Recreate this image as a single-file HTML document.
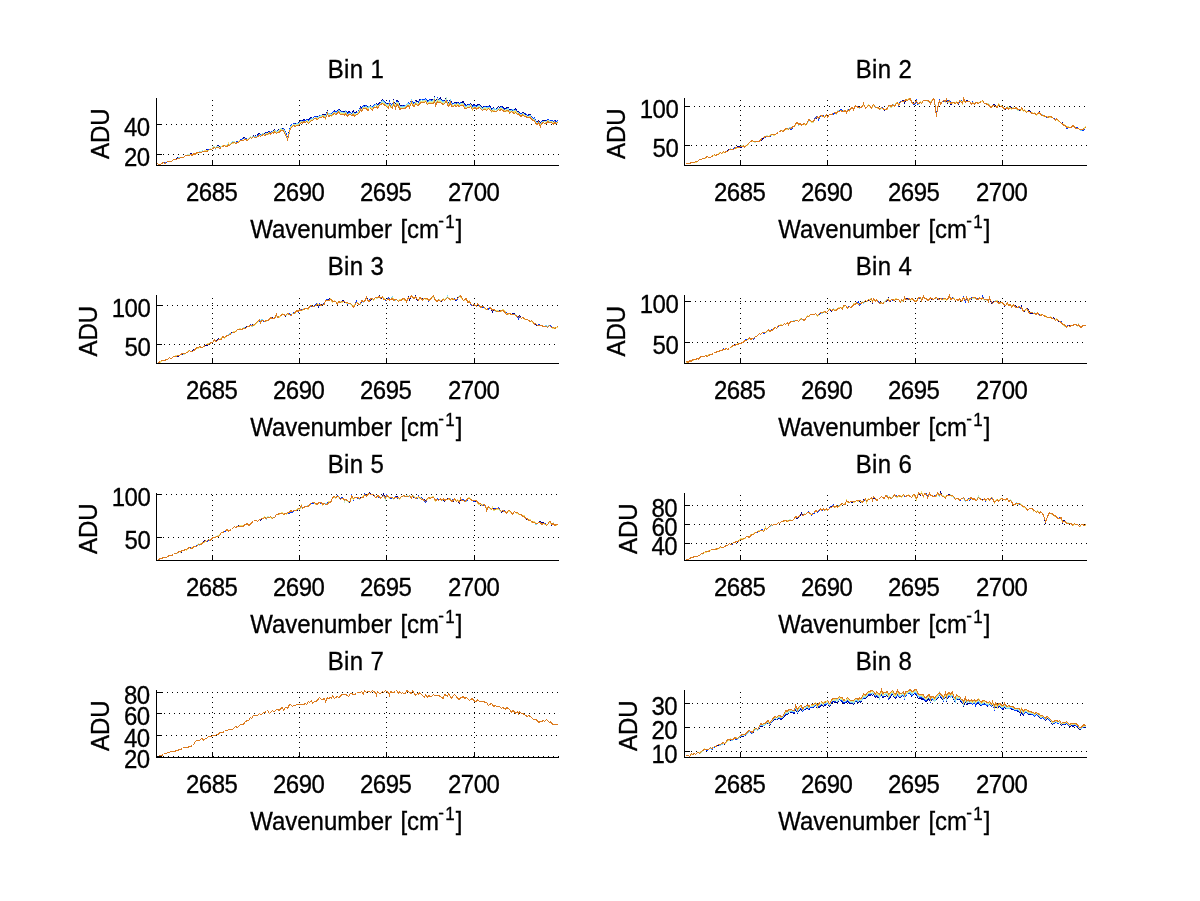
<!DOCTYPE html>
<html><head><meta charset="utf-8"><title>Bins</title>
<style>
html,body{margin:0;padding:0;background:#fff;}
svg{display:block;will-change:transform;}
text{font-family:"Liberation Sans",sans-serif;font-size:24px;fill:#000;stroke:#000;stroke-width:0.3px;}
.tk{letter-spacing:-0.5px;}
.ti{letter-spacing:0.4px;}
.sup{font-size:17px;}
.ax{stroke:#000;stroke-width:1;fill:none;shape-rendering:crispEdges;}
.gr{stroke:#000;stroke-width:1;fill:none;stroke-dasharray:1 4;shape-rendering:crispEdges;}
.ln{fill:none;stroke-width:1;shape-rendering:crispEdges;}
</style></head><body>
<svg width="1200" height="901" viewBox="0 0 1200 901">
<rect x="0" y="0" width="1200" height="901" fill="#fff"/>
<g id="p1">
<line class="gr" x1="161" y1="124.5" x2="559" y2="124.5"/>
<line class="gr" x1="158" y1="154.5" x2="559" y2="154.5"/>
<line class="gr" stroke-dashoffset="1" x1="212.5" y1="165" x2="212.5" y2="99"/>
<line class="gr" stroke-dashoffset="1" x1="299.5" y1="165" x2="299.5" y2="99"/>
<line class="gr" stroke-dashoffset="1" x1="386.5" y1="165" x2="386.5" y2="99"/>
<line class="gr" stroke-dashoffset="1" x1="474.5" y1="165" x2="474.5" y2="99"/>
<polyline class="ln" stroke="#00008f" points="157.5,164.5 158.5,164.5 160.5,164.5 161.5,163.5 163.5,162.5 164.5,162.5 166.5,162.5 167.5,161.5 169.5,161.5 170.5,161.5 171.5,161.5 173.5,159.5 174.5,159.5 176.5,159.5 177.5,157.5 179.5,157.5 180.5,157.5 182.5,157.5 183.5,157.5 185.5,155.5 186.5,155.5 187.5,154.5 189.5,154.5 190.5,153.5 192.5,154.5 193.5,153.5 195.5,153.5 196.5,152.5 198.5,152.5 199.5,151.5 201.5,151.5 202.5,150.5 203.5,151.5 205.5,150.5 206.5,149.5 208.5,149.5 209.5,149.5 211.5,148.5 212.5,147.5 214.5,146.5 215.5,147.5 216.5,146.5 218.5,145.5 219.5,147.5 221.5,146.5 222.5,145.5 224.5,145.5 225.5,145.5 227.5,145.5 228.5,143.5 229.5,144.5 231.5,142.5 232.5,141.5 234.5,141.5 235.5,142.5 237.5,141.5 238.5,141.5 240.5,139.5 241.5,139.5 243.5,137.5 244.5,137.5 245.5,138.5 247.5,139.5 248.5,138.5 250.5,136.5 251.5,137.5 253.5,135.5 254.5,136.5 256.5,135.5 257.5,134.5 259.5,133.5 260.5,135.5 261.5,134.5 263.5,133.5 264.5,133.5 266.5,132.5 267.5,132.5 269.5,131.5 270.5,132.5 272.5,131.5 273.5,131.5 274.5,129.5 276.5,131.5 277.5,130.5 279.5,129.5 280.5,128.5 282.5,128.5 283.5,128.5 285.5,133.5 286.5,134.5 287.5,138.5 289.5,130.5 290.5,125.5 292.5,124.5 293.5,123.5 295.5,123.5 296.5,123.5 298.5,123.5 299.5,121.5 301.5,120.5 302.5,121.5 303.5,119.5 305.5,120.5 306.5,119.5 308.5,120.5 309.5,118.5 311.5,117.5 312.5,118.5 314.5,116.5 315.5,116.5 317.5,116.5 318.5,116.5 319.5,115.5 321.5,115.5 322.5,114.5 324.5,114.5 325.5,115.5 327.5,111.5 328.5,114.5 330.5,113.5 331.5,113.5 332.5,112.5 334.5,110.5 335.5,111.5 337.5,111.5 338.5,109.5 340.5,110.5 341.5,111.5 343.5,111.5 344.5,112.5 345.5,110.5 347.5,113.5 348.5,111.5 350.5,112.5 351.5,113.5 353.5,110.5 354.5,113.5 356.5,111.5 357.5,112.5 359.5,109.5 360.5,106.5 361.5,107.5 363.5,105.5 364.5,105.5 366.5,105.5 367.5,107.5 369.5,106.5 370.5,105.5 372.5,107.5 373.5,105.5 375.5,104.5 376.5,103.5 377.5,105.5 379.5,102.5 380.5,102.5 382.5,99.5 383.5,100.5 385.5,102.5 386.5,103.5 388.5,104.5 389.5,102.5 390.5,103.5 392.5,105.5 393.5,100.5 395.5,105.5 396.5,100.5 398.5,101.5 399.5,105.5 401.5,105.5 402.5,105.5 403.5,105.5 405.5,105.5 406.5,104.5 408.5,102.5 409.5,104.5 411.5,100.5 412.5,102.5 414.5,103.5 415.5,100.5 417.5,101.5 418.5,102.5 419.5,99.5 421.5,99.5 422.5,99.5 424.5,99.5 425.5,98.5 427.5,100.5 428.5,100.5 430.5,99.5 431.5,99.5 433.5,100.5 434.5,97.5 435.5,102.5 437.5,98.5 438.5,99.5 440.5,97.5 441.5,100.5 443.5,100.5 444.5,100.5 446.5,97.5 447.5,102.5 448.5,102.5 450.5,99.5 451.5,103.5 453.5,103.5 454.5,102.5 456.5,102.5 457.5,102.5 459.5,103.5 460.5,102.5 461.5,102.5 463.5,101.5 464.5,104.5 466.5,105.5 467.5,104.5 469.5,104.5 470.5,103.5 472.5,106.5 473.5,104.5 475.5,105.5 476.5,106.5 477.5,104.5 479.5,104.5 480.5,106.5 482.5,107.5 483.5,106.5 485.5,106.5 486.5,106.5 488.5,106.5 489.5,105.5 491.5,109.5 492.5,108.5 493.5,107.5 495.5,109.5 496.5,108.5 498.5,106.5 499.5,107.5 501.5,106.5 502.5,106.5 504.5,108.5 505.5,108.5 506.5,107.5 508.5,107.5 509.5,110.5 511.5,109.5 512.5,109.5 514.5,109.5 515.5,108.5 517.5,111.5 518.5,111.5 519.5,113.5 521.5,113.5 522.5,112.5 524.5,113.5 525.5,114.5 527.5,115.5 528.5,114.5 530.5,114.5 531.5,117.5 533.5,118.5 534.5,117.5 535.5,121.5 537.5,122.5 538.5,120.5 540.5,123.5 541.5,121.5 543.5,120.5 544.5,120.5 546.5,120.5 547.5,119.5 549.5,120.5 550.5,120.5 551.5,120.5 553.5,121.5 554.5,120.5 556.5,121.5 557.5,120.5"/>
<polyline class="ln" stroke="#0038ff" points="157.5,163.5 158.5,164.5 160.5,164.5 161.5,163.5 163.5,162.5 164.5,162.5 166.5,162.5 167.5,161.5 169.5,161.5 170.5,161.5 171.5,161.5 173.5,159.5 174.5,159.5 176.5,159.5 177.5,158.5 179.5,158.5 180.5,157.5 182.5,157.5 183.5,157.5 185.5,155.5 186.5,155.5 187.5,154.5 189.5,154.5 190.5,154.5 192.5,154.5 193.5,153.5 195.5,153.5 196.5,152.5 198.5,152.5 199.5,151.5 201.5,151.5 202.5,150.5 203.5,151.5 205.5,150.5 206.5,150.5 208.5,149.5 209.5,149.5 211.5,148.5 212.5,147.5 214.5,146.5 215.5,147.5 216.5,146.5 218.5,146.5 219.5,147.5 221.5,146.5 222.5,145.5 224.5,145.5 225.5,145.5 227.5,145.5 228.5,143.5 229.5,144.5 231.5,142.5 232.5,142.5 234.5,141.5 235.5,142.5 237.5,141.5 238.5,141.5 240.5,139.5 241.5,139.5 243.5,138.5 244.5,138.5 245.5,138.5 247.5,139.5 248.5,138.5 250.5,136.5 251.5,137.5 253.5,136.5 254.5,136.5 256.5,136.5 257.5,135.5 259.5,134.5 260.5,134.5 261.5,134.5 263.5,133.5 264.5,134.5 266.5,132.5 267.5,133.5 269.5,131.5 270.5,132.5 272.5,131.5 273.5,131.5 274.5,130.5 276.5,131.5 277.5,130.5 279.5,130.5 280.5,128.5 282.5,129.5 283.5,128.5 285.5,132.5 286.5,134.5 287.5,138.5 289.5,131.5 290.5,125.5 292.5,124.5 293.5,123.5 295.5,124.5 296.5,123.5 298.5,123.5 299.5,122.5 301.5,120.5 302.5,121.5 303.5,120.5 305.5,121.5 306.5,119.5 308.5,120.5 309.5,119.5 311.5,118.5 312.5,118.5 314.5,116.5 315.5,116.5 317.5,117.5 318.5,116.5 319.5,115.5 321.5,116.5 322.5,115.5 324.5,115.5 325.5,116.5 327.5,112.5 328.5,114.5 330.5,113.5 331.5,113.5 332.5,112.5 334.5,111.5 335.5,111.5 337.5,112.5 338.5,109.5 340.5,111.5 341.5,111.5 343.5,112.5 344.5,113.5 345.5,110.5 347.5,113.5 348.5,112.5 350.5,112.5 351.5,113.5 353.5,112.5 354.5,114.5 356.5,112.5 357.5,112.5 359.5,109.5 360.5,107.5 361.5,108.5 363.5,105.5 364.5,106.5 366.5,105.5 367.5,108.5 369.5,106.5 370.5,106.5 372.5,107.5 373.5,105.5 375.5,104.5 376.5,104.5 377.5,105.5 379.5,103.5 380.5,102.5 382.5,100.5 383.5,100.5 385.5,103.5 386.5,103.5 388.5,105.5 389.5,101.5 390.5,104.5 392.5,105.5 393.5,101.5 395.5,106.5 396.5,101.5 398.5,102.5 399.5,107.5 401.5,106.5 402.5,105.5 403.5,106.5 405.5,105.5 406.5,104.5 408.5,102.5 409.5,104.5 411.5,100.5 412.5,102.5 414.5,103.5 415.5,101.5 417.5,103.5 418.5,102.5 419.5,100.5 421.5,99.5 422.5,99.5 424.5,99.5 425.5,98.5 427.5,101.5 428.5,100.5 430.5,99.5 431.5,100.5 433.5,100.5 434.5,97.5 435.5,103.5 437.5,98.5 438.5,100.5 440.5,99.5 441.5,101.5 443.5,100.5 444.5,101.5 446.5,98.5 447.5,102.5 448.5,103.5 450.5,100.5 451.5,104.5 453.5,103.5 454.5,103.5 456.5,103.5 457.5,102.5 459.5,104.5 460.5,102.5 461.5,103.5 463.5,103.5 464.5,105.5 466.5,105.5 467.5,105.5 469.5,104.5 470.5,104.5 472.5,107.5 473.5,105.5 475.5,105.5 476.5,107.5 477.5,105.5 479.5,105.5 480.5,106.5 482.5,108.5 483.5,107.5 485.5,106.5 486.5,107.5 488.5,106.5 489.5,106.5 491.5,109.5 492.5,108.5 493.5,108.5 495.5,109.5 496.5,109.5 498.5,108.5 499.5,108.5 501.5,106.5 502.5,107.5 504.5,109.5 505.5,109.5 506.5,108.5 508.5,108.5 509.5,111.5 511.5,109.5 512.5,110.5 514.5,110.5 515.5,109.5 517.5,112.5 518.5,112.5 519.5,113.5 521.5,113.5 522.5,113.5 524.5,114.5 525.5,113.5 527.5,115.5 528.5,115.5 530.5,115.5 531.5,117.5 533.5,118.5 534.5,117.5 535.5,121.5 537.5,122.5 538.5,121.5 540.5,124.5 541.5,121.5 543.5,121.5 544.5,121.5 546.5,121.5 547.5,119.5 549.5,120.5 550.5,120.5 551.5,120.5 553.5,121.5 554.5,120.5 556.5,122.5 557.5,120.5"/>
<polyline class="ln" stroke="#74d4ff" points="157.5,164.5 158.5,164.5 160.5,164.5 161.5,163.5 163.5,162.5 164.5,163.5 166.5,162.5 167.5,161.5 169.5,161.5 170.5,161.5 171.5,161.5 173.5,159.5 174.5,159.5 176.5,159.5 177.5,158.5 179.5,157.5 180.5,157.5 182.5,157.5 183.5,157.5 185.5,155.5 186.5,155.5 187.5,154.5 189.5,154.5 190.5,154.5 192.5,154.5 193.5,154.5 195.5,153.5 196.5,152.5 198.5,152.5 199.5,151.5 201.5,151.5 202.5,150.5 203.5,151.5 205.5,150.5 206.5,150.5 208.5,150.5 209.5,149.5 211.5,148.5 212.5,147.5 214.5,146.5 215.5,148.5 216.5,146.5 218.5,146.5 219.5,147.5 221.5,146.5 222.5,146.5 224.5,145.5 225.5,145.5 227.5,145.5 228.5,143.5 229.5,144.5 231.5,143.5 232.5,141.5 234.5,141.5 235.5,143.5 237.5,142.5 238.5,141.5 240.5,140.5 241.5,140.5 243.5,139.5 244.5,138.5 245.5,139.5 247.5,139.5 248.5,138.5 250.5,136.5 251.5,137.5 253.5,136.5 254.5,136.5 256.5,136.5 257.5,136.5 259.5,134.5 260.5,135.5 261.5,134.5 263.5,133.5 264.5,134.5 266.5,133.5 267.5,133.5 269.5,132.5 270.5,133.5 272.5,131.5 273.5,131.5 274.5,130.5 276.5,131.5 277.5,131.5 279.5,130.5 280.5,128.5 282.5,129.5 283.5,129.5 285.5,133.5 286.5,136.5 287.5,138.5 289.5,131.5 290.5,126.5 292.5,125.5 293.5,124.5 295.5,124.5 296.5,123.5 298.5,123.5 299.5,122.5 301.5,121.5 302.5,121.5 303.5,121.5 305.5,121.5 306.5,120.5 308.5,121.5 309.5,120.5 311.5,118.5 312.5,118.5 314.5,118.5 315.5,117.5 317.5,117.5 318.5,116.5 319.5,116.5 321.5,115.5 322.5,115.5 324.5,115.5 325.5,116.5 327.5,112.5 328.5,114.5 330.5,113.5 331.5,114.5 332.5,113.5 334.5,112.5 335.5,112.5 337.5,112.5 338.5,110.5 340.5,111.5 341.5,112.5 343.5,112.5 344.5,113.5 345.5,111.5 347.5,115.5 348.5,113.5 350.5,113.5 351.5,114.5 353.5,112.5 354.5,114.5 356.5,113.5 357.5,112.5 359.5,110.5 360.5,108.5 361.5,109.5 363.5,106.5 364.5,107.5 366.5,106.5 367.5,107.5 369.5,106.5 370.5,106.5 372.5,107.5 373.5,106.5 375.5,104.5 376.5,104.5 377.5,106.5 379.5,104.5 380.5,103.5 382.5,100.5 383.5,101.5 385.5,103.5 386.5,104.5 388.5,105.5 389.5,103.5 390.5,105.5 392.5,106.5 393.5,101.5 395.5,107.5 396.5,102.5 398.5,102.5 399.5,107.5 401.5,106.5 402.5,106.5 403.5,106.5 405.5,106.5 406.5,104.5 408.5,103.5 409.5,105.5 411.5,100.5 412.5,104.5 414.5,104.5 415.5,101.5 417.5,103.5 418.5,104.5 419.5,101.5 421.5,99.5 422.5,100.5 424.5,100.5 425.5,99.5 427.5,102.5 428.5,101.5 430.5,100.5 431.5,101.5 433.5,100.5 434.5,98.5 435.5,104.5 437.5,99.5 438.5,100.5 440.5,99.5 441.5,101.5 443.5,101.5 444.5,101.5 446.5,98.5 447.5,103.5 448.5,104.5 450.5,100.5 451.5,105.5 453.5,104.5 454.5,103.5 456.5,104.5 457.5,103.5 459.5,104.5 460.5,103.5 461.5,104.5 463.5,103.5 464.5,106.5 466.5,106.5 467.5,105.5 469.5,105.5 470.5,104.5 472.5,108.5 473.5,106.5 475.5,106.5 476.5,107.5 477.5,106.5 479.5,105.5 480.5,106.5 482.5,108.5 483.5,107.5 485.5,107.5 486.5,107.5 488.5,107.5 489.5,107.5 491.5,110.5 492.5,109.5 493.5,108.5 495.5,109.5 496.5,109.5 498.5,108.5 499.5,108.5 501.5,107.5 502.5,108.5 504.5,110.5 505.5,109.5 506.5,109.5 508.5,108.5 509.5,111.5 511.5,110.5 512.5,109.5 514.5,110.5 515.5,110.5 517.5,112.5 518.5,112.5 519.5,114.5 521.5,114.5 522.5,113.5 524.5,114.5 525.5,115.5 527.5,116.5 528.5,116.5 530.5,115.5 531.5,118.5 533.5,119.5 534.5,118.5 535.5,122.5 537.5,122.5 538.5,121.5 540.5,124.5 541.5,122.5 543.5,121.5 544.5,121.5 546.5,122.5 547.5,120.5 549.5,120.5 550.5,121.5 551.5,121.5 553.5,122.5 554.5,121.5 556.5,123.5 557.5,121.5"/>
<polyline class="ln" stroke="#c0f0ca" points="157.5,164.5 158.5,164.5 160.5,164.5 161.5,163.5 163.5,162.5 164.5,163.5 166.5,162.5 167.5,161.5 169.5,161.5 170.5,161.5 171.5,161.5 173.5,159.5 174.5,159.5 176.5,159.5 177.5,158.5 179.5,158.5 180.5,157.5 182.5,157.5 183.5,157.5 185.5,155.5 186.5,155.5 187.5,154.5 189.5,154.5 190.5,154.5 192.5,154.5 193.5,153.5 195.5,153.5 196.5,153.5 198.5,152.5 199.5,152.5 201.5,151.5 202.5,151.5 203.5,151.5 205.5,150.5 206.5,150.5 208.5,150.5 209.5,149.5 211.5,148.5 212.5,147.5 214.5,146.5 215.5,147.5 216.5,147.5 218.5,146.5 219.5,148.5 221.5,146.5 222.5,145.5 224.5,145.5 225.5,145.5 227.5,145.5 228.5,144.5 229.5,144.5 231.5,143.5 232.5,142.5 234.5,141.5 235.5,143.5 237.5,142.5 238.5,142.5 240.5,140.5 241.5,140.5 243.5,139.5 244.5,138.5 245.5,139.5 247.5,139.5 248.5,138.5 250.5,136.5 251.5,138.5 253.5,136.5 254.5,137.5 256.5,137.5 257.5,136.5 259.5,134.5 260.5,136.5 261.5,135.5 263.5,133.5 264.5,134.5 266.5,133.5 267.5,133.5 269.5,132.5 270.5,133.5 272.5,132.5 273.5,132.5 274.5,130.5 276.5,132.5 277.5,131.5 279.5,130.5 280.5,128.5 282.5,130.5 283.5,129.5 285.5,134.5 286.5,135.5 287.5,139.5 289.5,132.5 290.5,127.5 292.5,126.5 293.5,124.5 295.5,124.5 296.5,124.5 298.5,124.5 299.5,123.5 301.5,121.5 302.5,122.5 303.5,121.5 305.5,121.5 306.5,120.5 308.5,121.5 309.5,120.5 311.5,119.5 312.5,119.5 314.5,118.5 315.5,117.5 317.5,118.5 318.5,117.5 319.5,116.5 321.5,116.5 322.5,115.5 324.5,116.5 325.5,117.5 327.5,112.5 328.5,115.5 330.5,114.5 331.5,115.5 332.5,113.5 334.5,112.5 335.5,114.5 337.5,112.5 338.5,111.5 340.5,112.5 341.5,112.5 343.5,113.5 344.5,113.5 345.5,112.5 347.5,114.5 348.5,114.5 350.5,113.5 351.5,115.5 353.5,112.5 354.5,115.5 356.5,114.5 357.5,113.5 359.5,110.5 360.5,108.5 361.5,109.5 363.5,107.5 364.5,107.5 366.5,107.5 367.5,109.5 369.5,107.5 370.5,107.5 372.5,108.5 373.5,107.5 375.5,105.5 376.5,105.5 377.5,106.5 379.5,104.5 380.5,103.5 382.5,101.5 383.5,103.5 385.5,104.5 386.5,104.5 388.5,106.5 389.5,102.5 390.5,106.5 392.5,106.5 393.5,101.5 395.5,106.5 396.5,102.5 398.5,103.5 399.5,108.5 401.5,107.5 402.5,107.5 403.5,107.5 405.5,107.5 406.5,105.5 408.5,104.5 409.5,105.5 411.5,101.5 412.5,104.5 414.5,105.5 415.5,101.5 417.5,103.5 418.5,104.5 419.5,101.5 421.5,101.5 422.5,101.5 424.5,100.5 425.5,100.5 427.5,102.5 428.5,102.5 430.5,101.5 431.5,101.5 433.5,101.5 434.5,99.5 435.5,103.5 437.5,99.5 438.5,101.5 440.5,100.5 441.5,102.5 443.5,102.5 444.5,102.5 446.5,98.5 447.5,103.5 448.5,104.5 450.5,101.5 451.5,105.5 453.5,105.5 454.5,104.5 456.5,105.5 457.5,103.5 459.5,105.5 460.5,104.5 461.5,103.5 463.5,104.5 464.5,107.5 466.5,107.5 467.5,105.5 469.5,106.5 470.5,105.5 472.5,108.5 473.5,107.5 475.5,107.5 476.5,108.5 477.5,106.5 479.5,106.5 480.5,107.5 482.5,109.5 483.5,108.5 485.5,107.5 486.5,108.5 488.5,108.5 489.5,107.5 491.5,111.5 492.5,109.5 493.5,109.5 495.5,111.5 496.5,110.5 498.5,108.5 499.5,109.5 501.5,108.5 502.5,108.5 504.5,110.5 505.5,109.5 506.5,109.5 508.5,109.5 509.5,112.5 511.5,110.5 512.5,111.5 514.5,111.5 515.5,110.5 517.5,112.5 518.5,113.5 519.5,114.5 521.5,114.5 522.5,113.5 524.5,115.5 525.5,115.5 527.5,116.5 528.5,116.5 530.5,116.5 531.5,118.5 533.5,119.5 534.5,119.5 535.5,122.5 537.5,123.5 538.5,122.5 540.5,125.5 541.5,122.5 543.5,122.5 544.5,121.5 546.5,122.5 547.5,120.5 549.5,121.5 550.5,121.5 551.5,121.5 553.5,122.5 554.5,121.5 556.5,123.5 557.5,121.5"/>
<polyline class="ln" stroke="#f0e274" points="157.5,164.5 158.5,164.5 160.5,164.5 161.5,163.5 163.5,162.5 164.5,163.5 166.5,162.5 167.5,161.5 169.5,161.5 170.5,161.5 171.5,161.5 173.5,159.5 174.5,159.5 176.5,159.5 177.5,158.5 179.5,158.5 180.5,157.5 182.5,157.5 183.5,157.5 185.5,155.5 186.5,155.5 187.5,155.5 189.5,155.5 190.5,154.5 192.5,154.5 193.5,154.5 195.5,154.5 196.5,153.5 198.5,152.5 199.5,152.5 201.5,152.5 202.5,151.5 203.5,151.5 205.5,150.5 206.5,150.5 208.5,150.5 209.5,149.5 211.5,149.5 212.5,148.5 214.5,147.5 215.5,148.5 216.5,147.5 218.5,147.5 219.5,148.5 221.5,146.5 222.5,145.5 224.5,145.5 225.5,145.5 227.5,146.5 228.5,143.5 229.5,145.5 231.5,143.5 232.5,143.5 234.5,142.5 235.5,143.5 237.5,142.5 238.5,141.5 240.5,140.5 241.5,140.5 243.5,139.5 244.5,138.5 245.5,139.5 247.5,139.5 248.5,139.5 250.5,137.5 251.5,138.5 253.5,136.5 254.5,137.5 256.5,137.5 257.5,136.5 259.5,135.5 260.5,136.5 261.5,135.5 263.5,134.5 264.5,135.5 266.5,133.5 267.5,134.5 269.5,133.5 270.5,133.5 272.5,132.5 273.5,132.5 274.5,130.5 276.5,132.5 277.5,132.5 279.5,131.5 280.5,129.5 282.5,130.5 283.5,129.5 285.5,134.5 286.5,135.5 287.5,139.5 289.5,132.5 290.5,127.5 292.5,125.5 293.5,125.5 295.5,125.5 296.5,125.5 298.5,125.5 299.5,123.5 301.5,121.5 302.5,122.5 303.5,122.5 305.5,122.5 306.5,121.5 308.5,122.5 309.5,121.5 311.5,120.5 312.5,120.5 314.5,118.5 315.5,118.5 317.5,118.5 318.5,118.5 319.5,117.5 321.5,117.5 322.5,115.5 324.5,116.5 325.5,118.5 327.5,113.5 328.5,116.5 330.5,115.5 331.5,116.5 332.5,114.5 334.5,112.5 335.5,113.5 337.5,113.5 338.5,111.5 340.5,113.5 341.5,113.5 343.5,113.5 344.5,114.5 345.5,112.5 347.5,115.5 348.5,114.5 350.5,114.5 351.5,115.5 353.5,113.5 354.5,115.5 356.5,114.5 357.5,113.5 359.5,111.5 360.5,109.5 361.5,110.5 363.5,107.5 364.5,108.5 366.5,107.5 367.5,109.5 369.5,108.5 370.5,107.5 372.5,109.5 373.5,107.5 375.5,106.5 376.5,105.5 377.5,106.5 379.5,104.5 380.5,104.5 382.5,103.5 383.5,103.5 385.5,104.5 386.5,105.5 388.5,107.5 389.5,104.5 390.5,107.5 392.5,107.5 393.5,102.5 395.5,108.5 396.5,103.5 398.5,104.5 399.5,108.5 401.5,108.5 402.5,108.5 403.5,108.5 405.5,107.5 406.5,106.5 408.5,105.5 409.5,106.5 411.5,101.5 412.5,104.5 414.5,105.5 415.5,103.5 417.5,104.5 418.5,105.5 419.5,102.5 421.5,101.5 422.5,101.5 424.5,101.5 425.5,100.5 427.5,103.5 428.5,102.5 430.5,102.5 431.5,102.5 433.5,102.5 434.5,100.5 435.5,105.5 437.5,100.5 438.5,102.5 440.5,101.5 441.5,103.5 443.5,103.5 444.5,103.5 446.5,100.5 447.5,104.5 448.5,104.5 450.5,102.5 451.5,105.5 453.5,105.5 454.5,104.5 456.5,105.5 457.5,103.5 459.5,105.5 460.5,105.5 461.5,104.5 463.5,104.5 464.5,107.5 466.5,108.5 467.5,107.5 469.5,107.5 470.5,105.5 472.5,109.5 473.5,107.5 475.5,107.5 476.5,108.5 477.5,107.5 479.5,107.5 480.5,108.5 482.5,110.5 483.5,109.5 485.5,108.5 486.5,109.5 488.5,108.5 489.5,108.5 491.5,110.5 492.5,111.5 493.5,110.5 495.5,111.5 496.5,111.5 498.5,109.5 499.5,109.5 501.5,108.5 502.5,109.5 504.5,110.5 505.5,110.5 506.5,111.5 508.5,110.5 509.5,112.5 511.5,111.5 512.5,111.5 514.5,112.5 515.5,110.5 517.5,113.5 518.5,113.5 519.5,115.5 521.5,115.5 522.5,114.5 524.5,115.5 525.5,115.5 527.5,117.5 528.5,117.5 530.5,116.5 531.5,119.5 533.5,120.5 534.5,119.5 535.5,123.5 537.5,123.5 538.5,122.5 540.5,125.5 541.5,123.5 543.5,122.5 544.5,121.5 546.5,123.5 547.5,120.5 549.5,122.5 550.5,122.5 551.5,121.5 553.5,123.5 554.5,121.5 556.5,123.5 557.5,122.5"/>
<polyline class="ln" stroke="#dc7c20" points="157.5,163.5 158.5,164.5 160.5,164.5 161.5,163.5 163.5,162.5 164.5,163.5 166.5,162.5 167.5,161.5 169.5,161.5 170.5,161.5 171.5,161.5 173.5,159.5 174.5,159.5 176.5,159.5 177.5,158.5 179.5,158.5 180.5,157.5 182.5,157.5 183.5,157.5 185.5,155.5 186.5,155.5 187.5,155.5 189.5,155.5 190.5,154.5 192.5,155.5 193.5,153.5 195.5,154.5 196.5,152.5 198.5,152.5 199.5,152.5 201.5,152.5 202.5,151.5 203.5,151.5 205.5,151.5 206.5,151.5 208.5,150.5 209.5,149.5 211.5,149.5 212.5,148.5 214.5,147.5 215.5,148.5 216.5,147.5 218.5,147.5 219.5,148.5 221.5,147.5 222.5,146.5 224.5,145.5 225.5,146.5 227.5,146.5 228.5,144.5 229.5,145.5 231.5,143.5 232.5,142.5 234.5,142.5 235.5,143.5 237.5,142.5 238.5,142.5 240.5,140.5 241.5,140.5 243.5,140.5 244.5,139.5 245.5,139.5 247.5,140.5 248.5,139.5 250.5,137.5 251.5,138.5 253.5,136.5 254.5,137.5 256.5,137.5 257.5,136.5 259.5,135.5 260.5,136.5 261.5,135.5 263.5,134.5 264.5,135.5 266.5,134.5 267.5,134.5 269.5,132.5 270.5,134.5 272.5,132.5 273.5,133.5 274.5,131.5 276.5,133.5 277.5,132.5 279.5,132.5 280.5,130.5 282.5,130.5 283.5,130.5 285.5,135.5 286.5,136.5 287.5,139.5 289.5,132.5 290.5,128.5 292.5,126.5 293.5,125.5 295.5,126.5 296.5,125.5 298.5,125.5 299.5,124.5 301.5,122.5 302.5,123.5 303.5,121.5 305.5,122.5 306.5,121.5 308.5,123.5 309.5,122.5 311.5,120.5 312.5,120.5 314.5,118.5 315.5,118.5 317.5,119.5 318.5,118.5 319.5,117.5 321.5,117.5 322.5,116.5 324.5,117.5 325.5,118.5 327.5,113.5 328.5,116.5 330.5,115.5 331.5,115.5 332.5,114.5 334.5,113.5 335.5,114.5 337.5,113.5 338.5,111.5 340.5,114.5 341.5,114.5 343.5,114.5 344.5,115.5 345.5,113.5 347.5,116.5 348.5,114.5 350.5,114.5 351.5,115.5 353.5,114.5 354.5,116.5 356.5,114.5 357.5,114.5 359.5,112.5 360.5,109.5 361.5,111.5 363.5,108.5 364.5,108.5 366.5,108.5 367.5,110.5 369.5,109.5 370.5,108.5 372.5,110.5 373.5,107.5 375.5,107.5 376.5,106.5 377.5,108.5 379.5,105.5 380.5,104.5 382.5,103.5 383.5,104.5 385.5,105.5 386.5,106.5 388.5,108.5 389.5,104.5 390.5,106.5 392.5,108.5 393.5,103.5 395.5,108.5 396.5,104.5 398.5,105.5 399.5,109.5 401.5,108.5 402.5,108.5 403.5,108.5 405.5,108.5 406.5,106.5 408.5,105.5 409.5,107.5 411.5,102.5 412.5,105.5 414.5,106.5 415.5,103.5 417.5,105.5 418.5,105.5 419.5,103.5 421.5,102.5 422.5,102.5 424.5,102.5 425.5,101.5 427.5,104.5 428.5,103.5 430.5,103.5 431.5,103.5 433.5,103.5 434.5,100.5 435.5,105.5 437.5,101.5 438.5,102.5 440.5,102.5 441.5,103.5 443.5,104.5 444.5,103.5 446.5,100.5 447.5,105.5 448.5,106.5 450.5,102.5 451.5,106.5 453.5,106.5 454.5,105.5 456.5,106.5 457.5,105.5 459.5,106.5 460.5,105.5 461.5,105.5 463.5,105.5 464.5,108.5 466.5,108.5 467.5,107.5 469.5,107.5 470.5,106.5 472.5,109.5 473.5,108.5 475.5,107.5 476.5,109.5 477.5,108.5 479.5,107.5 480.5,108.5 482.5,110.5 483.5,109.5 485.5,109.5 486.5,110.5 488.5,108.5 489.5,109.5 491.5,111.5 492.5,110.5 493.5,111.5 495.5,111.5 496.5,111.5 498.5,109.5 499.5,110.5 501.5,109.5 502.5,110.5 504.5,111.5 505.5,111.5 506.5,110.5 508.5,110.5 509.5,113.5 511.5,111.5 512.5,112.5 514.5,113.5 515.5,112.5 517.5,114.5 518.5,113.5 519.5,115.5 521.5,116.5 522.5,114.5 524.5,116.5 525.5,116.5 527.5,117.5 528.5,117.5 530.5,117.5 531.5,119.5 533.5,120.5 534.5,120.5 535.5,123.5 537.5,124.5 538.5,122.5 540.5,126.5 541.5,123.5 543.5,122.5 544.5,123.5 546.5,123.5 547.5,121.5 549.5,122.5 550.5,122.5 551.5,122.5 553.5,124.5 554.5,122.5 556.5,123.5 557.5,122.5"/>
<path class="ax" d="M156.5 98 V165.5 H559"/>
<line class="ax" x1="156" y1="124.5" x2="162" y2="124.5"/>
<line class="ax" x1="156" y1="154.5" x2="162" y2="154.5"/>
<line class="ax" x1="212.5" y1="166" x2="212.5" y2="160"/>
<line class="ax" x1="299.5" y1="166" x2="299.5" y2="160"/>
<line class="ax" x1="386.5" y1="166" x2="386.5" y2="160"/>
<line class="ax" x1="474.5" y1="166" x2="474.5" y2="160"/>
<text class="tk" transform="translate(149.6,135.7) scale(1,1.05)" text-anchor="end">40</text>
<text class="tk" transform="translate(149.6,165.7) scale(1,1.05)" text-anchor="end">20</text>
<text class="tk" transform="translate(211.7,200.6) scale(1,1.05)" text-anchor="middle">2685</text>
<text class="tk" transform="translate(298.7,200.6) scale(1,1.05)" text-anchor="middle">2690</text>
<text class="tk" transform="translate(385.7,200.6) scale(1,1.05)" text-anchor="middle">2695</text>
<text class="tk" transform="translate(473.7,200.6) scale(1,1.05)" text-anchor="middle">2700</text>
<text class="ti" transform="translate(356.0,77.5) scale(1,1.05)" text-anchor="middle">Bin 1</text>
<text transform="translate(250.2,238.0) scale(1,1.05)" text-anchor="start">Wavenumber</text>
<text transform="translate(400.4,238.0) scale(1,1.05)" text-anchor="start">[cm</text>
<text class="sup" transform="translate(438.2,226.7) scale(1,1.05)" text-anchor="start">-</text>
<text class="sup" transform="translate(445.2,227.5) scale(1,1.05)" text-anchor="start">1</text>
<text transform="translate(455.8,238.0) scale(1,1.05)" text-anchor="start">]</text>
<text transform="translate(109.4,133.7) rotate(-90) scale(1,1.05)" text-anchor="middle">ADU</text>
</g>
<g id="p2">
<line class="gr" x1="689" y1="106.5" x2="1087" y2="106.5"/>
<line class="gr" x1="686" y1="145.5" x2="1087" y2="145.5"/>
<line class="gr" stroke-dashoffset="1" x1="740.5" y1="165" x2="740.5" y2="99"/>
<line class="gr" stroke-dashoffset="1" x1="827.5" y1="165" x2="827.5" y2="99"/>
<line class="gr" stroke-dashoffset="1" x1="915.5" y1="165" x2="915.5" y2="99"/>
<line class="gr" stroke-dashoffset="1" x1="1002.5" y1="165" x2="1002.5" y2="99"/>
<polyline class="ln" stroke="#00008f" points="685.5,164.5 686.5,163.5 688.5,163.5 689.5,163.5 691.5,162.5 692.5,162.5 694.5,162.5 695.5,161.5 697.5,161.5 698.5,160.5 699.5,159.5 701.5,159.5 702.5,158.5 704.5,158.5 705.5,157.5 707.5,156.5 708.5,157.5 710.5,157.5 711.5,156.5 713.5,155.5 714.5,155.5 715.5,155.5 717.5,154.5 718.5,153.5 720.5,152.5 721.5,153.5 723.5,151.5 724.5,152.5 726.5,151.5 727.5,150.5 729.5,149.5 730.5,149.5 731.5,149.5 733.5,149.5 734.5,147.5 736.5,148.5 737.5,146.5 739.5,146.5 740.5,147.5 742.5,146.5 743.5,145.5 744.5,146.5 746.5,145.5 747.5,145.5 749.5,142.5 750.5,141.5 752.5,141.5 753.5,141.5 755.5,141.5 756.5,141.5 757.5,141.5 759.5,141.5 760.5,140.5 762.5,139.5 763.5,137.5 765.5,136.5 766.5,136.5 768.5,136.5 769.5,136.5 771.5,135.5 772.5,134.5 773.5,134.5 775.5,134.5 776.5,133.5 778.5,132.5 779.5,131.5 781.5,130.5 782.5,130.5 784.5,130.5 785.5,129.5 787.5,129.5 788.5,129.5 789.5,128.5 791.5,128.5 792.5,126.5 794.5,126.5 795.5,124.5 797.5,122.5 798.5,125.5 800.5,123.5 801.5,125.5 802.5,124.5 804.5,123.5 805.5,124.5 807.5,123.5 808.5,119.5 810.5,120.5 811.5,121.5 813.5,121.5 814.5,119.5 815.5,118.5 817.5,117.5 818.5,118.5 820.5,115.5 821.5,115.5 823.5,116.5 824.5,116.5 826.5,115.5 827.5,116.5 829.5,114.5 830.5,114.5 831.5,114.5 833.5,114.5 834.5,112.5 836.5,113.5 837.5,110.5 839.5,111.5 840.5,110.5 842.5,110.5 843.5,111.5 845.5,111.5 846.5,112.5 847.5,109.5 849.5,111.5 850.5,108.5 852.5,108.5 853.5,109.5 855.5,105.5 856.5,106.5 858.5,106.5 859.5,108.5 860.5,107.5 862.5,106.5 863.5,104.5 865.5,107.5 866.5,107.5 868.5,105.5 869.5,105.5 871.5,108.5 872.5,105.5 873.5,105.5 875.5,106.5 876.5,107.5 878.5,108.5 879.5,109.5 881.5,107.5 882.5,108.5 884.5,110.5 885.5,109.5 887.5,109.5 888.5,105.5 889.5,106.5 891.5,107.5 892.5,104.5 894.5,105.5 895.5,104.5 897.5,102.5 898.5,105.5 900.5,102.5 901.5,101.5 903.5,100.5 904.5,102.5 905.5,100.5 907.5,99.5 908.5,98.5 910.5,98.5 911.5,102.5 913.5,102.5 914.5,103.5 916.5,101.5 917.5,103.5 918.5,103.5 920.5,101.5 921.5,103.5 923.5,100.5 924.5,100.5 926.5,100.5 927.5,100.5 929.5,101.5 930.5,103.5 931.5,101.5 933.5,98.5 934.5,100.5 936.5,115.5 937.5,107.5 939.5,101.5 940.5,103.5 942.5,101.5 943.5,100.5 945.5,101.5 946.5,99.5 947.5,103.5 949.5,100.5 950.5,104.5 952.5,103.5 953.5,102.5 955.5,103.5 956.5,101.5 958.5,104.5 959.5,100.5 961.5,101.5 962.5,103.5 963.5,99.5 965.5,102.5 966.5,100.5 968.5,101.5 969.5,101.5 971.5,104.5 972.5,101.5 974.5,104.5 975.5,102.5 976.5,102.5 978.5,102.5 979.5,102.5 981.5,101.5 982.5,100.5 984.5,103.5 985.5,103.5 987.5,103.5 988.5,103.5 989.5,105.5 991.5,107.5 992.5,105.5 994.5,104.5 995.5,106.5 997.5,106.5 998.5,104.5 1000.5,106.5 1001.5,105.5 1003.5,107.5 1004.5,108.5 1005.5,109.5 1007.5,106.5 1008.5,109.5 1010.5,106.5 1011.5,108.5 1013.5,108.5 1014.5,108.5 1016.5,108.5 1017.5,110.5 1019.5,110.5 1020.5,109.5 1021.5,108.5 1023.5,110.5 1024.5,110.5 1026.5,111.5 1027.5,111.5 1029.5,110.5 1030.5,111.5 1032.5,113.5 1033.5,113.5 1034.5,112.5 1036.5,114.5 1037.5,113.5 1039.5,111.5 1040.5,114.5 1042.5,115.5 1043.5,115.5 1045.5,116.5 1046.5,116.5 1047.5,116.5 1049.5,117.5 1050.5,116.5 1052.5,117.5 1053.5,118.5 1055.5,120.5 1056.5,118.5 1058.5,120.5 1059.5,121.5 1061.5,123.5 1062.5,122.5 1063.5,125.5 1065.5,125.5 1066.5,127.5 1068.5,126.5 1069.5,127.5 1071.5,127.5 1072.5,125.5 1074.5,126.5 1075.5,128.5 1077.5,128.5 1078.5,128.5 1079.5,129.5 1081.5,129.5 1082.5,130.5 1084.5,129.5 1085.5,126.5"/>
<polyline class="ln" stroke="#0038ff" points="685.5,164.5 686.5,163.5 688.5,163.5 689.5,163.5 691.5,162.5 692.5,162.5 694.5,162.5 695.5,161.5 697.5,161.5 698.5,160.5 699.5,159.5 701.5,159.5 702.5,158.5 704.5,158.5 705.5,157.5 707.5,156.5 708.5,157.5 710.5,157.5 711.5,156.5 713.5,155.5 714.5,155.5 715.5,155.5 717.5,154.5 718.5,154.5 720.5,152.5 721.5,153.5 723.5,152.5 724.5,152.5 726.5,151.5 727.5,151.5 729.5,149.5 730.5,149.5 731.5,149.5 733.5,149.5 734.5,147.5 736.5,147.5 737.5,147.5 739.5,147.5 740.5,146.5 742.5,145.5 743.5,145.5 744.5,146.5 746.5,145.5 747.5,144.5 749.5,142.5 750.5,141.5 752.5,141.5 753.5,141.5 755.5,141.5 756.5,141.5 757.5,141.5 759.5,141.5 760.5,139.5 762.5,138.5 763.5,137.5 765.5,137.5 766.5,136.5 768.5,136.5 769.5,136.5 771.5,135.5 772.5,134.5 773.5,134.5 775.5,134.5 776.5,133.5 778.5,132.5 779.5,131.5 781.5,130.5 782.5,130.5 784.5,130.5 785.5,128.5 787.5,129.5 788.5,129.5 789.5,128.5 791.5,129.5 792.5,127.5 794.5,125.5 795.5,124.5 797.5,122.5 798.5,125.5 800.5,123.5 801.5,124.5 802.5,124.5 804.5,124.5 805.5,125.5 807.5,123.5 808.5,119.5 810.5,120.5 811.5,122.5 813.5,122.5 814.5,119.5 815.5,117.5 817.5,116.5 818.5,119.5 820.5,115.5 821.5,115.5 823.5,115.5 824.5,117.5 826.5,115.5 827.5,116.5 829.5,115.5 830.5,114.5 831.5,114.5 833.5,114.5 834.5,112.5 836.5,114.5 837.5,110.5 839.5,111.5 840.5,109.5 842.5,110.5 843.5,110.5 845.5,110.5 846.5,112.5 847.5,109.5 849.5,110.5 850.5,108.5 852.5,108.5 853.5,109.5 855.5,105.5 856.5,106.5 858.5,107.5 859.5,107.5 860.5,107.5 862.5,106.5 863.5,104.5 865.5,107.5 866.5,107.5 868.5,105.5 869.5,106.5 871.5,108.5 872.5,106.5 873.5,104.5 875.5,107.5 876.5,107.5 878.5,108.5 879.5,109.5 881.5,108.5 882.5,107.5 884.5,109.5 885.5,109.5 887.5,109.5 888.5,105.5 889.5,105.5 891.5,106.5 892.5,104.5 894.5,106.5 895.5,103.5 897.5,102.5 898.5,105.5 900.5,101.5 901.5,101.5 903.5,101.5 904.5,101.5 905.5,100.5 907.5,99.5 908.5,99.5 910.5,98.5 911.5,101.5 913.5,104.5 914.5,104.5 916.5,100.5 917.5,104.5 918.5,103.5 920.5,102.5 921.5,103.5 923.5,100.5 924.5,100.5 926.5,100.5 927.5,101.5 929.5,101.5 930.5,102.5 931.5,100.5 933.5,99.5 934.5,100.5 936.5,115.5 937.5,107.5 939.5,100.5 940.5,103.5 942.5,101.5 943.5,101.5 945.5,101.5 946.5,99.5 947.5,101.5 949.5,100.5 950.5,102.5 952.5,103.5 953.5,102.5 955.5,103.5 956.5,101.5 958.5,103.5 959.5,101.5 961.5,100.5 962.5,103.5 963.5,99.5 965.5,102.5 966.5,101.5 968.5,101.5 969.5,101.5 971.5,104.5 972.5,101.5 974.5,103.5 975.5,103.5 976.5,102.5 978.5,103.5 979.5,102.5 981.5,101.5 982.5,100.5 984.5,103.5 985.5,103.5 987.5,104.5 988.5,103.5 989.5,105.5 991.5,107.5 992.5,105.5 994.5,105.5 995.5,106.5 997.5,106.5 998.5,103.5 1000.5,106.5 1001.5,105.5 1003.5,108.5 1004.5,109.5 1005.5,108.5 1007.5,107.5 1008.5,108.5 1010.5,107.5 1011.5,108.5 1013.5,108.5 1014.5,108.5 1016.5,107.5 1017.5,109.5 1019.5,109.5 1020.5,109.5 1021.5,109.5 1023.5,110.5 1024.5,109.5 1026.5,111.5 1027.5,111.5 1029.5,111.5 1030.5,112.5 1032.5,113.5 1033.5,113.5 1034.5,113.5 1036.5,115.5 1037.5,114.5 1039.5,112.5 1040.5,114.5 1042.5,114.5 1043.5,116.5 1045.5,116.5 1046.5,117.5 1047.5,117.5 1049.5,117.5 1050.5,117.5 1052.5,117.5 1053.5,118.5 1055.5,119.5 1056.5,118.5 1058.5,121.5 1059.5,121.5 1061.5,123.5 1062.5,124.5 1063.5,125.5 1065.5,125.5 1066.5,128.5 1068.5,127.5 1069.5,127.5 1071.5,127.5 1072.5,125.5 1074.5,126.5 1075.5,128.5 1077.5,127.5 1078.5,128.5 1079.5,129.5 1081.5,129.5 1082.5,130.5 1084.5,129.5 1085.5,126.5"/>
<polyline class="ln" stroke="#74d4ff" points="685.5,164.5 686.5,163.5 688.5,163.5 689.5,163.5 691.5,162.5 692.5,162.5 694.5,162.5 695.5,162.5 697.5,161.5 698.5,160.5 699.5,159.5 701.5,159.5 702.5,158.5 704.5,158.5 705.5,157.5 707.5,156.5 708.5,157.5 710.5,157.5 711.5,156.5 713.5,155.5 714.5,155.5 715.5,155.5 717.5,154.5 718.5,153.5 720.5,152.5 721.5,153.5 723.5,152.5 724.5,152.5 726.5,151.5 727.5,151.5 729.5,149.5 730.5,148.5 731.5,149.5 733.5,149.5 734.5,148.5 736.5,148.5 737.5,147.5 739.5,147.5 740.5,146.5 742.5,145.5 743.5,145.5 744.5,146.5 746.5,145.5 747.5,145.5 749.5,142.5 750.5,141.5 752.5,141.5 753.5,141.5 755.5,142.5 756.5,141.5 757.5,141.5 759.5,141.5 760.5,139.5 762.5,138.5 763.5,137.5 765.5,136.5 766.5,136.5 768.5,136.5 769.5,136.5 771.5,134.5 772.5,134.5 773.5,135.5 775.5,134.5 776.5,133.5 778.5,132.5 779.5,131.5 781.5,130.5 782.5,130.5 784.5,130.5 785.5,129.5 787.5,129.5 788.5,129.5 789.5,127.5 791.5,128.5 792.5,126.5 794.5,126.5 795.5,123.5 797.5,122.5 798.5,125.5 800.5,123.5 801.5,124.5 802.5,124.5 804.5,123.5 805.5,125.5 807.5,123.5 808.5,120.5 810.5,120.5 811.5,121.5 813.5,122.5 814.5,119.5 815.5,118.5 817.5,116.5 818.5,118.5 820.5,115.5 821.5,116.5 823.5,116.5 824.5,117.5 826.5,115.5 827.5,116.5 829.5,114.5 830.5,114.5 831.5,114.5 833.5,113.5 834.5,112.5 836.5,113.5 837.5,110.5 839.5,111.5 840.5,110.5 842.5,111.5 843.5,110.5 845.5,111.5 846.5,112.5 847.5,109.5 849.5,111.5 850.5,108.5 852.5,107.5 853.5,109.5 855.5,105.5 856.5,106.5 858.5,107.5 859.5,108.5 860.5,107.5 862.5,106.5 863.5,104.5 865.5,107.5 866.5,107.5 868.5,104.5 869.5,106.5 871.5,108.5 872.5,105.5 873.5,104.5 875.5,106.5 876.5,107.5 878.5,108.5 879.5,109.5 881.5,107.5 882.5,108.5 884.5,109.5 885.5,109.5 887.5,109.5 888.5,105.5 889.5,105.5 891.5,107.5 892.5,104.5 894.5,105.5 895.5,104.5 897.5,102.5 898.5,104.5 900.5,102.5 901.5,101.5 903.5,101.5 904.5,101.5 905.5,99.5 907.5,100.5 908.5,98.5 910.5,98.5 911.5,102.5 913.5,103.5 914.5,103.5 916.5,100.5 917.5,103.5 918.5,104.5 920.5,101.5 921.5,102.5 923.5,100.5 924.5,100.5 926.5,100.5 927.5,100.5 929.5,101.5 930.5,102.5 931.5,100.5 933.5,98.5 934.5,100.5 936.5,116.5 937.5,108.5 939.5,100.5 940.5,104.5 942.5,101.5 943.5,100.5 945.5,101.5 946.5,99.5 947.5,102.5 949.5,101.5 950.5,103.5 952.5,102.5 953.5,102.5 955.5,103.5 956.5,102.5 958.5,103.5 959.5,100.5 961.5,101.5 962.5,103.5 963.5,99.5 965.5,102.5 966.5,101.5 968.5,101.5 969.5,101.5 971.5,104.5 972.5,102.5 974.5,104.5 975.5,103.5 976.5,102.5 978.5,103.5 979.5,102.5 981.5,101.5 982.5,101.5 984.5,103.5 985.5,103.5 987.5,103.5 988.5,103.5 989.5,105.5 991.5,107.5 992.5,105.5 994.5,105.5 995.5,106.5 997.5,106.5 998.5,103.5 1000.5,106.5 1001.5,105.5 1003.5,108.5 1004.5,109.5 1005.5,108.5 1007.5,106.5 1008.5,108.5 1010.5,107.5 1011.5,109.5 1013.5,107.5 1014.5,108.5 1016.5,108.5 1017.5,109.5 1019.5,109.5 1020.5,110.5 1021.5,109.5 1023.5,111.5 1024.5,109.5 1026.5,111.5 1027.5,111.5 1029.5,111.5 1030.5,112.5 1032.5,112.5 1033.5,113.5 1034.5,112.5 1036.5,114.5 1037.5,113.5 1039.5,112.5 1040.5,114.5 1042.5,114.5 1043.5,115.5 1045.5,116.5 1046.5,116.5 1047.5,116.5 1049.5,117.5 1050.5,117.5 1052.5,117.5 1053.5,118.5 1055.5,120.5 1056.5,118.5 1058.5,121.5 1059.5,121.5 1061.5,123.5 1062.5,123.5 1063.5,125.5 1065.5,125.5 1066.5,127.5 1068.5,126.5 1069.5,127.5 1071.5,127.5 1072.5,125.5 1074.5,126.5 1075.5,128.5 1077.5,128.5 1078.5,128.5 1079.5,129.5 1081.5,130.5 1082.5,129.5 1084.5,128.5 1085.5,126.5"/>
<polyline class="ln" stroke="#c0f0ca" points="685.5,164.5 686.5,163.5 688.5,163.5 689.5,163.5 691.5,162.5 692.5,162.5 694.5,162.5 695.5,162.5 697.5,161.5 698.5,160.5 699.5,159.5 701.5,159.5 702.5,158.5 704.5,158.5 705.5,157.5 707.5,156.5 708.5,157.5 710.5,157.5 711.5,156.5 713.5,155.5 714.5,155.5 715.5,155.5 717.5,154.5 718.5,153.5 720.5,152.5 721.5,153.5 723.5,152.5 724.5,152.5 726.5,151.5 727.5,151.5 729.5,149.5 730.5,149.5 731.5,149.5 733.5,149.5 734.5,148.5 736.5,147.5 737.5,147.5 739.5,147.5 740.5,146.5 742.5,145.5 743.5,145.5 744.5,146.5 746.5,145.5 747.5,144.5 749.5,142.5 750.5,141.5 752.5,141.5 753.5,141.5 755.5,142.5 756.5,141.5 757.5,141.5 759.5,141.5 760.5,139.5 762.5,138.5 763.5,137.5 765.5,136.5 766.5,135.5 768.5,136.5 769.5,135.5 771.5,135.5 772.5,134.5 773.5,134.5 775.5,134.5 776.5,133.5 778.5,132.5 779.5,131.5 781.5,130.5 782.5,130.5 784.5,130.5 785.5,129.5 787.5,129.5 788.5,129.5 789.5,128.5 791.5,128.5 792.5,126.5 794.5,126.5 795.5,123.5 797.5,122.5 798.5,124.5 800.5,123.5 801.5,124.5 802.5,124.5 804.5,123.5 805.5,125.5 807.5,123.5 808.5,119.5 810.5,120.5 811.5,122.5 813.5,122.5 814.5,119.5 815.5,118.5 817.5,116.5 818.5,118.5 820.5,115.5 821.5,115.5 823.5,116.5 824.5,116.5 826.5,115.5 827.5,116.5 829.5,114.5 830.5,114.5 831.5,114.5 833.5,113.5 834.5,112.5 836.5,114.5 837.5,110.5 839.5,111.5 840.5,110.5 842.5,111.5 843.5,110.5 845.5,111.5 846.5,112.5 847.5,109.5 849.5,111.5 850.5,108.5 852.5,107.5 853.5,109.5 855.5,105.5 856.5,106.5 858.5,107.5 859.5,107.5 860.5,107.5 862.5,106.5 863.5,104.5 865.5,107.5 866.5,107.5 868.5,104.5 869.5,106.5 871.5,108.5 872.5,106.5 873.5,104.5 875.5,107.5 876.5,107.5 878.5,108.5 879.5,109.5 881.5,108.5 882.5,108.5 884.5,109.5 885.5,109.5 887.5,108.5 888.5,105.5 889.5,106.5 891.5,107.5 892.5,105.5 894.5,105.5 895.5,104.5 897.5,102.5 898.5,104.5 900.5,102.5 901.5,101.5 903.5,101.5 904.5,101.5 905.5,99.5 907.5,100.5 908.5,99.5 910.5,98.5 911.5,102.5 913.5,103.5 914.5,103.5 916.5,100.5 917.5,103.5 918.5,103.5 920.5,102.5 921.5,103.5 923.5,100.5 924.5,100.5 926.5,100.5 927.5,101.5 929.5,101.5 930.5,102.5 931.5,100.5 933.5,98.5 934.5,100.5 936.5,115.5 937.5,108.5 939.5,101.5 940.5,104.5 942.5,101.5 943.5,100.5 945.5,102.5 946.5,99.5 947.5,102.5 949.5,101.5 950.5,103.5 952.5,102.5 953.5,102.5 955.5,103.5 956.5,101.5 958.5,103.5 959.5,100.5 961.5,101.5 962.5,103.5 963.5,99.5 965.5,102.5 966.5,101.5 968.5,101.5 969.5,101.5 971.5,104.5 972.5,102.5 974.5,103.5 975.5,103.5 976.5,102.5 978.5,102.5 979.5,102.5 981.5,101.5 982.5,100.5 984.5,103.5 985.5,103.5 987.5,103.5 988.5,103.5 989.5,105.5 991.5,107.5 992.5,105.5 994.5,105.5 995.5,106.5 997.5,106.5 998.5,104.5 1000.5,106.5 1001.5,105.5 1003.5,108.5 1004.5,108.5 1005.5,108.5 1007.5,106.5 1008.5,108.5 1010.5,107.5 1011.5,108.5 1013.5,107.5 1014.5,108.5 1016.5,108.5 1017.5,110.5 1019.5,109.5 1020.5,110.5 1021.5,108.5 1023.5,111.5 1024.5,109.5 1026.5,111.5 1027.5,111.5 1029.5,111.5 1030.5,112.5 1032.5,113.5 1033.5,113.5 1034.5,112.5 1036.5,114.5 1037.5,113.5 1039.5,112.5 1040.5,114.5 1042.5,115.5 1043.5,115.5 1045.5,116.5 1046.5,116.5 1047.5,116.5 1049.5,117.5 1050.5,117.5 1052.5,117.5 1053.5,118.5 1055.5,120.5 1056.5,118.5 1058.5,121.5 1059.5,121.5 1061.5,123.5 1062.5,123.5 1063.5,124.5 1065.5,125.5 1066.5,127.5 1068.5,126.5 1069.5,127.5 1071.5,127.5 1072.5,125.5 1074.5,126.5 1075.5,128.5 1077.5,128.5 1078.5,128.5 1079.5,129.5 1081.5,129.5 1082.5,129.5 1084.5,128.5 1085.5,126.5"/>
<polyline class="ln" stroke="#f0e274" points="685.5,164.5 686.5,163.5 688.5,163.5 689.5,163.5 691.5,162.5 692.5,162.5 694.5,162.5 695.5,162.5 697.5,161.5 698.5,160.5 699.5,159.5 701.5,159.5 702.5,158.5 704.5,158.5 705.5,158.5 707.5,156.5 708.5,157.5 710.5,157.5 711.5,156.5 713.5,155.5 714.5,155.5 715.5,155.5 717.5,154.5 718.5,153.5 720.5,152.5 721.5,153.5 723.5,152.5 724.5,152.5 726.5,151.5 727.5,151.5 729.5,149.5 730.5,149.5 731.5,149.5 733.5,149.5 734.5,148.5 736.5,148.5 737.5,147.5 739.5,147.5 740.5,146.5 742.5,146.5 743.5,145.5 744.5,146.5 746.5,145.5 747.5,145.5 749.5,142.5 750.5,141.5 752.5,141.5 753.5,141.5 755.5,141.5 756.5,141.5 757.5,141.5 759.5,141.5 760.5,139.5 762.5,138.5 763.5,137.5 765.5,136.5 766.5,136.5 768.5,136.5 769.5,135.5 771.5,134.5 772.5,134.5 773.5,135.5 775.5,134.5 776.5,133.5 778.5,132.5 779.5,131.5 781.5,130.5 782.5,130.5 784.5,130.5 785.5,129.5 787.5,129.5 788.5,129.5 789.5,128.5 791.5,128.5 792.5,126.5 794.5,126.5 795.5,124.5 797.5,122.5 798.5,124.5 800.5,123.5 801.5,124.5 802.5,124.5 804.5,123.5 805.5,125.5 807.5,123.5 808.5,119.5 810.5,120.5 811.5,122.5 813.5,121.5 814.5,119.5 815.5,118.5 817.5,116.5 818.5,118.5 820.5,115.5 821.5,116.5 823.5,116.5 824.5,116.5 826.5,115.5 827.5,116.5 829.5,114.5 830.5,114.5 831.5,114.5 833.5,113.5 834.5,112.5 836.5,113.5 837.5,111.5 839.5,111.5 840.5,110.5 842.5,111.5 843.5,110.5 845.5,110.5 846.5,112.5 847.5,109.5 849.5,111.5 850.5,108.5 852.5,108.5 853.5,109.5 855.5,105.5 856.5,106.5 858.5,107.5 859.5,107.5 860.5,107.5 862.5,106.5 863.5,104.5 865.5,107.5 866.5,107.5 868.5,104.5 869.5,106.5 871.5,108.5 872.5,106.5 873.5,104.5 875.5,107.5 876.5,107.5 878.5,108.5 879.5,109.5 881.5,107.5 882.5,108.5 884.5,109.5 885.5,109.5 887.5,109.5 888.5,105.5 889.5,105.5 891.5,107.5 892.5,104.5 894.5,106.5 895.5,103.5 897.5,102.5 898.5,104.5 900.5,102.5 901.5,101.5 903.5,101.5 904.5,101.5 905.5,99.5 907.5,100.5 908.5,98.5 910.5,98.5 911.5,102.5 913.5,103.5 914.5,103.5 916.5,100.5 917.5,103.5 918.5,103.5 920.5,101.5 921.5,103.5 923.5,100.5 924.5,100.5 926.5,100.5 927.5,100.5 929.5,101.5 930.5,103.5 931.5,100.5 933.5,98.5 934.5,100.5 936.5,116.5 937.5,108.5 939.5,100.5 940.5,104.5 942.5,101.5 943.5,100.5 945.5,101.5 946.5,99.5 947.5,102.5 949.5,100.5 950.5,103.5 952.5,103.5 953.5,102.5 955.5,103.5 956.5,101.5 958.5,103.5 959.5,100.5 961.5,101.5 962.5,103.5 963.5,99.5 965.5,102.5 966.5,101.5 968.5,101.5 969.5,101.5 971.5,104.5 972.5,102.5 974.5,104.5 975.5,102.5 976.5,102.5 978.5,102.5 979.5,102.5 981.5,101.5 982.5,101.5 984.5,103.5 985.5,103.5 987.5,103.5 988.5,104.5 989.5,105.5 991.5,107.5 992.5,105.5 994.5,105.5 995.5,106.5 997.5,106.5 998.5,103.5 1000.5,106.5 1001.5,105.5 1003.5,108.5 1004.5,108.5 1005.5,108.5 1007.5,107.5 1008.5,108.5 1010.5,107.5 1011.5,109.5 1013.5,107.5 1014.5,108.5 1016.5,108.5 1017.5,109.5 1019.5,109.5 1020.5,110.5 1021.5,108.5 1023.5,111.5 1024.5,109.5 1026.5,111.5 1027.5,111.5 1029.5,111.5 1030.5,112.5 1032.5,112.5 1033.5,113.5 1034.5,112.5 1036.5,115.5 1037.5,113.5 1039.5,112.5 1040.5,114.5 1042.5,115.5 1043.5,116.5 1045.5,116.5 1046.5,116.5 1047.5,116.5 1049.5,117.5 1050.5,117.5 1052.5,117.5 1053.5,118.5 1055.5,120.5 1056.5,118.5 1058.5,121.5 1059.5,121.5 1061.5,123.5 1062.5,123.5 1063.5,124.5 1065.5,125.5 1066.5,127.5 1068.5,126.5 1069.5,127.5 1071.5,127.5 1072.5,125.5 1074.5,126.5 1075.5,128.5 1077.5,128.5 1078.5,128.5 1079.5,129.5 1081.5,129.5 1082.5,129.5 1084.5,128.5 1085.5,126.5"/>
<polyline class="ln" stroke="#dc7c20" points="685.5,164.5 686.5,163.5 688.5,163.5 689.5,163.5 691.5,162.5 692.5,162.5 694.5,162.5 695.5,161.5 697.5,161.5 698.5,160.5 699.5,159.5 701.5,159.5 702.5,158.5 704.5,158.5 705.5,157.5 707.5,156.5 708.5,157.5 710.5,157.5 711.5,156.5 713.5,155.5 714.5,154.5 715.5,155.5 717.5,154.5 718.5,154.5 720.5,152.5 721.5,153.5 723.5,151.5 724.5,152.5 726.5,151.5 727.5,151.5 729.5,149.5 730.5,149.5 731.5,149.5 733.5,149.5 734.5,148.5 736.5,147.5 737.5,147.5 739.5,147.5 740.5,146.5 742.5,146.5 743.5,145.5 744.5,147.5 746.5,145.5 747.5,144.5 749.5,142.5 750.5,141.5 752.5,140.5 753.5,141.5 755.5,141.5 756.5,141.5 757.5,141.5 759.5,141.5 760.5,139.5 762.5,138.5 763.5,137.5 765.5,136.5 766.5,136.5 768.5,136.5 769.5,136.5 771.5,134.5 772.5,134.5 773.5,134.5 775.5,134.5 776.5,133.5 778.5,132.5 779.5,131.5 781.5,130.5 782.5,131.5 784.5,130.5 785.5,128.5 787.5,128.5 788.5,129.5 789.5,128.5 791.5,128.5 792.5,126.5 794.5,126.5 795.5,123.5 797.5,122.5 798.5,124.5 800.5,123.5 801.5,125.5 802.5,124.5 804.5,123.5 805.5,124.5 807.5,123.5 808.5,119.5 810.5,120.5 811.5,121.5 813.5,121.5 814.5,119.5 815.5,118.5 817.5,116.5 818.5,118.5 820.5,115.5 821.5,115.5 823.5,116.5 824.5,117.5 826.5,114.5 827.5,117.5 829.5,114.5 830.5,114.5 831.5,114.5 833.5,113.5 834.5,112.5 836.5,113.5 837.5,111.5 839.5,111.5 840.5,110.5 842.5,111.5 843.5,111.5 845.5,110.5 846.5,112.5 847.5,110.5 849.5,110.5 850.5,108.5 852.5,107.5 853.5,109.5 855.5,105.5 856.5,106.5 858.5,107.5 859.5,107.5 860.5,107.5 862.5,106.5 863.5,103.5 865.5,108.5 866.5,107.5 868.5,105.5 869.5,105.5 871.5,108.5 872.5,105.5 873.5,104.5 875.5,107.5 876.5,107.5 878.5,107.5 879.5,109.5 881.5,107.5 882.5,108.5 884.5,109.5 885.5,109.5 887.5,108.5 888.5,105.5 889.5,105.5 891.5,106.5 892.5,104.5 894.5,106.5 895.5,104.5 897.5,102.5 898.5,105.5 900.5,102.5 901.5,101.5 903.5,101.5 904.5,101.5 905.5,99.5 907.5,100.5 908.5,99.5 910.5,98.5 911.5,102.5 913.5,103.5 914.5,103.5 916.5,100.5 917.5,103.5 918.5,103.5 920.5,102.5 921.5,103.5 923.5,100.5 924.5,100.5 926.5,100.5 927.5,100.5 929.5,101.5 930.5,103.5 931.5,101.5 933.5,98.5 934.5,100.5 936.5,116.5 937.5,108.5 939.5,100.5 940.5,104.5 942.5,101.5 943.5,100.5 945.5,101.5 946.5,99.5 947.5,102.5 949.5,100.5 950.5,103.5 952.5,102.5 953.5,102.5 955.5,103.5 956.5,102.5 958.5,103.5 959.5,100.5 961.5,102.5 962.5,103.5 963.5,98.5 965.5,102.5 966.5,101.5 968.5,101.5 969.5,101.5 971.5,104.5 972.5,102.5 974.5,104.5 975.5,102.5 976.5,102.5 978.5,103.5 979.5,102.5 981.5,101.5 982.5,100.5 984.5,103.5 985.5,103.5 987.5,104.5 988.5,104.5 989.5,106.5 991.5,107.5 992.5,105.5 994.5,105.5 995.5,106.5 997.5,107.5 998.5,104.5 1000.5,106.5 1001.5,106.5 1003.5,107.5 1004.5,109.5 1005.5,108.5 1007.5,107.5 1008.5,109.5 1010.5,107.5 1011.5,108.5 1013.5,108.5 1014.5,108.5 1016.5,107.5 1017.5,109.5 1019.5,109.5 1020.5,110.5 1021.5,107.5 1023.5,110.5 1024.5,110.5 1026.5,112.5 1027.5,111.5 1029.5,111.5 1030.5,112.5 1032.5,113.5 1033.5,113.5 1034.5,113.5 1036.5,114.5 1037.5,113.5 1039.5,112.5 1040.5,114.5 1042.5,115.5 1043.5,115.5 1045.5,116.5 1046.5,116.5 1047.5,117.5 1049.5,116.5 1050.5,116.5 1052.5,117.5 1053.5,118.5 1055.5,120.5 1056.5,118.5 1058.5,120.5 1059.5,121.5 1061.5,123.5 1062.5,123.5 1063.5,125.5 1065.5,125.5 1066.5,127.5 1068.5,127.5 1069.5,127.5 1071.5,127.5 1072.5,125.5 1074.5,126.5 1075.5,128.5 1077.5,128.5 1078.5,128.5 1079.5,129.5 1081.5,129.5 1082.5,129.5 1084.5,128.5 1085.5,127.5"/>
<path class="ax" d="M684.5 98 V165.5 H1087"/>
<line class="ax" x1="684" y1="106.5" x2="690" y2="106.5"/>
<line class="ax" x1="684" y1="145.5" x2="690" y2="145.5"/>
<line class="ax" x1="740.5" y1="166" x2="740.5" y2="160"/>
<line class="ax" x1="827.5" y1="166" x2="827.5" y2="160"/>
<line class="ax" x1="915.5" y1="166" x2="915.5" y2="160"/>
<line class="ax" x1="1002.5" y1="166" x2="1002.5" y2="160"/>
<text class="tk" transform="translate(678.3,117.7) scale(1,1.05)" text-anchor="end">100</text>
<text class="tk" transform="translate(678.3,156.7) scale(1,1.05)" text-anchor="end">50</text>
<text class="tk" transform="translate(739.7,200.6) scale(1,1.05)" text-anchor="middle">2685</text>
<text class="tk" transform="translate(826.7,200.6) scale(1,1.05)" text-anchor="middle">2690</text>
<text class="tk" transform="translate(913.7,200.6) scale(1,1.05)" text-anchor="middle">2695</text>
<text class="tk" transform="translate(1001.7,200.6) scale(1,1.05)" text-anchor="middle">2700</text>
<text class="ti" transform="translate(884.0,77.5) scale(1,1.05)" text-anchor="middle">Bin 2</text>
<text transform="translate(778.2,238.0) scale(1,1.05)" text-anchor="start">Wavenumber</text>
<text transform="translate(928.4,238.0) scale(1,1.05)" text-anchor="start">[cm</text>
<text class="sup" transform="translate(966.2,226.7) scale(1,1.05)" text-anchor="start">-</text>
<text class="sup" transform="translate(973.2,227.5) scale(1,1.05)" text-anchor="start">1</text>
<text transform="translate(983.8,238.0) scale(1,1.05)" text-anchor="start">]</text>
<text transform="translate(625.0,133.7) rotate(-90) scale(1,1.05)" text-anchor="middle">ADU</text>
</g>
<g id="p3">
<line class="gr" x1="162" y1="305.5" x2="559" y2="305.5"/>
<line class="gr" x1="159" y1="344.5" x2="559" y2="344.5"/>
<line class="gr" stroke-dashoffset="1" x1="212.5" y1="363" x2="212.5" y2="296"/>
<line class="gr" stroke-dashoffset="1" x1="299.5" y1="363" x2="299.5" y2="296"/>
<line class="gr" stroke-dashoffset="1" x1="386.5" y1="363" x2="386.5" y2="296"/>
<line class="gr" stroke-dashoffset="1" x1="474.5" y1="363" x2="474.5" y2="296"/>
<polyline class="ln" stroke="#00008f" points="157.5,362.5 158.5,362.5 160.5,362.5 161.5,360.5 163.5,360.5 164.5,360.5 166.5,359.5 167.5,359.5 169.5,357.5 170.5,358.5 171.5,358.5 173.5,356.5 174.5,356.5 176.5,356.5 177.5,356.5 179.5,355.5 180.5,354.5 182.5,354.5 183.5,354.5 185.5,353.5 186.5,352.5 187.5,351.5 189.5,350.5 190.5,351.5 192.5,351.5 193.5,349.5 195.5,349.5 196.5,347.5 198.5,348.5 199.5,346.5 201.5,347.5 202.5,347.5 203.5,346.5 205.5,345.5 206.5,345.5 208.5,344.5 209.5,343.5 211.5,342.5 212.5,342.5 214.5,339.5 215.5,341.5 216.5,340.5 218.5,338.5 219.5,339.5 221.5,339.5 222.5,336.5 224.5,337.5 225.5,336.5 227.5,335.5 228.5,334.5 229.5,334.5 231.5,332.5 232.5,332.5 234.5,331.5 235.5,331.5 237.5,330.5 238.5,329.5 240.5,328.5 241.5,329.5 243.5,327.5 244.5,328.5 245.5,327.5 247.5,326.5 248.5,326.5 250.5,324.5 251.5,325.5 253.5,324.5 254.5,324.5 256.5,322.5 257.5,322.5 259.5,320.5 260.5,322.5 261.5,319.5 263.5,320.5 264.5,321.5 266.5,320.5 267.5,320.5 269.5,319.5 270.5,317.5 272.5,317.5 273.5,318.5 274.5,317.5 276.5,315.5 277.5,317.5 279.5,317.5 280.5,315.5 282.5,313.5 283.5,314.5 285.5,316.5 286.5,314.5 287.5,313.5 289.5,314.5 290.5,315.5 292.5,313.5 293.5,313.5 295.5,312.5 296.5,310.5 298.5,311.5 299.5,309.5 301.5,310.5 302.5,310.5 303.5,309.5 305.5,308.5 306.5,308.5 308.5,308.5 309.5,306.5 311.5,305.5 312.5,306.5 314.5,306.5 315.5,305.5 317.5,303.5 318.5,306.5 319.5,304.5 321.5,304.5 322.5,304.5 324.5,304.5 325.5,300.5 327.5,300.5 328.5,299.5 330.5,298.5 331.5,300.5 332.5,302.5 334.5,300.5 335.5,301.5 337.5,303.5 338.5,301.5 340.5,301.5 341.5,301.5 343.5,300.5 344.5,302.5 345.5,302.5 347.5,303.5 348.5,303.5 350.5,303.5 351.5,304.5 353.5,307.5 354.5,304.5 356.5,302.5 357.5,302.5 359.5,304.5 360.5,303.5 361.5,301.5 363.5,301.5 364.5,301.5 366.5,297.5 367.5,299.5 369.5,301.5 370.5,299.5 372.5,298.5 373.5,299.5 375.5,297.5 376.5,298.5 377.5,297.5 379.5,295.5 380.5,298.5 382.5,297.5 383.5,298.5 385.5,299.5 386.5,300.5 388.5,298.5 389.5,299.5 390.5,299.5 392.5,297.5 393.5,300.5 395.5,300.5 396.5,299.5 398.5,301.5 399.5,299.5 401.5,300.5 402.5,299.5 403.5,299.5 405.5,300.5 406.5,301.5 408.5,297.5 409.5,299.5 411.5,295.5 412.5,296.5 414.5,298.5 415.5,296.5 417.5,300.5 418.5,300.5 419.5,298.5 421.5,298.5 422.5,298.5 424.5,298.5 425.5,299.5 427.5,298.5 428.5,299.5 430.5,299.5 431.5,298.5 433.5,295.5 434.5,298.5 435.5,300.5 437.5,300.5 438.5,299.5 440.5,300.5 441.5,301.5 443.5,299.5 444.5,300.5 446.5,297.5 447.5,297.5 448.5,298.5 450.5,299.5 451.5,299.5 453.5,298.5 454.5,299.5 456.5,300.5 457.5,297.5 459.5,295.5 460.5,296.5 461.5,297.5 463.5,300.5 464.5,300.5 466.5,298.5 467.5,302.5 469.5,301.5 470.5,303.5 472.5,305.5 473.5,305.5 475.5,305.5 476.5,306.5 477.5,303.5 479.5,305.5 480.5,306.5 482.5,306.5 483.5,306.5 485.5,309.5 486.5,309.5 488.5,308.5 489.5,307.5 491.5,309.5 492.5,311.5 493.5,309.5 495.5,310.5 496.5,310.5 498.5,311.5 499.5,310.5 501.5,311.5 502.5,309.5 504.5,310.5 505.5,312.5 506.5,313.5 508.5,314.5 509.5,313.5 511.5,314.5 512.5,313.5 514.5,313.5 515.5,314.5 517.5,316.5 518.5,317.5 519.5,315.5 521.5,318.5 522.5,317.5 524.5,319.5 525.5,319.5 527.5,319.5 528.5,320.5 530.5,321.5 531.5,321.5 533.5,322.5 534.5,324.5 535.5,324.5 537.5,325.5 538.5,325.5 540.5,325.5 541.5,325.5 543.5,326.5 544.5,326.5 546.5,325.5 547.5,327.5 549.5,325.5 550.5,326.5 551.5,327.5 553.5,328.5 554.5,327.5 556.5,327.5 557.5,326.5"/>
<polyline class="ln" stroke="#0038ff" points="157.5,362.5 158.5,362.5 160.5,362.5 161.5,360.5 163.5,360.5 164.5,360.5 166.5,359.5 167.5,359.5 169.5,357.5 170.5,358.5 171.5,358.5 173.5,356.5 174.5,356.5 176.5,355.5 177.5,355.5 179.5,355.5 180.5,354.5 182.5,353.5 183.5,353.5 185.5,353.5 186.5,352.5 187.5,351.5 189.5,350.5 190.5,351.5 192.5,351.5 193.5,350.5 195.5,348.5 196.5,347.5 198.5,348.5 199.5,346.5 201.5,347.5 202.5,347.5 203.5,346.5 205.5,345.5 206.5,344.5 208.5,343.5 209.5,343.5 211.5,342.5 212.5,342.5 214.5,340.5 215.5,341.5 216.5,341.5 218.5,339.5 219.5,339.5 221.5,338.5 222.5,336.5 224.5,337.5 225.5,336.5 227.5,335.5 228.5,334.5 229.5,333.5 231.5,333.5 232.5,332.5 234.5,331.5 235.5,331.5 237.5,329.5 238.5,329.5 240.5,328.5 241.5,329.5 243.5,327.5 244.5,327.5 245.5,328.5 247.5,326.5 248.5,326.5 250.5,324.5 251.5,326.5 253.5,325.5 254.5,325.5 256.5,323.5 257.5,322.5 259.5,320.5 260.5,322.5 261.5,319.5 263.5,321.5 264.5,321.5 266.5,320.5 267.5,320.5 269.5,319.5 270.5,317.5 272.5,318.5 273.5,318.5 274.5,317.5 276.5,315.5 277.5,317.5 279.5,317.5 280.5,315.5 282.5,313.5 283.5,314.5 285.5,315.5 286.5,315.5 287.5,313.5 289.5,313.5 290.5,315.5 292.5,313.5 293.5,312.5 295.5,313.5 296.5,310.5 298.5,312.5 299.5,309.5 301.5,309.5 302.5,310.5 303.5,309.5 305.5,308.5 306.5,308.5 308.5,309.5 309.5,306.5 311.5,306.5 312.5,306.5 314.5,306.5 315.5,304.5 317.5,303.5 318.5,305.5 319.5,303.5 321.5,305.5 322.5,304.5 324.5,303.5 325.5,300.5 327.5,299.5 328.5,300.5 330.5,298.5 331.5,299.5 332.5,302.5 334.5,300.5 335.5,301.5 337.5,303.5 338.5,301.5 340.5,302.5 341.5,301.5 343.5,301.5 344.5,301.5 345.5,302.5 347.5,304.5 348.5,303.5 350.5,303.5 351.5,304.5 353.5,306.5 354.5,305.5 356.5,301.5 357.5,303.5 359.5,304.5 360.5,303.5 361.5,301.5 363.5,301.5 364.5,301.5 366.5,297.5 367.5,300.5 369.5,300.5 370.5,298.5 372.5,298.5 373.5,300.5 375.5,297.5 376.5,298.5 377.5,298.5 379.5,296.5 380.5,298.5 382.5,296.5 383.5,298.5 385.5,300.5 386.5,300.5 388.5,297.5 389.5,299.5 390.5,299.5 392.5,296.5 393.5,300.5 395.5,299.5 396.5,299.5 398.5,301.5 399.5,299.5 401.5,299.5 402.5,299.5 403.5,299.5 405.5,300.5 406.5,300.5 408.5,297.5 409.5,298.5 411.5,296.5 412.5,297.5 414.5,298.5 415.5,296.5 417.5,299.5 418.5,300.5 419.5,297.5 421.5,299.5 422.5,299.5 424.5,298.5 425.5,299.5 427.5,298.5 428.5,301.5 430.5,298.5 431.5,298.5 433.5,296.5 434.5,298.5 435.5,300.5 437.5,301.5 438.5,299.5 440.5,301.5 441.5,300.5 443.5,299.5 444.5,300.5 446.5,297.5 447.5,296.5 448.5,298.5 450.5,300.5 451.5,299.5 453.5,299.5 454.5,298.5 456.5,300.5 457.5,298.5 459.5,296.5 460.5,296.5 461.5,298.5 463.5,300.5 464.5,299.5 466.5,299.5 467.5,301.5 469.5,301.5 470.5,304.5 472.5,305.5 473.5,304.5 475.5,305.5 476.5,306.5 477.5,303.5 479.5,306.5 480.5,306.5 482.5,307.5 483.5,307.5 485.5,309.5 486.5,309.5 488.5,309.5 489.5,307.5 491.5,309.5 492.5,310.5 493.5,309.5 495.5,310.5 496.5,310.5 498.5,310.5 499.5,311.5 501.5,311.5 502.5,310.5 504.5,310.5 505.5,312.5 506.5,312.5 508.5,314.5 509.5,313.5 511.5,314.5 512.5,314.5 514.5,314.5 515.5,315.5 517.5,316.5 518.5,318.5 519.5,316.5 521.5,318.5 522.5,317.5 524.5,319.5 525.5,319.5 527.5,319.5 528.5,320.5 530.5,321.5 531.5,321.5 533.5,322.5 534.5,324.5 535.5,323.5 537.5,325.5 538.5,324.5 540.5,325.5 541.5,325.5 543.5,326.5 544.5,326.5 546.5,325.5 547.5,327.5 549.5,325.5 550.5,325.5 551.5,327.5 553.5,328.5 554.5,328.5 556.5,327.5 557.5,327.5"/>
<polyline class="ln" stroke="#74d4ff" points="157.5,362.5 158.5,362.5 160.5,362.5 161.5,360.5 163.5,360.5 164.5,360.5 166.5,359.5 167.5,359.5 169.5,357.5 170.5,358.5 171.5,358.5 173.5,356.5 174.5,356.5 176.5,355.5 177.5,355.5 179.5,355.5 180.5,354.5 182.5,353.5 183.5,353.5 185.5,353.5 186.5,352.5 187.5,351.5 189.5,350.5 190.5,351.5 192.5,351.5 193.5,350.5 195.5,349.5 196.5,347.5 198.5,347.5 199.5,346.5 201.5,347.5 202.5,347.5 203.5,346.5 205.5,345.5 206.5,344.5 208.5,343.5 209.5,343.5 211.5,342.5 212.5,342.5 214.5,340.5 215.5,341.5 216.5,341.5 218.5,339.5 219.5,339.5 221.5,338.5 222.5,336.5 224.5,337.5 225.5,336.5 227.5,335.5 228.5,335.5 229.5,333.5 231.5,333.5 232.5,332.5 234.5,331.5 235.5,331.5 237.5,330.5 238.5,329.5 240.5,328.5 241.5,329.5 243.5,327.5 244.5,327.5 245.5,328.5 247.5,326.5 248.5,326.5 250.5,325.5 251.5,326.5 253.5,325.5 254.5,324.5 256.5,323.5 257.5,322.5 259.5,320.5 260.5,321.5 261.5,319.5 263.5,320.5 264.5,321.5 266.5,321.5 267.5,320.5 269.5,319.5 270.5,317.5 272.5,318.5 273.5,318.5 274.5,317.5 276.5,314.5 277.5,317.5 279.5,317.5 280.5,315.5 282.5,313.5 283.5,314.5 285.5,315.5 286.5,314.5 287.5,313.5 289.5,314.5 290.5,315.5 292.5,313.5 293.5,313.5 295.5,313.5 296.5,310.5 298.5,311.5 299.5,309.5 301.5,310.5 302.5,310.5 303.5,309.5 305.5,308.5 306.5,308.5 308.5,309.5 309.5,306.5 311.5,305.5 312.5,306.5 314.5,306.5 315.5,305.5 317.5,303.5 318.5,305.5 319.5,304.5 321.5,305.5 322.5,304.5 324.5,304.5 325.5,300.5 327.5,300.5 328.5,300.5 330.5,298.5 331.5,300.5 332.5,302.5 334.5,300.5 335.5,301.5 337.5,303.5 338.5,301.5 340.5,302.5 341.5,301.5 343.5,301.5 344.5,301.5 345.5,302.5 347.5,303.5 348.5,303.5 350.5,303.5 351.5,304.5 353.5,307.5 354.5,304.5 356.5,302.5 357.5,302.5 359.5,304.5 360.5,304.5 361.5,300.5 363.5,302.5 364.5,301.5 366.5,297.5 367.5,300.5 369.5,301.5 370.5,298.5 372.5,298.5 373.5,299.5 375.5,298.5 376.5,297.5 377.5,298.5 379.5,296.5 380.5,298.5 382.5,296.5 383.5,298.5 385.5,299.5 386.5,300.5 388.5,298.5 389.5,299.5 390.5,299.5 392.5,296.5 393.5,299.5 395.5,300.5 396.5,299.5 398.5,301.5 399.5,299.5 401.5,299.5 402.5,298.5 403.5,299.5 405.5,300.5 406.5,301.5 408.5,297.5 409.5,298.5 411.5,295.5 412.5,296.5 414.5,298.5 415.5,296.5 417.5,299.5 418.5,300.5 419.5,298.5 421.5,298.5 422.5,299.5 424.5,298.5 425.5,299.5 427.5,298.5 428.5,300.5 430.5,299.5 431.5,298.5 433.5,295.5 434.5,298.5 435.5,300.5 437.5,301.5 438.5,299.5 440.5,301.5 441.5,300.5 443.5,298.5 444.5,300.5 446.5,298.5 447.5,296.5 448.5,298.5 450.5,299.5 451.5,299.5 453.5,298.5 454.5,299.5 456.5,299.5 457.5,298.5 459.5,295.5 460.5,296.5 461.5,298.5 463.5,300.5 464.5,300.5 466.5,298.5 467.5,302.5 469.5,300.5 470.5,303.5 472.5,305.5 473.5,304.5 475.5,305.5 476.5,306.5 477.5,303.5 479.5,305.5 480.5,306.5 482.5,306.5 483.5,306.5 485.5,309.5 486.5,309.5 488.5,308.5 489.5,307.5 491.5,308.5 492.5,310.5 493.5,309.5 495.5,311.5 496.5,310.5 498.5,311.5 499.5,311.5 501.5,311.5 502.5,310.5 504.5,310.5 505.5,313.5 506.5,313.5 508.5,314.5 509.5,313.5 511.5,314.5 512.5,314.5 514.5,314.5 515.5,314.5 517.5,316.5 518.5,317.5 519.5,316.5 521.5,318.5 522.5,317.5 524.5,319.5 525.5,319.5 527.5,319.5 528.5,320.5 530.5,321.5 531.5,321.5 533.5,322.5 534.5,324.5 535.5,323.5 537.5,325.5 538.5,325.5 540.5,325.5 541.5,325.5 543.5,326.5 544.5,326.5 546.5,325.5 547.5,326.5 549.5,325.5 550.5,326.5 551.5,327.5 553.5,328.5 554.5,327.5 556.5,327.5 557.5,327.5"/>
<polyline class="ln" stroke="#c0f0ca" points="157.5,362.5 158.5,362.5 160.5,362.5 161.5,360.5 163.5,360.5 164.5,360.5 166.5,359.5 167.5,359.5 169.5,357.5 170.5,358.5 171.5,358.5 173.5,356.5 174.5,356.5 176.5,355.5 177.5,355.5 179.5,355.5 180.5,354.5 182.5,353.5 183.5,354.5 185.5,353.5 186.5,352.5 187.5,351.5 189.5,350.5 190.5,351.5 192.5,351.5 193.5,350.5 195.5,349.5 196.5,347.5 198.5,347.5 199.5,346.5 201.5,347.5 202.5,347.5 203.5,346.5 205.5,345.5 206.5,344.5 208.5,343.5 209.5,343.5 211.5,342.5 212.5,342.5 214.5,340.5 215.5,341.5 216.5,341.5 218.5,339.5 219.5,339.5 221.5,338.5 222.5,336.5 224.5,337.5 225.5,336.5 227.5,335.5 228.5,335.5 229.5,334.5 231.5,333.5 232.5,332.5 234.5,331.5 235.5,331.5 237.5,330.5 238.5,329.5 240.5,329.5 241.5,329.5 243.5,327.5 244.5,328.5 245.5,328.5 247.5,326.5 248.5,326.5 250.5,325.5 251.5,325.5 253.5,325.5 254.5,324.5 256.5,323.5 257.5,322.5 259.5,320.5 260.5,321.5 261.5,320.5 263.5,320.5 264.5,321.5 266.5,321.5 267.5,320.5 269.5,319.5 270.5,317.5 272.5,318.5 273.5,318.5 274.5,317.5 276.5,315.5 277.5,317.5 279.5,317.5 280.5,315.5 282.5,313.5 283.5,314.5 285.5,315.5 286.5,315.5 287.5,313.5 289.5,314.5 290.5,315.5 292.5,313.5 293.5,313.5 295.5,313.5 296.5,310.5 298.5,311.5 299.5,309.5 301.5,310.5 302.5,310.5 303.5,308.5 305.5,308.5 306.5,308.5 308.5,308.5 309.5,306.5 311.5,305.5 312.5,306.5 314.5,306.5 315.5,305.5 317.5,303.5 318.5,305.5 319.5,304.5 321.5,305.5 322.5,304.5 324.5,304.5 325.5,300.5 327.5,300.5 328.5,300.5 330.5,298.5 331.5,300.5 332.5,302.5 334.5,300.5 335.5,301.5 337.5,303.5 338.5,301.5 340.5,301.5 341.5,302.5 343.5,301.5 344.5,301.5 345.5,302.5 347.5,303.5 348.5,303.5 350.5,303.5 351.5,305.5 353.5,307.5 354.5,304.5 356.5,302.5 357.5,302.5 359.5,304.5 360.5,304.5 361.5,300.5 363.5,301.5 364.5,301.5 366.5,297.5 367.5,300.5 369.5,301.5 370.5,298.5 372.5,298.5 373.5,299.5 375.5,298.5 376.5,297.5 377.5,298.5 379.5,296.5 380.5,298.5 382.5,296.5 383.5,298.5 385.5,299.5 386.5,300.5 388.5,298.5 389.5,299.5 390.5,299.5 392.5,297.5 393.5,299.5 395.5,299.5 396.5,299.5 398.5,301.5 399.5,299.5 401.5,299.5 402.5,299.5 403.5,298.5 405.5,300.5 406.5,301.5 408.5,297.5 409.5,298.5 411.5,295.5 412.5,296.5 414.5,298.5 415.5,296.5 417.5,299.5 418.5,300.5 419.5,298.5 421.5,298.5 422.5,299.5 424.5,298.5 425.5,299.5 427.5,298.5 428.5,300.5 430.5,299.5 431.5,298.5 433.5,296.5 434.5,298.5 435.5,300.5 437.5,300.5 438.5,299.5 440.5,300.5 441.5,300.5 443.5,298.5 444.5,300.5 446.5,297.5 447.5,296.5 448.5,298.5 450.5,300.5 451.5,299.5 453.5,298.5 454.5,299.5 456.5,299.5 457.5,298.5 459.5,295.5 460.5,296.5 461.5,298.5 463.5,300.5 464.5,300.5 466.5,298.5 467.5,302.5 469.5,300.5 470.5,303.5 472.5,305.5 473.5,304.5 475.5,305.5 476.5,306.5 477.5,303.5 479.5,305.5 480.5,306.5 482.5,306.5 483.5,306.5 485.5,309.5 486.5,309.5 488.5,308.5 489.5,307.5 491.5,308.5 492.5,310.5 493.5,309.5 495.5,310.5 496.5,310.5 498.5,310.5 499.5,311.5 501.5,311.5 502.5,309.5 504.5,310.5 505.5,312.5 506.5,314.5 508.5,314.5 509.5,313.5 511.5,314.5 512.5,314.5 514.5,314.5 515.5,315.5 517.5,316.5 518.5,317.5 519.5,316.5 521.5,318.5 522.5,317.5 524.5,319.5 525.5,319.5 527.5,319.5 528.5,320.5 530.5,321.5 531.5,321.5 533.5,322.5 534.5,324.5 535.5,323.5 537.5,325.5 538.5,325.5 540.5,325.5 541.5,325.5 543.5,326.5 544.5,326.5 546.5,326.5 547.5,327.5 549.5,325.5 550.5,326.5 551.5,327.5 553.5,328.5 554.5,328.5 556.5,327.5 557.5,327.5"/>
<polyline class="ln" stroke="#f0e274" points="157.5,362.5 158.5,362.5 160.5,362.5 161.5,360.5 163.5,360.5 164.5,360.5 166.5,359.5 167.5,359.5 169.5,357.5 170.5,358.5 171.5,358.5 173.5,356.5 174.5,356.5 176.5,355.5 177.5,355.5 179.5,355.5 180.5,354.5 182.5,353.5 183.5,353.5 185.5,353.5 186.5,352.5 187.5,351.5 189.5,350.5 190.5,351.5 192.5,351.5 193.5,350.5 195.5,349.5 196.5,347.5 198.5,348.5 199.5,346.5 201.5,347.5 202.5,347.5 203.5,346.5 205.5,345.5 206.5,344.5 208.5,343.5 209.5,343.5 211.5,342.5 212.5,342.5 214.5,340.5 215.5,341.5 216.5,341.5 218.5,339.5 219.5,339.5 221.5,338.5 222.5,336.5 224.5,338.5 225.5,336.5 227.5,335.5 228.5,335.5 229.5,334.5 231.5,333.5 232.5,332.5 234.5,331.5 235.5,331.5 237.5,330.5 238.5,329.5 240.5,328.5 241.5,329.5 243.5,328.5 244.5,328.5 245.5,328.5 247.5,326.5 248.5,326.5 250.5,325.5 251.5,326.5 253.5,324.5 254.5,325.5 256.5,323.5 257.5,322.5 259.5,320.5 260.5,321.5 261.5,320.5 263.5,320.5 264.5,321.5 266.5,320.5 267.5,320.5 269.5,319.5 270.5,317.5 272.5,318.5 273.5,318.5 274.5,317.5 276.5,314.5 277.5,317.5 279.5,317.5 280.5,315.5 282.5,313.5 283.5,314.5 285.5,315.5 286.5,314.5 287.5,313.5 289.5,314.5 290.5,315.5 292.5,314.5 293.5,313.5 295.5,312.5 296.5,310.5 298.5,311.5 299.5,309.5 301.5,310.5 302.5,310.5 303.5,309.5 305.5,308.5 306.5,308.5 308.5,309.5 309.5,306.5 311.5,305.5 312.5,306.5 314.5,306.5 315.5,305.5 317.5,303.5 318.5,305.5 319.5,304.5 321.5,305.5 322.5,304.5 324.5,304.5 325.5,300.5 327.5,300.5 328.5,300.5 330.5,298.5 331.5,300.5 332.5,302.5 334.5,300.5 335.5,301.5 337.5,303.5 338.5,301.5 340.5,302.5 341.5,302.5 343.5,301.5 344.5,301.5 345.5,302.5 347.5,303.5 348.5,303.5 350.5,303.5 351.5,304.5 353.5,306.5 354.5,304.5 356.5,302.5 357.5,302.5 359.5,304.5 360.5,303.5 361.5,300.5 363.5,301.5 364.5,301.5 366.5,297.5 367.5,300.5 369.5,301.5 370.5,298.5 372.5,298.5 373.5,300.5 375.5,297.5 376.5,298.5 377.5,297.5 379.5,296.5 380.5,298.5 382.5,296.5 383.5,298.5 385.5,299.5 386.5,300.5 388.5,298.5 389.5,299.5 390.5,299.5 392.5,297.5 393.5,299.5 395.5,299.5 396.5,299.5 398.5,301.5 399.5,299.5 401.5,299.5 402.5,299.5 403.5,299.5 405.5,300.5 406.5,301.5 408.5,297.5 409.5,298.5 411.5,295.5 412.5,296.5 414.5,298.5 415.5,296.5 417.5,299.5 418.5,300.5 419.5,298.5 421.5,298.5 422.5,299.5 424.5,298.5 425.5,299.5 427.5,298.5 428.5,300.5 430.5,299.5 431.5,298.5 433.5,295.5 434.5,298.5 435.5,300.5 437.5,300.5 438.5,299.5 440.5,301.5 441.5,300.5 443.5,298.5 444.5,300.5 446.5,298.5 447.5,297.5 448.5,298.5 450.5,300.5 451.5,299.5 453.5,298.5 454.5,299.5 456.5,299.5 457.5,298.5 459.5,296.5 460.5,296.5 461.5,298.5 463.5,300.5 464.5,300.5 466.5,298.5 467.5,302.5 469.5,300.5 470.5,303.5 472.5,305.5 473.5,304.5 475.5,305.5 476.5,306.5 477.5,303.5 479.5,305.5 480.5,306.5 482.5,306.5 483.5,306.5 485.5,309.5 486.5,309.5 488.5,308.5 489.5,307.5 491.5,309.5 492.5,310.5 493.5,309.5 495.5,310.5 496.5,310.5 498.5,311.5 499.5,311.5 501.5,311.5 502.5,309.5 504.5,310.5 505.5,312.5 506.5,313.5 508.5,314.5 509.5,313.5 511.5,314.5 512.5,314.5 514.5,314.5 515.5,315.5 517.5,316.5 518.5,317.5 519.5,316.5 521.5,318.5 522.5,317.5 524.5,319.5 525.5,319.5 527.5,319.5 528.5,320.5 530.5,321.5 531.5,321.5 533.5,322.5 534.5,324.5 535.5,323.5 537.5,325.5 538.5,325.5 540.5,325.5 541.5,325.5 543.5,326.5 544.5,326.5 546.5,326.5 547.5,327.5 549.5,325.5 550.5,326.5 551.5,327.5 553.5,328.5 554.5,327.5 556.5,327.5 557.5,327.5"/>
<polyline class="ln" stroke="#dc7c20" points="157.5,362.5 158.5,362.5 160.5,361.5 161.5,360.5 163.5,360.5 164.5,360.5 166.5,359.5 167.5,359.5 169.5,357.5 170.5,358.5 171.5,358.5 173.5,356.5 174.5,356.5 176.5,356.5 177.5,355.5 179.5,355.5 180.5,354.5 182.5,353.5 183.5,353.5 185.5,353.5 186.5,352.5 187.5,352.5 189.5,350.5 190.5,351.5 192.5,351.5 193.5,350.5 195.5,349.5 196.5,347.5 198.5,347.5 199.5,346.5 201.5,347.5 202.5,347.5 203.5,346.5 205.5,345.5 206.5,344.5 208.5,344.5 209.5,343.5 211.5,342.5 212.5,342.5 214.5,339.5 215.5,341.5 216.5,341.5 218.5,339.5 219.5,339.5 221.5,339.5 222.5,336.5 224.5,337.5 225.5,336.5 227.5,335.5 228.5,335.5 229.5,334.5 231.5,333.5 232.5,332.5 234.5,332.5 235.5,331.5 237.5,329.5 238.5,329.5 240.5,329.5 241.5,329.5 243.5,328.5 244.5,328.5 245.5,328.5 247.5,326.5 248.5,326.5 250.5,325.5 251.5,325.5 253.5,325.5 254.5,324.5 256.5,322.5 257.5,321.5 259.5,319.5 260.5,322.5 261.5,320.5 263.5,320.5 264.5,321.5 266.5,320.5 267.5,320.5 269.5,319.5 270.5,317.5 272.5,318.5 273.5,318.5 274.5,318.5 276.5,314.5 277.5,317.5 279.5,316.5 280.5,315.5 282.5,314.5 283.5,314.5 285.5,315.5 286.5,314.5 287.5,313.5 289.5,314.5 290.5,315.5 292.5,314.5 293.5,313.5 295.5,312.5 296.5,310.5 298.5,311.5 299.5,309.5 301.5,310.5 302.5,309.5 303.5,309.5 305.5,308.5 306.5,308.5 308.5,308.5 309.5,306.5 311.5,305.5 312.5,306.5 314.5,306.5 315.5,305.5 317.5,304.5 318.5,305.5 319.5,304.5 321.5,305.5 322.5,304.5 324.5,304.5 325.5,300.5 327.5,300.5 328.5,300.5 330.5,299.5 331.5,299.5 332.5,301.5 334.5,301.5 335.5,301.5 337.5,304.5 338.5,301.5 340.5,302.5 341.5,301.5 343.5,301.5 344.5,301.5 345.5,302.5 347.5,302.5 348.5,303.5 350.5,303.5 351.5,304.5 353.5,307.5 354.5,305.5 356.5,302.5 357.5,303.5 359.5,304.5 360.5,303.5 361.5,300.5 363.5,301.5 364.5,301.5 366.5,297.5 367.5,300.5 369.5,301.5 370.5,298.5 372.5,298.5 373.5,299.5 375.5,297.5 376.5,297.5 377.5,297.5 379.5,296.5 380.5,298.5 382.5,296.5 383.5,299.5 385.5,299.5 386.5,300.5 388.5,298.5 389.5,300.5 390.5,299.5 392.5,298.5 393.5,300.5 395.5,299.5 396.5,299.5 398.5,301.5 399.5,300.5 401.5,300.5 402.5,298.5 403.5,298.5 405.5,299.5 406.5,301.5 408.5,297.5 409.5,298.5 411.5,295.5 412.5,297.5 414.5,298.5 415.5,296.5 417.5,299.5 418.5,300.5 419.5,297.5 421.5,298.5 422.5,300.5 424.5,298.5 425.5,298.5 427.5,298.5 428.5,300.5 430.5,299.5 431.5,297.5 433.5,295.5 434.5,298.5 435.5,300.5 437.5,301.5 438.5,299.5 440.5,301.5 441.5,300.5 443.5,299.5 444.5,300.5 446.5,298.5 447.5,297.5 448.5,298.5 450.5,299.5 451.5,298.5 453.5,299.5 454.5,299.5 456.5,299.5 457.5,298.5 459.5,296.5 460.5,295.5 461.5,297.5 463.5,300.5 464.5,299.5 466.5,298.5 467.5,302.5 469.5,301.5 470.5,303.5 472.5,305.5 473.5,304.5 475.5,305.5 476.5,306.5 477.5,303.5 479.5,305.5 480.5,307.5 482.5,306.5 483.5,306.5 485.5,308.5 486.5,309.5 488.5,308.5 489.5,307.5 491.5,308.5 492.5,310.5 493.5,309.5 495.5,310.5 496.5,311.5 498.5,311.5 499.5,311.5 501.5,310.5 502.5,310.5 504.5,311.5 505.5,313.5 506.5,314.5 508.5,313.5 509.5,313.5 511.5,314.5 512.5,314.5 514.5,314.5 515.5,315.5 517.5,316.5 518.5,317.5 519.5,316.5 521.5,318.5 522.5,317.5 524.5,318.5 525.5,319.5 527.5,319.5 528.5,320.5 530.5,321.5 531.5,320.5 533.5,322.5 534.5,324.5 535.5,323.5 537.5,325.5 538.5,325.5 540.5,325.5 541.5,325.5 543.5,326.5 544.5,326.5 546.5,326.5 547.5,327.5 549.5,325.5 550.5,326.5 551.5,327.5 553.5,327.5 554.5,328.5 556.5,327.5 557.5,326.5"/>
<path class="ax" d="M156.5 295 V363.5 H559"/>
<line class="ax" x1="156" y1="305.5" x2="162" y2="305.5"/>
<line class="ax" x1="156" y1="344.5" x2="162" y2="344.5"/>
<line class="ax" x1="212.5" y1="364" x2="212.5" y2="358"/>
<line class="ax" x1="299.5" y1="364" x2="299.5" y2="358"/>
<line class="ax" x1="386.5" y1="364" x2="386.5" y2="358"/>
<line class="ax" x1="474.5" y1="364" x2="474.5" y2="358"/>
<text class="tk" transform="translate(150.3,316.7) scale(1,1.05)" text-anchor="end">100</text>
<text class="tk" transform="translate(150.3,355.7) scale(1,1.05)" text-anchor="end">50</text>
<text class="tk" transform="translate(211.7,398.6) scale(1,1.05)" text-anchor="middle">2685</text>
<text class="tk" transform="translate(298.7,398.6) scale(1,1.05)" text-anchor="middle">2690</text>
<text class="tk" transform="translate(385.7,398.6) scale(1,1.05)" text-anchor="middle">2695</text>
<text class="tk" transform="translate(473.7,398.6) scale(1,1.05)" text-anchor="middle">2700</text>
<text class="ti" transform="translate(356.0,274.5) scale(1,1.05)" text-anchor="middle">Bin 3</text>
<text transform="translate(250.2,436.0) scale(1,1.05)" text-anchor="start">Wavenumber</text>
<text transform="translate(400.4,436.0) scale(1,1.05)" text-anchor="start">[cm</text>
<text class="sup" transform="translate(438.2,424.7) scale(1,1.05)" text-anchor="start">-</text>
<text class="sup" transform="translate(445.2,425.5) scale(1,1.05)" text-anchor="start">1</text>
<text transform="translate(455.8,436.0) scale(1,1.05)" text-anchor="start">]</text>
<text transform="translate(97.0,331.2) rotate(-90) scale(1,1.05)" text-anchor="middle">ADU</text>
</g>
<g id="p4">
<line class="gr" x1="690" y1="301.5" x2="1087" y2="301.5"/>
<line class="gr" x1="687" y1="342.5" x2="1087" y2="342.5"/>
<line class="gr" stroke-dashoffset="1" x1="740.5" y1="363" x2="740.5" y2="296"/>
<line class="gr" stroke-dashoffset="1" x1="827.5" y1="363" x2="827.5" y2="296"/>
<line class="gr" stroke-dashoffset="1" x1="915.5" y1="363" x2="915.5" y2="296"/>
<line class="gr" stroke-dashoffset="1" x1="1002.5" y1="363" x2="1002.5" y2="296"/>
<polyline class="ln" stroke="#00008f" points="685.5,362.5 686.5,361.5 688.5,361.5 689.5,361.5 691.5,361.5 692.5,360.5 694.5,359.5 695.5,359.5 697.5,358.5 698.5,358.5 699.5,357.5 701.5,356.5 702.5,356.5 704.5,356.5 705.5,355.5 707.5,355.5 708.5,355.5 710.5,354.5 711.5,354.5 713.5,353.5 714.5,352.5 715.5,352.5 717.5,351.5 718.5,351.5 720.5,350.5 721.5,350.5 723.5,349.5 724.5,349.5 726.5,348.5 727.5,349.5 729.5,348.5 730.5,347.5 731.5,346.5 733.5,345.5 734.5,344.5 736.5,344.5 737.5,344.5 739.5,343.5 740.5,343.5 742.5,342.5 743.5,342.5 744.5,340.5 746.5,340.5 747.5,339.5 749.5,338.5 750.5,339.5 752.5,338.5 753.5,338.5 755.5,336.5 756.5,336.5 757.5,335.5 759.5,333.5 760.5,334.5 762.5,332.5 763.5,332.5 765.5,332.5 766.5,331.5 768.5,329.5 769.5,331.5 771.5,330.5 772.5,330.5 773.5,328.5 775.5,327.5 776.5,328.5 778.5,326.5 779.5,325.5 781.5,325.5 782.5,325.5 784.5,323.5 785.5,324.5 787.5,322.5 788.5,324.5 789.5,323.5 791.5,321.5 792.5,321.5 794.5,321.5 795.5,320.5 797.5,320.5 798.5,321.5 800.5,319.5 801.5,319.5 802.5,319.5 804.5,320.5 805.5,318.5 807.5,315.5 808.5,316.5 810.5,315.5 811.5,314.5 813.5,314.5 814.5,314.5 815.5,313.5 817.5,315.5 818.5,314.5 820.5,313.5 821.5,313.5 823.5,312.5 824.5,312.5 826.5,312.5 827.5,311.5 829.5,309.5 830.5,309.5 831.5,311.5 833.5,309.5 834.5,310.5 836.5,310.5 837.5,308.5 839.5,307.5 840.5,307.5 842.5,309.5 843.5,306.5 845.5,305.5 846.5,306.5 847.5,308.5 849.5,306.5 850.5,307.5 852.5,306.5 853.5,303.5 855.5,304.5 856.5,303.5 858.5,303.5 859.5,304.5 860.5,304.5 862.5,302.5 863.5,303.5 865.5,300.5 866.5,301.5 868.5,300.5 869.5,300.5 871.5,298.5 872.5,302.5 873.5,299.5 875.5,301.5 876.5,300.5 878.5,302.5 879.5,303.5 881.5,302.5 882.5,303.5 884.5,301.5 885.5,301.5 887.5,300.5 888.5,298.5 889.5,301.5 891.5,300.5 892.5,299.5 894.5,300.5 895.5,299.5 897.5,299.5 898.5,299.5 900.5,302.5 901.5,300.5 903.5,300.5 904.5,297.5 905.5,299.5 907.5,298.5 908.5,298.5 910.5,299.5 911.5,298.5 913.5,299.5 914.5,300.5 916.5,301.5 917.5,299.5 918.5,297.5 920.5,297.5 921.5,300.5 923.5,296.5 924.5,298.5 926.5,298.5 927.5,300.5 929.5,298.5 930.5,297.5 931.5,299.5 933.5,299.5 934.5,298.5 936.5,298.5 937.5,299.5 939.5,298.5 940.5,298.5 942.5,298.5 943.5,298.5 945.5,299.5 946.5,299.5 947.5,299.5 949.5,295.5 950.5,299.5 952.5,297.5 953.5,297.5 955.5,300.5 956.5,299.5 958.5,300.5 959.5,299.5 961.5,301.5 962.5,299.5 963.5,298.5 965.5,300.5 966.5,297.5 968.5,301.5 969.5,299.5 971.5,299.5 972.5,297.5 974.5,298.5 975.5,298.5 976.5,298.5 978.5,299.5 979.5,297.5 981.5,299.5 982.5,297.5 984.5,299.5 985.5,299.5 987.5,299.5 988.5,301.5 989.5,297.5 991.5,303.5 992.5,302.5 994.5,301.5 995.5,300.5 997.5,300.5 998.5,302.5 1000.5,303.5 1001.5,302.5 1003.5,303.5 1004.5,306.5 1005.5,305.5 1007.5,303.5 1008.5,305.5 1010.5,304.5 1011.5,306.5 1013.5,304.5 1014.5,305.5 1016.5,306.5 1017.5,307.5 1019.5,307.5 1020.5,308.5 1021.5,306.5 1023.5,311.5 1024.5,311.5 1026.5,308.5 1027.5,308.5 1029.5,312.5 1030.5,313.5 1032.5,313.5 1033.5,313.5 1034.5,313.5 1036.5,314.5 1037.5,313.5 1039.5,315.5 1040.5,314.5 1042.5,314.5 1043.5,315.5 1045.5,316.5 1046.5,317.5 1047.5,317.5 1049.5,317.5 1050.5,317.5 1052.5,318.5 1053.5,317.5 1055.5,320.5 1056.5,319.5 1058.5,321.5 1059.5,321.5 1061.5,322.5 1062.5,324.5 1063.5,324.5 1065.5,326.5 1066.5,326.5 1068.5,325.5 1069.5,325.5 1071.5,325.5 1072.5,325.5 1074.5,324.5 1075.5,324.5 1077.5,326.5 1078.5,324.5 1079.5,326.5 1081.5,327.5 1082.5,325.5 1084.5,325.5 1085.5,325.5"/>
<polyline class="ln" stroke="#0038ff" points="685.5,362.5 686.5,362.5 688.5,362.5 689.5,361.5 691.5,361.5 692.5,360.5 694.5,359.5 695.5,359.5 697.5,358.5 698.5,359.5 699.5,357.5 701.5,356.5 702.5,356.5 704.5,356.5 705.5,355.5 707.5,355.5 708.5,355.5 710.5,354.5 711.5,354.5 713.5,353.5 714.5,352.5 715.5,352.5 717.5,351.5 718.5,351.5 720.5,350.5 721.5,350.5 723.5,348.5 724.5,349.5 726.5,348.5 727.5,349.5 729.5,348.5 730.5,347.5 731.5,347.5 733.5,345.5 734.5,345.5 736.5,344.5 737.5,343.5 739.5,343.5 740.5,343.5 742.5,342.5 743.5,342.5 744.5,340.5 746.5,339.5 747.5,339.5 749.5,338.5 750.5,339.5 752.5,338.5 753.5,339.5 755.5,336.5 756.5,336.5 757.5,335.5 759.5,333.5 760.5,334.5 762.5,332.5 763.5,333.5 765.5,332.5 766.5,332.5 768.5,330.5 769.5,331.5 771.5,329.5 772.5,330.5 773.5,328.5 775.5,327.5 776.5,328.5 778.5,326.5 779.5,325.5 781.5,325.5 782.5,325.5 784.5,323.5 785.5,324.5 787.5,322.5 788.5,324.5 789.5,323.5 791.5,321.5 792.5,321.5 794.5,321.5 795.5,320.5 797.5,320.5 798.5,321.5 800.5,319.5 801.5,319.5 802.5,319.5 804.5,319.5 805.5,318.5 807.5,315.5 808.5,316.5 810.5,315.5 811.5,314.5 813.5,314.5 814.5,314.5 815.5,313.5 817.5,315.5 818.5,314.5 820.5,313.5 821.5,313.5 823.5,311.5 824.5,312.5 826.5,312.5 827.5,311.5 829.5,308.5 830.5,309.5 831.5,310.5 833.5,309.5 834.5,309.5 836.5,310.5 837.5,309.5 839.5,307.5 840.5,307.5 842.5,309.5 843.5,306.5 845.5,305.5 846.5,306.5 847.5,307.5 849.5,306.5 850.5,307.5 852.5,306.5 853.5,303.5 855.5,304.5 856.5,303.5 858.5,301.5 859.5,305.5 860.5,304.5 862.5,301.5 863.5,303.5 865.5,300.5 866.5,301.5 868.5,299.5 869.5,299.5 871.5,298.5 872.5,301.5 873.5,299.5 875.5,301.5 876.5,299.5 878.5,301.5 879.5,302.5 881.5,303.5 882.5,303.5 884.5,302.5 885.5,300.5 887.5,299.5 888.5,298.5 889.5,301.5 891.5,299.5 892.5,300.5 894.5,299.5 895.5,299.5 897.5,299.5 898.5,299.5 900.5,302.5 901.5,300.5 903.5,301.5 904.5,297.5 905.5,299.5 907.5,299.5 908.5,299.5 910.5,299.5 911.5,298.5 913.5,300.5 914.5,301.5 916.5,300.5 917.5,299.5 918.5,298.5 920.5,297.5 921.5,299.5 923.5,297.5 924.5,298.5 926.5,298.5 927.5,300.5 929.5,299.5 930.5,297.5 931.5,298.5 933.5,299.5 934.5,298.5 936.5,298.5 937.5,298.5 939.5,299.5 940.5,298.5 942.5,298.5 943.5,298.5 945.5,298.5 946.5,300.5 947.5,299.5 949.5,296.5 950.5,299.5 952.5,297.5 953.5,298.5 955.5,300.5 956.5,299.5 958.5,300.5 959.5,298.5 961.5,301.5 962.5,299.5 963.5,297.5 965.5,301.5 966.5,297.5 968.5,301.5 969.5,299.5 971.5,297.5 972.5,298.5 974.5,298.5 975.5,298.5 976.5,299.5 978.5,298.5 979.5,297.5 981.5,299.5 982.5,296.5 984.5,300.5 985.5,299.5 987.5,300.5 988.5,301.5 989.5,297.5 991.5,302.5 992.5,303.5 994.5,301.5 995.5,301.5 997.5,300.5 998.5,303.5 1000.5,303.5 1001.5,302.5 1003.5,303.5 1004.5,305.5 1005.5,305.5 1007.5,303.5 1008.5,305.5 1010.5,304.5 1011.5,307.5 1013.5,304.5 1014.5,306.5 1016.5,307.5 1017.5,307.5 1019.5,306.5 1020.5,308.5 1021.5,307.5 1023.5,311.5 1024.5,310.5 1026.5,308.5 1027.5,309.5 1029.5,313.5 1030.5,312.5 1032.5,312.5 1033.5,313.5 1034.5,313.5 1036.5,314.5 1037.5,312.5 1039.5,314.5 1040.5,315.5 1042.5,314.5 1043.5,315.5 1045.5,316.5 1046.5,316.5 1047.5,317.5 1049.5,317.5 1050.5,316.5 1052.5,318.5 1053.5,318.5 1055.5,320.5 1056.5,318.5 1058.5,320.5 1059.5,321.5 1061.5,321.5 1062.5,324.5 1063.5,325.5 1065.5,326.5 1066.5,326.5 1068.5,325.5 1069.5,326.5 1071.5,325.5 1072.5,325.5 1074.5,324.5 1075.5,324.5 1077.5,326.5 1078.5,325.5 1079.5,326.5 1081.5,327.5 1082.5,325.5 1084.5,325.5 1085.5,325.5"/>
<polyline class="ln" stroke="#74d4ff" points="685.5,362.5 686.5,362.5 688.5,361.5 689.5,360.5 691.5,361.5 692.5,360.5 694.5,359.5 695.5,359.5 697.5,358.5 698.5,359.5 699.5,357.5 701.5,356.5 702.5,356.5 704.5,356.5 705.5,355.5 707.5,356.5 708.5,355.5 710.5,354.5 711.5,354.5 713.5,353.5 714.5,352.5 715.5,352.5 717.5,351.5 718.5,351.5 720.5,350.5 721.5,350.5 723.5,349.5 724.5,349.5 726.5,348.5 727.5,349.5 729.5,348.5 730.5,347.5 731.5,347.5 733.5,345.5 734.5,345.5 736.5,344.5 737.5,343.5 739.5,343.5 740.5,343.5 742.5,342.5 743.5,342.5 744.5,340.5 746.5,340.5 747.5,339.5 749.5,338.5 750.5,339.5 752.5,338.5 753.5,338.5 755.5,336.5 756.5,336.5 757.5,335.5 759.5,333.5 760.5,334.5 762.5,332.5 763.5,332.5 765.5,332.5 766.5,332.5 768.5,329.5 769.5,331.5 771.5,330.5 772.5,330.5 773.5,328.5 775.5,327.5 776.5,328.5 778.5,325.5 779.5,325.5 781.5,324.5 782.5,325.5 784.5,323.5 785.5,324.5 787.5,322.5 788.5,324.5 789.5,322.5 791.5,321.5 792.5,321.5 794.5,320.5 795.5,320.5 797.5,320.5 798.5,321.5 800.5,319.5 801.5,319.5 802.5,319.5 804.5,320.5 805.5,318.5 807.5,316.5 808.5,316.5 810.5,315.5 811.5,314.5 813.5,314.5 814.5,314.5 815.5,313.5 817.5,316.5 818.5,314.5 820.5,312.5 821.5,313.5 823.5,312.5 824.5,311.5 826.5,312.5 827.5,311.5 829.5,309.5 830.5,309.5 831.5,310.5 833.5,308.5 834.5,309.5 836.5,310.5 837.5,308.5 839.5,307.5 840.5,307.5 842.5,308.5 843.5,306.5 845.5,305.5 846.5,306.5 847.5,308.5 849.5,306.5 850.5,307.5 852.5,306.5 853.5,303.5 855.5,304.5 856.5,303.5 858.5,303.5 859.5,304.5 860.5,303.5 862.5,302.5 863.5,303.5 865.5,300.5 866.5,301.5 868.5,299.5 869.5,300.5 871.5,298.5 872.5,301.5 873.5,299.5 875.5,301.5 876.5,299.5 878.5,302.5 879.5,303.5 881.5,303.5 882.5,303.5 884.5,302.5 885.5,301.5 887.5,299.5 888.5,298.5 889.5,301.5 891.5,299.5 892.5,299.5 894.5,300.5 895.5,299.5 897.5,299.5 898.5,299.5 900.5,302.5 901.5,299.5 903.5,301.5 904.5,298.5 905.5,299.5 907.5,299.5 908.5,298.5 910.5,299.5 911.5,298.5 913.5,299.5 914.5,301.5 916.5,301.5 917.5,299.5 918.5,297.5 920.5,297.5 921.5,299.5 923.5,297.5 924.5,298.5 926.5,298.5 927.5,300.5 929.5,299.5 930.5,297.5 931.5,298.5 933.5,299.5 934.5,298.5 936.5,297.5 937.5,298.5 939.5,299.5 940.5,298.5 942.5,299.5 943.5,298.5 945.5,298.5 946.5,299.5 947.5,299.5 949.5,296.5 950.5,299.5 952.5,298.5 953.5,298.5 955.5,300.5 956.5,299.5 958.5,300.5 959.5,298.5 961.5,301.5 962.5,299.5 963.5,297.5 965.5,300.5 966.5,297.5 968.5,301.5 969.5,299.5 971.5,298.5 972.5,297.5 974.5,297.5 975.5,297.5 976.5,299.5 978.5,299.5 979.5,297.5 981.5,299.5 982.5,297.5 984.5,299.5 985.5,299.5 987.5,299.5 988.5,301.5 989.5,297.5 991.5,302.5 992.5,303.5 994.5,301.5 995.5,300.5 997.5,300.5 998.5,303.5 1000.5,303.5 1001.5,302.5 1003.5,303.5 1004.5,305.5 1005.5,305.5 1007.5,303.5 1008.5,305.5 1010.5,304.5 1011.5,306.5 1013.5,304.5 1014.5,306.5 1016.5,307.5 1017.5,307.5 1019.5,306.5 1020.5,307.5 1021.5,307.5 1023.5,310.5 1024.5,310.5 1026.5,308.5 1027.5,309.5 1029.5,313.5 1030.5,312.5 1032.5,312.5 1033.5,313.5 1034.5,312.5 1036.5,314.5 1037.5,312.5 1039.5,315.5 1040.5,314.5 1042.5,314.5 1043.5,315.5 1045.5,316.5 1046.5,317.5 1047.5,317.5 1049.5,317.5 1050.5,317.5 1052.5,318.5 1053.5,318.5 1055.5,320.5 1056.5,318.5 1058.5,320.5 1059.5,321.5 1061.5,322.5 1062.5,324.5 1063.5,325.5 1065.5,326.5 1066.5,327.5 1068.5,325.5 1069.5,326.5 1071.5,325.5 1072.5,325.5 1074.5,324.5 1075.5,324.5 1077.5,326.5 1078.5,324.5 1079.5,326.5 1081.5,327.5 1082.5,325.5 1084.5,325.5 1085.5,325.5"/>
<polyline class="ln" stroke="#c0f0ca" points="685.5,362.5 686.5,362.5 688.5,362.5 689.5,361.5 691.5,361.5 692.5,360.5 694.5,359.5 695.5,359.5 697.5,358.5 698.5,359.5 699.5,357.5 701.5,356.5 702.5,356.5 704.5,356.5 705.5,355.5 707.5,356.5 708.5,354.5 710.5,354.5 711.5,354.5 713.5,353.5 714.5,352.5 715.5,352.5 717.5,351.5 718.5,351.5 720.5,350.5 721.5,350.5 723.5,349.5 724.5,349.5 726.5,348.5 727.5,349.5 729.5,348.5 730.5,347.5 731.5,347.5 733.5,345.5 734.5,345.5 736.5,344.5 737.5,343.5 739.5,343.5 740.5,343.5 742.5,342.5 743.5,342.5 744.5,340.5 746.5,340.5 747.5,339.5 749.5,338.5 750.5,339.5 752.5,338.5 753.5,338.5 755.5,336.5 756.5,336.5 757.5,335.5 759.5,333.5 760.5,334.5 762.5,332.5 763.5,332.5 765.5,332.5 766.5,332.5 768.5,329.5 769.5,331.5 771.5,330.5 772.5,330.5 773.5,328.5 775.5,327.5 776.5,328.5 778.5,325.5 779.5,325.5 781.5,324.5 782.5,325.5 784.5,323.5 785.5,324.5 787.5,322.5 788.5,324.5 789.5,323.5 791.5,321.5 792.5,321.5 794.5,321.5 795.5,320.5 797.5,320.5 798.5,321.5 800.5,319.5 801.5,318.5 802.5,319.5 804.5,320.5 805.5,318.5 807.5,316.5 808.5,316.5 810.5,315.5 811.5,314.5 813.5,314.5 814.5,314.5 815.5,313.5 817.5,315.5 818.5,314.5 820.5,312.5 821.5,313.5 823.5,311.5 824.5,312.5 826.5,312.5 827.5,311.5 829.5,309.5 830.5,309.5 831.5,310.5 833.5,309.5 834.5,309.5 836.5,310.5 837.5,309.5 839.5,307.5 840.5,307.5 842.5,308.5 843.5,306.5 845.5,305.5 846.5,306.5 847.5,308.5 849.5,306.5 850.5,307.5 852.5,306.5 853.5,303.5 855.5,304.5 856.5,303.5 858.5,303.5 859.5,304.5 860.5,303.5 862.5,301.5 863.5,302.5 865.5,300.5 866.5,301.5 868.5,299.5 869.5,299.5 871.5,298.5 872.5,301.5 873.5,299.5 875.5,301.5 876.5,299.5 878.5,302.5 879.5,303.5 881.5,303.5 882.5,303.5 884.5,302.5 885.5,300.5 887.5,299.5 888.5,299.5 889.5,301.5 891.5,299.5 892.5,299.5 894.5,300.5 895.5,298.5 897.5,299.5 898.5,299.5 900.5,302.5 901.5,300.5 903.5,301.5 904.5,297.5 905.5,299.5 907.5,299.5 908.5,298.5 910.5,299.5 911.5,298.5 913.5,299.5 914.5,300.5 916.5,301.5 917.5,299.5 918.5,297.5 920.5,297.5 921.5,299.5 923.5,297.5 924.5,298.5 926.5,298.5 927.5,300.5 929.5,299.5 930.5,297.5 931.5,298.5 933.5,299.5 934.5,298.5 936.5,298.5 937.5,298.5 939.5,299.5 940.5,298.5 942.5,299.5 943.5,299.5 945.5,298.5 946.5,300.5 947.5,299.5 949.5,296.5 950.5,299.5 952.5,298.5 953.5,298.5 955.5,300.5 956.5,299.5 958.5,300.5 959.5,298.5 961.5,301.5 962.5,299.5 963.5,297.5 965.5,300.5 966.5,297.5 968.5,301.5 969.5,299.5 971.5,298.5 972.5,298.5 974.5,298.5 975.5,297.5 976.5,299.5 978.5,299.5 979.5,297.5 981.5,299.5 982.5,297.5 984.5,300.5 985.5,299.5 987.5,300.5 988.5,301.5 989.5,297.5 991.5,302.5 992.5,303.5 994.5,301.5 995.5,301.5 997.5,300.5 998.5,303.5 1000.5,303.5 1001.5,302.5 1003.5,303.5 1004.5,305.5 1005.5,305.5 1007.5,303.5 1008.5,305.5 1010.5,304.5 1011.5,306.5 1013.5,304.5 1014.5,306.5 1016.5,307.5 1017.5,307.5 1019.5,306.5 1020.5,307.5 1021.5,307.5 1023.5,310.5 1024.5,310.5 1026.5,309.5 1027.5,309.5 1029.5,313.5 1030.5,312.5 1032.5,312.5 1033.5,313.5 1034.5,313.5 1036.5,314.5 1037.5,312.5 1039.5,315.5 1040.5,314.5 1042.5,314.5 1043.5,315.5 1045.5,315.5 1046.5,317.5 1047.5,317.5 1049.5,317.5 1050.5,317.5 1052.5,318.5 1053.5,318.5 1055.5,320.5 1056.5,318.5 1058.5,320.5 1059.5,321.5 1061.5,322.5 1062.5,324.5 1063.5,325.5 1065.5,326.5 1066.5,327.5 1068.5,325.5 1069.5,326.5 1071.5,325.5 1072.5,325.5 1074.5,324.5 1075.5,324.5 1077.5,326.5 1078.5,324.5 1079.5,326.5 1081.5,327.5 1082.5,325.5 1084.5,325.5 1085.5,325.5"/>
<polyline class="ln" stroke="#f0e274" points="685.5,362.5 686.5,362.5 688.5,362.5 689.5,361.5 691.5,361.5 692.5,360.5 694.5,359.5 695.5,359.5 697.5,358.5 698.5,359.5 699.5,357.5 701.5,356.5 702.5,356.5 704.5,356.5 705.5,355.5 707.5,356.5 708.5,354.5 710.5,354.5 711.5,354.5 713.5,353.5 714.5,352.5 715.5,352.5 717.5,351.5 718.5,351.5 720.5,350.5 721.5,350.5 723.5,349.5 724.5,349.5 726.5,348.5 727.5,349.5 729.5,348.5 730.5,347.5 731.5,347.5 733.5,345.5 734.5,345.5 736.5,344.5 737.5,343.5 739.5,343.5 740.5,343.5 742.5,342.5 743.5,342.5 744.5,340.5 746.5,340.5 747.5,339.5 749.5,338.5 750.5,339.5 752.5,338.5 753.5,338.5 755.5,336.5 756.5,336.5 757.5,335.5 759.5,333.5 760.5,334.5 762.5,332.5 763.5,332.5 765.5,332.5 766.5,331.5 768.5,329.5 769.5,331.5 771.5,330.5 772.5,330.5 773.5,328.5 775.5,327.5 776.5,328.5 778.5,325.5 779.5,325.5 781.5,324.5 782.5,325.5 784.5,323.5 785.5,324.5 787.5,322.5 788.5,324.5 789.5,323.5 791.5,321.5 792.5,321.5 794.5,321.5 795.5,320.5 797.5,320.5 798.5,321.5 800.5,318.5 801.5,318.5 802.5,319.5 804.5,320.5 805.5,318.5 807.5,315.5 808.5,316.5 810.5,315.5 811.5,314.5 813.5,314.5 814.5,314.5 815.5,313.5 817.5,316.5 818.5,314.5 820.5,312.5 821.5,313.5 823.5,311.5 824.5,311.5 826.5,312.5 827.5,311.5 829.5,308.5 830.5,309.5 831.5,310.5 833.5,309.5 834.5,309.5 836.5,310.5 837.5,308.5 839.5,307.5 840.5,307.5 842.5,308.5 843.5,306.5 845.5,305.5 846.5,306.5 847.5,308.5 849.5,306.5 850.5,307.5 852.5,306.5 853.5,303.5 855.5,304.5 856.5,303.5 858.5,303.5 859.5,304.5 860.5,303.5 862.5,302.5 863.5,302.5 865.5,300.5 866.5,301.5 868.5,300.5 869.5,299.5 871.5,299.5 872.5,301.5 873.5,299.5 875.5,301.5 876.5,299.5 878.5,302.5 879.5,303.5 881.5,303.5 882.5,303.5 884.5,302.5 885.5,301.5 887.5,299.5 888.5,298.5 889.5,301.5 891.5,299.5 892.5,299.5 894.5,300.5 895.5,298.5 897.5,299.5 898.5,299.5 900.5,302.5 901.5,299.5 903.5,301.5 904.5,298.5 905.5,299.5 907.5,299.5 908.5,298.5 910.5,300.5 911.5,298.5 913.5,299.5 914.5,300.5 916.5,301.5 917.5,299.5 918.5,297.5 920.5,297.5 921.5,300.5 923.5,297.5 924.5,298.5 926.5,298.5 927.5,300.5 929.5,299.5 930.5,297.5 931.5,298.5 933.5,299.5 934.5,298.5 936.5,297.5 937.5,298.5 939.5,299.5 940.5,298.5 942.5,299.5 943.5,299.5 945.5,298.5 946.5,300.5 947.5,299.5 949.5,295.5 950.5,299.5 952.5,298.5 953.5,297.5 955.5,300.5 956.5,299.5 958.5,299.5 959.5,298.5 961.5,301.5 962.5,299.5 963.5,297.5 965.5,300.5 966.5,297.5 968.5,300.5 969.5,298.5 971.5,298.5 972.5,297.5 974.5,297.5 975.5,297.5 976.5,299.5 978.5,299.5 979.5,297.5 981.5,299.5 982.5,297.5 984.5,299.5 985.5,299.5 987.5,299.5 988.5,301.5 989.5,297.5 991.5,302.5 992.5,303.5 994.5,301.5 995.5,301.5 997.5,300.5 998.5,303.5 1000.5,302.5 1001.5,302.5 1003.5,303.5 1004.5,305.5 1005.5,305.5 1007.5,303.5 1008.5,305.5 1010.5,304.5 1011.5,306.5 1013.5,304.5 1014.5,306.5 1016.5,307.5 1017.5,307.5 1019.5,306.5 1020.5,307.5 1021.5,307.5 1023.5,310.5 1024.5,310.5 1026.5,309.5 1027.5,309.5 1029.5,313.5 1030.5,312.5 1032.5,312.5 1033.5,313.5 1034.5,313.5 1036.5,314.5 1037.5,313.5 1039.5,315.5 1040.5,314.5 1042.5,314.5 1043.5,315.5 1045.5,315.5 1046.5,317.5 1047.5,317.5 1049.5,317.5 1050.5,316.5 1052.5,318.5 1053.5,318.5 1055.5,320.5 1056.5,318.5 1058.5,320.5 1059.5,321.5 1061.5,322.5 1062.5,324.5 1063.5,325.5 1065.5,325.5 1066.5,327.5 1068.5,325.5 1069.5,326.5 1071.5,325.5 1072.5,325.5 1074.5,324.5 1075.5,324.5 1077.5,325.5 1078.5,324.5 1079.5,326.5 1081.5,327.5 1082.5,325.5 1084.5,325.5 1085.5,325.5"/>
<polyline class="ln" stroke="#dc7c20" points="685.5,362.5 686.5,361.5 688.5,362.5 689.5,360.5 691.5,361.5 692.5,359.5 694.5,359.5 695.5,359.5 697.5,358.5 698.5,359.5 699.5,357.5 701.5,356.5 702.5,356.5 704.5,356.5 705.5,355.5 707.5,356.5 708.5,355.5 710.5,354.5 711.5,354.5 713.5,353.5 714.5,352.5 715.5,352.5 717.5,351.5 718.5,351.5 720.5,350.5 721.5,350.5 723.5,349.5 724.5,349.5 726.5,348.5 727.5,349.5 729.5,348.5 730.5,347.5 731.5,346.5 733.5,345.5 734.5,345.5 736.5,344.5 737.5,344.5 739.5,343.5 740.5,343.5 742.5,342.5 743.5,342.5 744.5,340.5 746.5,340.5 747.5,339.5 749.5,337.5 750.5,339.5 752.5,338.5 753.5,338.5 755.5,336.5 756.5,336.5 757.5,335.5 759.5,333.5 760.5,334.5 762.5,332.5 763.5,332.5 765.5,332.5 766.5,331.5 768.5,329.5 769.5,331.5 771.5,330.5 772.5,330.5 773.5,328.5 775.5,327.5 776.5,328.5 778.5,325.5 779.5,325.5 781.5,325.5 782.5,325.5 784.5,323.5 785.5,324.5 787.5,322.5 788.5,324.5 789.5,322.5 791.5,321.5 792.5,321.5 794.5,321.5 795.5,320.5 797.5,320.5 798.5,321.5 800.5,319.5 801.5,318.5 802.5,319.5 804.5,320.5 805.5,318.5 807.5,316.5 808.5,316.5 810.5,314.5 811.5,314.5 813.5,314.5 814.5,314.5 815.5,313.5 817.5,315.5 818.5,314.5 820.5,312.5 821.5,312.5 823.5,312.5 824.5,311.5 826.5,312.5 827.5,311.5 829.5,309.5 830.5,309.5 831.5,310.5 833.5,309.5 834.5,310.5 836.5,310.5 837.5,308.5 839.5,308.5 840.5,307.5 842.5,309.5 843.5,305.5 845.5,305.5 846.5,306.5 847.5,308.5 849.5,306.5 850.5,307.5 852.5,306.5 853.5,304.5 855.5,304.5 856.5,302.5 858.5,304.5 859.5,304.5 860.5,303.5 862.5,302.5 863.5,302.5 865.5,300.5 866.5,301.5 868.5,299.5 869.5,300.5 871.5,298.5 872.5,301.5 873.5,298.5 875.5,301.5 876.5,299.5 878.5,302.5 879.5,303.5 881.5,302.5 882.5,303.5 884.5,302.5 885.5,301.5 887.5,299.5 888.5,299.5 889.5,301.5 891.5,299.5 892.5,299.5 894.5,300.5 895.5,299.5 897.5,299.5 898.5,299.5 900.5,302.5 901.5,299.5 903.5,301.5 904.5,297.5 905.5,299.5 907.5,299.5 908.5,298.5 910.5,299.5 911.5,298.5 913.5,299.5 914.5,301.5 916.5,301.5 917.5,299.5 918.5,297.5 920.5,297.5 921.5,300.5 923.5,296.5 924.5,298.5 926.5,298.5 927.5,300.5 929.5,299.5 930.5,297.5 931.5,298.5 933.5,299.5 934.5,298.5 936.5,297.5 937.5,298.5 939.5,299.5 940.5,298.5 942.5,299.5 943.5,298.5 945.5,298.5 946.5,299.5 947.5,299.5 949.5,295.5 950.5,299.5 952.5,298.5 953.5,298.5 955.5,300.5 956.5,299.5 958.5,300.5 959.5,298.5 961.5,301.5 962.5,299.5 963.5,297.5 965.5,300.5 966.5,297.5 968.5,301.5 969.5,298.5 971.5,298.5 972.5,297.5 974.5,297.5 975.5,297.5 976.5,299.5 978.5,299.5 979.5,297.5 981.5,299.5 982.5,297.5 984.5,299.5 985.5,299.5 987.5,299.5 988.5,301.5 989.5,297.5 991.5,302.5 992.5,303.5 994.5,301.5 995.5,301.5 997.5,301.5 998.5,303.5 1000.5,302.5 1001.5,302.5 1003.5,303.5 1004.5,305.5 1005.5,305.5 1007.5,302.5 1008.5,305.5 1010.5,304.5 1011.5,307.5 1013.5,304.5 1014.5,306.5 1016.5,307.5 1017.5,307.5 1019.5,306.5 1020.5,307.5 1021.5,307.5 1023.5,311.5 1024.5,310.5 1026.5,308.5 1027.5,309.5 1029.5,313.5 1030.5,312.5 1032.5,312.5 1033.5,313.5 1034.5,313.5 1036.5,314.5 1037.5,312.5 1039.5,315.5 1040.5,315.5 1042.5,314.5 1043.5,315.5 1045.5,316.5 1046.5,316.5 1047.5,317.5 1049.5,317.5 1050.5,317.5 1052.5,318.5 1053.5,318.5 1055.5,320.5 1056.5,319.5 1058.5,320.5 1059.5,321.5 1061.5,322.5 1062.5,324.5 1063.5,324.5 1065.5,325.5 1066.5,327.5 1068.5,325.5 1069.5,326.5 1071.5,325.5 1072.5,325.5 1074.5,324.5 1075.5,324.5 1077.5,325.5 1078.5,324.5 1079.5,326.5 1081.5,327.5 1082.5,325.5 1084.5,325.5 1085.5,325.5"/>
<path class="ax" d="M684.5 295 V363.5 H1087"/>
<line class="ax" x1="684" y1="301.5" x2="690" y2="301.5"/>
<line class="ax" x1="684" y1="342.5" x2="690" y2="342.5"/>
<line class="ax" x1="740.5" y1="364" x2="740.5" y2="358"/>
<line class="ax" x1="827.5" y1="364" x2="827.5" y2="358"/>
<line class="ax" x1="915.5" y1="364" x2="915.5" y2="358"/>
<line class="ax" x1="1002.5" y1="364" x2="1002.5" y2="358"/>
<text class="tk" transform="translate(678.3,312.7) scale(1,1.05)" text-anchor="end">100</text>
<text class="tk" transform="translate(678.3,353.7) scale(1,1.05)" text-anchor="end">50</text>
<text class="tk" transform="translate(739.7,398.6) scale(1,1.05)" text-anchor="middle">2685</text>
<text class="tk" transform="translate(826.7,398.6) scale(1,1.05)" text-anchor="middle">2690</text>
<text class="tk" transform="translate(913.7,398.6) scale(1,1.05)" text-anchor="middle">2695</text>
<text class="tk" transform="translate(1001.7,398.6) scale(1,1.05)" text-anchor="middle">2700</text>
<text class="ti" transform="translate(884.0,274.5) scale(1,1.05)" text-anchor="middle">Bin 4</text>
<text transform="translate(778.2,436.0) scale(1,1.05)" text-anchor="start">Wavenumber</text>
<text transform="translate(928.4,436.0) scale(1,1.05)" text-anchor="start">[cm</text>
<text class="sup" transform="translate(966.2,424.7) scale(1,1.05)" text-anchor="start">-</text>
<text class="sup" transform="translate(973.2,425.5) scale(1,1.05)" text-anchor="start">1</text>
<text transform="translate(983.8,436.0) scale(1,1.05)" text-anchor="start">]</text>
<text transform="translate(625.0,331.2) rotate(-90) scale(1,1.05)" text-anchor="middle">ADU</text>
</g>
<g id="p5">
<line class="gr" x1="161" y1="494.5" x2="559" y2="494.5"/>
<line class="gr" x1="158" y1="537.5" x2="559" y2="537.5"/>
<line class="gr" stroke-dashoffset="1" x1="212.5" y1="560" x2="212.5" y2="494"/>
<line class="gr" stroke-dashoffset="1" x1="299.5" y1="560" x2="299.5" y2="494"/>
<line class="gr" stroke-dashoffset="1" x1="386.5" y1="560" x2="386.5" y2="494"/>
<line class="gr" stroke-dashoffset="1" x1="474.5" y1="560" x2="474.5" y2="494"/>
<polyline class="ln" stroke="#00008f" points="157.5,559.5 158.5,559.5 160.5,558.5 161.5,558.5 163.5,557.5 164.5,557.5 166.5,557.5 167.5,556.5 169.5,555.5 170.5,555.5 171.5,555.5 173.5,554.5 174.5,553.5 176.5,553.5 177.5,552.5 179.5,551.5 180.5,552.5 182.5,551.5 183.5,550.5 185.5,549.5 186.5,550.5 187.5,548.5 189.5,547.5 190.5,547.5 192.5,547.5 193.5,546.5 195.5,546.5 196.5,546.5 198.5,544.5 199.5,544.5 201.5,543.5 202.5,542.5 203.5,541.5 205.5,540.5 206.5,541.5 208.5,539.5 209.5,540.5 211.5,539.5 212.5,537.5 214.5,537.5 215.5,537.5 216.5,536.5 218.5,535.5 219.5,535.5 221.5,532.5 222.5,532.5 224.5,531.5 225.5,530.5 227.5,529.5 228.5,531.5 229.5,530.5 231.5,529.5 232.5,528.5 234.5,526.5 235.5,527.5 237.5,526.5 238.5,525.5 240.5,525.5 241.5,526.5 243.5,526.5 244.5,524.5 245.5,524.5 247.5,523.5 248.5,525.5 250.5,524.5 251.5,522.5 253.5,521.5 254.5,520.5 256.5,520.5 257.5,521.5 259.5,519.5 260.5,520.5 261.5,518.5 263.5,518.5 264.5,516.5 266.5,518.5 267.5,516.5 269.5,517.5 270.5,517.5 272.5,518.5 273.5,517.5 274.5,517.5 276.5,514.5 277.5,514.5 279.5,514.5 280.5,513.5 282.5,513.5 283.5,514.5 285.5,513.5 286.5,513.5 287.5,512.5 289.5,512.5 290.5,510.5 292.5,511.5 293.5,510.5 295.5,510.5 296.5,510.5 298.5,509.5 299.5,509.5 301.5,505.5 302.5,508.5 303.5,507.5 305.5,506.5 306.5,506.5 308.5,505.5 309.5,504.5 311.5,503.5 312.5,502.5 314.5,503.5 315.5,504.5 317.5,503.5 318.5,503.5 319.5,502.5 321.5,502.5 322.5,505.5 324.5,503.5 325.5,504.5 327.5,504.5 328.5,501.5 330.5,501.5 331.5,500.5 332.5,497.5 334.5,496.5 335.5,497.5 337.5,496.5 338.5,496.5 340.5,499.5 341.5,498.5 343.5,498.5 344.5,501.5 345.5,500.5 347.5,500.5 348.5,502.5 350.5,501.5 351.5,496.5 353.5,498.5 354.5,497.5 356.5,497.5 357.5,497.5 359.5,498.5 360.5,497.5 361.5,497.5 363.5,497.5 364.5,494.5 366.5,496.5 367.5,495.5 369.5,492.5 370.5,494.5 372.5,494.5 373.5,495.5 375.5,497.5 376.5,497.5 377.5,495.5 379.5,496.5 380.5,498.5 382.5,496.5 383.5,494.5 385.5,498.5 386.5,495.5 388.5,496.5 389.5,498.5 390.5,497.5 392.5,497.5 393.5,499.5 395.5,497.5 396.5,496.5 398.5,497.5 399.5,499.5 401.5,496.5 402.5,496.5 403.5,495.5 405.5,496.5 406.5,495.5 408.5,496.5 409.5,495.5 411.5,497.5 412.5,496.5 414.5,497.5 415.5,498.5 417.5,497.5 418.5,497.5 419.5,497.5 421.5,499.5 422.5,499.5 424.5,499.5 425.5,501.5 427.5,498.5 428.5,497.5 430.5,497.5 431.5,497.5 433.5,497.5 434.5,498.5 435.5,501.5 437.5,498.5 438.5,500.5 440.5,498.5 441.5,500.5 443.5,499.5 444.5,501.5 446.5,499.5 447.5,498.5 448.5,499.5 450.5,498.5 451.5,501.5 453.5,501.5 454.5,498.5 456.5,500.5 457.5,500.5 459.5,503.5 460.5,498.5 461.5,500.5 463.5,500.5 464.5,501.5 466.5,501.5 467.5,499.5 469.5,497.5 470.5,498.5 472.5,500.5 473.5,500.5 475.5,501.5 476.5,500.5 477.5,503.5 479.5,504.5 480.5,505.5 482.5,504.5 483.5,504.5 485.5,505.5 486.5,509.5 488.5,507.5 489.5,507.5 491.5,509.5 492.5,507.5 493.5,509.5 495.5,508.5 496.5,509.5 498.5,508.5 499.5,510.5 501.5,512.5 502.5,510.5 504.5,511.5 505.5,511.5 506.5,512.5 508.5,511.5 509.5,511.5 511.5,512.5 512.5,513.5 514.5,511.5 515.5,512.5 517.5,513.5 518.5,513.5 519.5,514.5 521.5,514.5 522.5,516.5 524.5,516.5 525.5,518.5 527.5,519.5 528.5,520.5 530.5,519.5 531.5,522.5 533.5,522.5 534.5,522.5 535.5,523.5 537.5,523.5 538.5,522.5 540.5,521.5 541.5,523.5 543.5,522.5 544.5,523.5 546.5,524.5 547.5,524.5 549.5,522.5 550.5,522.5 551.5,525.5 553.5,522.5 554.5,525.5 556.5,525.5 557.5,524.5"/>
<polyline class="ln" stroke="#0038ff" points="157.5,559.5 158.5,559.5 160.5,558.5 161.5,558.5 163.5,557.5 164.5,557.5 166.5,557.5 167.5,556.5 169.5,555.5 170.5,555.5 171.5,555.5 173.5,554.5 174.5,553.5 176.5,553.5 177.5,552.5 179.5,551.5 180.5,552.5 182.5,550.5 183.5,550.5 185.5,549.5 186.5,550.5 187.5,548.5 189.5,547.5 190.5,547.5 192.5,547.5 193.5,546.5 195.5,546.5 196.5,545.5 198.5,544.5 199.5,544.5 201.5,544.5 202.5,542.5 203.5,542.5 205.5,540.5 206.5,541.5 208.5,540.5 209.5,540.5 211.5,539.5 212.5,537.5 214.5,537.5 215.5,537.5 216.5,536.5 218.5,535.5 219.5,535.5 221.5,532.5 222.5,532.5 224.5,531.5 225.5,531.5 227.5,529.5 228.5,531.5 229.5,530.5 231.5,529.5 232.5,528.5 234.5,526.5 235.5,527.5 237.5,526.5 238.5,526.5 240.5,525.5 241.5,526.5 243.5,526.5 244.5,525.5 245.5,524.5 247.5,523.5 248.5,525.5 250.5,524.5 251.5,522.5 253.5,521.5 254.5,520.5 256.5,520.5 257.5,521.5 259.5,519.5 260.5,519.5 261.5,518.5 263.5,518.5 264.5,517.5 266.5,518.5 267.5,517.5 269.5,517.5 270.5,517.5 272.5,518.5 273.5,517.5 274.5,517.5 276.5,514.5 277.5,514.5 279.5,513.5 280.5,513.5 282.5,513.5 283.5,514.5 285.5,513.5 286.5,513.5 287.5,513.5 289.5,513.5 290.5,511.5 292.5,512.5 293.5,510.5 295.5,510.5 296.5,510.5 298.5,508.5 299.5,509.5 301.5,505.5 302.5,508.5 303.5,507.5 305.5,506.5 306.5,506.5 308.5,506.5 309.5,504.5 311.5,503.5 312.5,503.5 314.5,502.5 315.5,503.5 317.5,504.5 318.5,503.5 319.5,502.5 321.5,503.5 322.5,504.5 324.5,503.5 325.5,504.5 327.5,503.5 328.5,501.5 330.5,502.5 331.5,500.5 332.5,497.5 334.5,496.5 335.5,498.5 337.5,495.5 338.5,497.5 340.5,499.5 341.5,497.5 343.5,498.5 344.5,501.5 345.5,500.5 347.5,500.5 348.5,502.5 350.5,500.5 351.5,495.5 353.5,499.5 354.5,497.5 356.5,497.5 357.5,498.5 359.5,498.5 360.5,498.5 361.5,497.5 363.5,496.5 364.5,493.5 366.5,496.5 367.5,495.5 369.5,493.5 370.5,494.5 372.5,494.5 373.5,494.5 375.5,497.5 376.5,496.5 377.5,496.5 379.5,497.5 380.5,498.5 382.5,496.5 383.5,496.5 385.5,498.5 386.5,494.5 388.5,496.5 389.5,497.5 390.5,498.5 392.5,497.5 393.5,499.5 395.5,496.5 396.5,497.5 398.5,498.5 399.5,498.5 401.5,496.5 402.5,496.5 403.5,496.5 405.5,496.5 406.5,496.5 408.5,496.5 409.5,496.5 411.5,498.5 412.5,495.5 414.5,497.5 415.5,498.5 417.5,498.5 418.5,496.5 419.5,498.5 421.5,497.5 422.5,499.5 424.5,500.5 425.5,502.5 427.5,499.5 428.5,497.5 430.5,498.5 431.5,497.5 433.5,496.5 434.5,499.5 435.5,501.5 437.5,498.5 438.5,500.5 440.5,498.5 441.5,500.5 443.5,498.5 444.5,500.5 446.5,499.5 447.5,499.5 448.5,499.5 450.5,499.5 451.5,500.5 453.5,499.5 454.5,498.5 456.5,501.5 457.5,499.5 459.5,502.5 460.5,498.5 461.5,499.5 463.5,499.5 464.5,501.5 466.5,501.5 467.5,499.5 469.5,497.5 470.5,499.5 472.5,500.5 473.5,501.5 475.5,500.5 476.5,500.5 477.5,503.5 479.5,504.5 480.5,504.5 482.5,505.5 483.5,505.5 485.5,505.5 486.5,509.5 488.5,507.5 489.5,507.5 491.5,509.5 492.5,508.5 493.5,509.5 495.5,508.5 496.5,509.5 498.5,507.5 499.5,509.5 501.5,511.5 502.5,510.5 504.5,510.5 505.5,512.5 506.5,513.5 508.5,510.5 509.5,511.5 511.5,512.5 512.5,514.5 514.5,511.5 515.5,512.5 517.5,513.5 518.5,513.5 519.5,514.5 521.5,514.5 522.5,516.5 524.5,515.5 525.5,518.5 527.5,518.5 528.5,519.5 530.5,520.5 531.5,521.5 533.5,521.5 534.5,521.5 535.5,524.5 537.5,523.5 538.5,522.5 540.5,522.5 541.5,523.5 543.5,523.5 544.5,523.5 546.5,524.5 547.5,524.5 549.5,522.5 550.5,521.5 551.5,524.5 553.5,523.5 554.5,525.5 556.5,525.5 557.5,524.5"/>
<polyline class="ln" stroke="#74d4ff" points="157.5,559.5 158.5,559.5 160.5,558.5 161.5,558.5 163.5,557.5 164.5,557.5 166.5,557.5 167.5,556.5 169.5,555.5 170.5,555.5 171.5,555.5 173.5,554.5 174.5,553.5 176.5,553.5 177.5,553.5 179.5,551.5 180.5,552.5 182.5,550.5 183.5,550.5 185.5,549.5 186.5,549.5 187.5,548.5 189.5,547.5 190.5,548.5 192.5,547.5 193.5,546.5 195.5,546.5 196.5,546.5 198.5,544.5 199.5,545.5 201.5,543.5 202.5,542.5 203.5,542.5 205.5,540.5 206.5,541.5 208.5,539.5 209.5,539.5 211.5,539.5 212.5,537.5 214.5,537.5 215.5,536.5 216.5,536.5 218.5,536.5 219.5,535.5 221.5,532.5 222.5,532.5 224.5,531.5 225.5,530.5 227.5,529.5 228.5,531.5 229.5,530.5 231.5,529.5 232.5,528.5 234.5,526.5 235.5,527.5 237.5,526.5 238.5,526.5 240.5,525.5 241.5,525.5 243.5,526.5 244.5,524.5 245.5,524.5 247.5,523.5 248.5,525.5 250.5,524.5 251.5,522.5 253.5,521.5 254.5,520.5 256.5,520.5 257.5,521.5 259.5,519.5 260.5,519.5 261.5,518.5 263.5,518.5 264.5,517.5 266.5,519.5 267.5,516.5 269.5,517.5 270.5,517.5 272.5,517.5 273.5,517.5 274.5,517.5 276.5,514.5 277.5,514.5 279.5,514.5 280.5,513.5 282.5,512.5 283.5,514.5 285.5,513.5 286.5,513.5 287.5,512.5 289.5,512.5 290.5,510.5 292.5,511.5 293.5,510.5 295.5,510.5 296.5,509.5 298.5,508.5 299.5,509.5 301.5,506.5 302.5,508.5 303.5,507.5 305.5,506.5 306.5,506.5 308.5,505.5 309.5,504.5 311.5,503.5 312.5,502.5 314.5,502.5 315.5,503.5 317.5,504.5 318.5,503.5 319.5,502.5 321.5,502.5 322.5,504.5 324.5,503.5 325.5,503.5 327.5,504.5 328.5,501.5 330.5,502.5 331.5,500.5 332.5,497.5 334.5,497.5 335.5,497.5 337.5,496.5 338.5,497.5 340.5,499.5 341.5,498.5 343.5,498.5 344.5,501.5 345.5,499.5 347.5,500.5 348.5,502.5 350.5,500.5 351.5,496.5 353.5,499.5 354.5,497.5 356.5,497.5 357.5,497.5 359.5,499.5 360.5,498.5 361.5,497.5 363.5,497.5 364.5,494.5 366.5,496.5 367.5,495.5 369.5,493.5 370.5,494.5 372.5,494.5 373.5,494.5 375.5,497.5 376.5,496.5 377.5,496.5 379.5,496.5 380.5,498.5 382.5,496.5 383.5,495.5 385.5,498.5 386.5,495.5 388.5,496.5 389.5,497.5 390.5,497.5 392.5,497.5 393.5,499.5 395.5,497.5 396.5,497.5 398.5,497.5 399.5,499.5 401.5,496.5 402.5,496.5 403.5,496.5 405.5,496.5 406.5,496.5 408.5,496.5 409.5,496.5 411.5,497.5 412.5,495.5 414.5,496.5 415.5,498.5 417.5,497.5 418.5,497.5 419.5,497.5 421.5,498.5 422.5,499.5 424.5,500.5 425.5,501.5 427.5,499.5 428.5,498.5 430.5,497.5 431.5,497.5 433.5,496.5 434.5,499.5 435.5,500.5 437.5,499.5 438.5,500.5 440.5,498.5 441.5,499.5 443.5,499.5 444.5,500.5 446.5,499.5 447.5,499.5 448.5,499.5 450.5,498.5 451.5,501.5 453.5,500.5 454.5,498.5 456.5,500.5 457.5,499.5 459.5,502.5 460.5,498.5 461.5,500.5 463.5,500.5 464.5,501.5 466.5,501.5 467.5,498.5 469.5,498.5 470.5,499.5 472.5,500.5 473.5,500.5 475.5,500.5 476.5,500.5 477.5,503.5 479.5,503.5 480.5,504.5 482.5,505.5 483.5,504.5 485.5,505.5 486.5,509.5 488.5,507.5 489.5,507.5 491.5,509.5 492.5,508.5 493.5,509.5 495.5,509.5 496.5,509.5 498.5,508.5 499.5,510.5 501.5,511.5 502.5,510.5 504.5,511.5 505.5,512.5 506.5,512.5 508.5,511.5 509.5,511.5 511.5,512.5 512.5,513.5 514.5,511.5 515.5,512.5 517.5,513.5 518.5,513.5 519.5,514.5 521.5,514.5 522.5,516.5 524.5,515.5 525.5,518.5 527.5,518.5 528.5,520.5 530.5,519.5 531.5,522.5 533.5,522.5 534.5,521.5 535.5,524.5 537.5,523.5 538.5,522.5 540.5,522.5 541.5,524.5 543.5,523.5 544.5,524.5 546.5,524.5 547.5,524.5 549.5,522.5 550.5,522.5 551.5,524.5 553.5,522.5 554.5,525.5 556.5,525.5 557.5,524.5"/>
<polyline class="ln" stroke="#c0f0ca" points="157.5,559.5 158.5,559.5 160.5,558.5 161.5,558.5 163.5,557.5 164.5,557.5 166.5,557.5 167.5,556.5 169.5,555.5 170.5,555.5 171.5,555.5 173.5,554.5 174.5,553.5 176.5,553.5 177.5,553.5 179.5,551.5 180.5,552.5 182.5,550.5 183.5,550.5 185.5,549.5 186.5,549.5 187.5,548.5 189.5,547.5 190.5,548.5 192.5,547.5 193.5,546.5 195.5,546.5 196.5,546.5 198.5,543.5 199.5,544.5 201.5,544.5 202.5,542.5 203.5,542.5 205.5,540.5 206.5,541.5 208.5,539.5 209.5,539.5 211.5,539.5 212.5,537.5 214.5,537.5 215.5,537.5 216.5,536.5 218.5,535.5 219.5,534.5 221.5,532.5 222.5,532.5 224.5,531.5 225.5,530.5 227.5,529.5 228.5,531.5 229.5,530.5 231.5,529.5 232.5,528.5 234.5,526.5 235.5,527.5 237.5,526.5 238.5,526.5 240.5,525.5 241.5,525.5 243.5,526.5 244.5,524.5 245.5,524.5 247.5,523.5 248.5,525.5 250.5,524.5 251.5,522.5 253.5,521.5 254.5,520.5 256.5,520.5 257.5,521.5 259.5,519.5 260.5,519.5 261.5,518.5 263.5,518.5 264.5,516.5 266.5,518.5 267.5,516.5 269.5,517.5 270.5,517.5 272.5,517.5 273.5,517.5 274.5,517.5 276.5,514.5 277.5,514.5 279.5,514.5 280.5,513.5 282.5,513.5 283.5,514.5 285.5,513.5 286.5,513.5 287.5,512.5 289.5,512.5 290.5,510.5 292.5,511.5 293.5,510.5 295.5,510.5 296.5,509.5 298.5,509.5 299.5,509.5 301.5,505.5 302.5,508.5 303.5,507.5 305.5,506.5 306.5,506.5 308.5,506.5 309.5,504.5 311.5,503.5 312.5,502.5 314.5,502.5 315.5,504.5 317.5,504.5 318.5,503.5 319.5,502.5 321.5,502.5 322.5,505.5 324.5,503.5 325.5,504.5 327.5,504.5 328.5,502.5 330.5,501.5 331.5,500.5 332.5,497.5 334.5,496.5 335.5,498.5 337.5,496.5 338.5,497.5 340.5,499.5 341.5,498.5 343.5,498.5 344.5,501.5 345.5,499.5 347.5,500.5 348.5,502.5 350.5,500.5 351.5,496.5 353.5,499.5 354.5,497.5 356.5,497.5 357.5,497.5 359.5,498.5 360.5,498.5 361.5,497.5 363.5,496.5 364.5,494.5 366.5,496.5 367.5,495.5 369.5,493.5 370.5,494.5 372.5,494.5 373.5,494.5 375.5,497.5 376.5,496.5 377.5,495.5 379.5,496.5 380.5,498.5 382.5,496.5 383.5,495.5 385.5,499.5 386.5,495.5 388.5,496.5 389.5,497.5 390.5,497.5 392.5,497.5 393.5,499.5 395.5,497.5 396.5,497.5 398.5,497.5 399.5,499.5 401.5,496.5 402.5,496.5 403.5,496.5 405.5,496.5 406.5,495.5 408.5,496.5 409.5,495.5 411.5,497.5 412.5,495.5 414.5,496.5 415.5,498.5 417.5,497.5 418.5,497.5 419.5,497.5 421.5,498.5 422.5,499.5 424.5,500.5 425.5,501.5 427.5,499.5 428.5,498.5 430.5,497.5 431.5,497.5 433.5,496.5 434.5,499.5 435.5,500.5 437.5,499.5 438.5,500.5 440.5,498.5 441.5,500.5 443.5,499.5 444.5,500.5 446.5,499.5 447.5,499.5 448.5,499.5 450.5,499.5 451.5,501.5 453.5,500.5 454.5,498.5 456.5,500.5 457.5,499.5 459.5,502.5 460.5,498.5 461.5,500.5 463.5,500.5 464.5,501.5 466.5,500.5 467.5,498.5 469.5,497.5 470.5,499.5 472.5,500.5 473.5,500.5 475.5,500.5 476.5,500.5 477.5,503.5 479.5,504.5 480.5,504.5 482.5,504.5 483.5,504.5 485.5,505.5 486.5,509.5 488.5,507.5 489.5,508.5 491.5,509.5 492.5,508.5 493.5,509.5 495.5,509.5 496.5,509.5 498.5,508.5 499.5,510.5 501.5,511.5 502.5,510.5 504.5,511.5 505.5,512.5 506.5,512.5 508.5,510.5 509.5,510.5 511.5,512.5 512.5,513.5 514.5,511.5 515.5,512.5 517.5,513.5 518.5,513.5 519.5,514.5 521.5,514.5 522.5,516.5 524.5,515.5 525.5,518.5 527.5,518.5 528.5,520.5 530.5,519.5 531.5,522.5 533.5,522.5 534.5,521.5 535.5,523.5 537.5,523.5 538.5,522.5 540.5,522.5 541.5,524.5 543.5,523.5 544.5,524.5 546.5,524.5 547.5,524.5 549.5,522.5 550.5,522.5 551.5,524.5 553.5,522.5 554.5,525.5 556.5,524.5 557.5,524.5"/>
<polyline class="ln" stroke="#f0e274" points="157.5,559.5 158.5,559.5 160.5,558.5 161.5,558.5 163.5,557.5 164.5,557.5 166.5,557.5 167.5,556.5 169.5,555.5 170.5,555.5 171.5,555.5 173.5,554.5 174.5,553.5 176.5,553.5 177.5,552.5 179.5,551.5 180.5,552.5 182.5,550.5 183.5,550.5 185.5,549.5 186.5,550.5 187.5,548.5 189.5,547.5 190.5,548.5 192.5,547.5 193.5,546.5 195.5,546.5 196.5,546.5 198.5,544.5 199.5,544.5 201.5,543.5 202.5,542.5 203.5,542.5 205.5,541.5 206.5,541.5 208.5,539.5 209.5,540.5 211.5,539.5 212.5,537.5 214.5,537.5 215.5,536.5 216.5,536.5 218.5,536.5 219.5,534.5 221.5,532.5 222.5,532.5 224.5,531.5 225.5,530.5 227.5,529.5 228.5,531.5 229.5,530.5 231.5,529.5 232.5,528.5 234.5,526.5 235.5,527.5 237.5,526.5 238.5,526.5 240.5,525.5 241.5,525.5 243.5,526.5 244.5,524.5 245.5,524.5 247.5,523.5 248.5,525.5 250.5,524.5 251.5,522.5 253.5,521.5 254.5,520.5 256.5,520.5 257.5,521.5 259.5,519.5 260.5,519.5 261.5,518.5 263.5,518.5 264.5,516.5 266.5,518.5 267.5,517.5 269.5,517.5 270.5,517.5 272.5,518.5 273.5,517.5 274.5,517.5 276.5,514.5 277.5,514.5 279.5,514.5 280.5,513.5 282.5,512.5 283.5,514.5 285.5,513.5 286.5,514.5 287.5,512.5 289.5,512.5 290.5,510.5 292.5,511.5 293.5,510.5 295.5,510.5 296.5,509.5 298.5,508.5 299.5,509.5 301.5,505.5 302.5,508.5 303.5,507.5 305.5,506.5 306.5,506.5 308.5,506.5 309.5,504.5 311.5,503.5 312.5,502.5 314.5,502.5 315.5,504.5 317.5,504.5 318.5,503.5 319.5,502.5 321.5,502.5 322.5,505.5 324.5,503.5 325.5,504.5 327.5,504.5 328.5,501.5 330.5,501.5 331.5,500.5 332.5,497.5 334.5,497.5 335.5,498.5 337.5,496.5 338.5,496.5 340.5,499.5 341.5,498.5 343.5,498.5 344.5,500.5 345.5,499.5 347.5,500.5 348.5,501.5 350.5,501.5 351.5,496.5 353.5,499.5 354.5,497.5 356.5,497.5 357.5,497.5 359.5,498.5 360.5,498.5 361.5,497.5 363.5,496.5 364.5,494.5 366.5,496.5 367.5,495.5 369.5,493.5 370.5,494.5 372.5,494.5 373.5,494.5 375.5,497.5 376.5,497.5 377.5,495.5 379.5,496.5 380.5,498.5 382.5,496.5 383.5,495.5 385.5,498.5 386.5,495.5 388.5,497.5 389.5,498.5 390.5,497.5 392.5,497.5 393.5,498.5 395.5,497.5 396.5,497.5 398.5,497.5 399.5,499.5 401.5,496.5 402.5,496.5 403.5,495.5 405.5,496.5 406.5,496.5 408.5,496.5 409.5,495.5 411.5,497.5 412.5,495.5 414.5,497.5 415.5,498.5 417.5,497.5 418.5,497.5 419.5,498.5 421.5,498.5 422.5,499.5 424.5,500.5 425.5,501.5 427.5,499.5 428.5,498.5 430.5,497.5 431.5,497.5 433.5,496.5 434.5,499.5 435.5,501.5 437.5,499.5 438.5,500.5 440.5,498.5 441.5,500.5 443.5,498.5 444.5,500.5 446.5,499.5 447.5,499.5 448.5,499.5 450.5,499.5 451.5,501.5 453.5,500.5 454.5,498.5 456.5,500.5 457.5,499.5 459.5,502.5 460.5,498.5 461.5,500.5 463.5,500.5 464.5,501.5 466.5,500.5 467.5,498.5 469.5,497.5 470.5,499.5 472.5,500.5 473.5,500.5 475.5,500.5 476.5,500.5 477.5,503.5 479.5,504.5 480.5,504.5 482.5,505.5 483.5,504.5 485.5,505.5 486.5,509.5 488.5,507.5 489.5,507.5 491.5,509.5 492.5,507.5 493.5,510.5 495.5,509.5 496.5,509.5 498.5,508.5 499.5,509.5 501.5,511.5 502.5,510.5 504.5,511.5 505.5,512.5 506.5,512.5 508.5,511.5 509.5,511.5 511.5,512.5 512.5,513.5 514.5,511.5 515.5,512.5 517.5,513.5 518.5,514.5 519.5,514.5 521.5,514.5 522.5,516.5 524.5,515.5 525.5,518.5 527.5,518.5 528.5,520.5 530.5,519.5 531.5,522.5 533.5,521.5 534.5,521.5 535.5,523.5 537.5,523.5 538.5,522.5 540.5,522.5 541.5,524.5 543.5,523.5 544.5,524.5 546.5,524.5 547.5,524.5 549.5,522.5 550.5,522.5 551.5,524.5 553.5,523.5 554.5,525.5 556.5,525.5 557.5,524.5"/>
<polyline class="ln" stroke="#dc7c20" points="157.5,559.5 158.5,559.5 160.5,558.5 161.5,558.5 163.5,557.5 164.5,557.5 166.5,557.5 167.5,556.5 169.5,555.5 170.5,555.5 171.5,555.5 173.5,554.5 174.5,553.5 176.5,553.5 177.5,552.5 179.5,551.5 180.5,551.5 182.5,550.5 183.5,550.5 185.5,549.5 186.5,549.5 187.5,548.5 189.5,547.5 190.5,548.5 192.5,548.5 193.5,546.5 195.5,546.5 196.5,546.5 198.5,544.5 199.5,544.5 201.5,544.5 202.5,542.5 203.5,542.5 205.5,540.5 206.5,541.5 208.5,539.5 209.5,540.5 211.5,539.5 212.5,537.5 214.5,537.5 215.5,537.5 216.5,536.5 218.5,536.5 219.5,535.5 221.5,532.5 222.5,532.5 224.5,531.5 225.5,530.5 227.5,529.5 228.5,531.5 229.5,530.5 231.5,529.5 232.5,528.5 234.5,526.5 235.5,527.5 237.5,526.5 238.5,526.5 240.5,526.5 241.5,526.5 243.5,526.5 244.5,524.5 245.5,524.5 247.5,523.5 248.5,525.5 250.5,524.5 251.5,522.5 253.5,521.5 254.5,520.5 256.5,520.5 257.5,521.5 259.5,519.5 260.5,519.5 261.5,518.5 263.5,518.5 264.5,517.5 266.5,518.5 267.5,517.5 269.5,517.5 270.5,516.5 272.5,518.5 273.5,517.5 274.5,517.5 276.5,514.5 277.5,514.5 279.5,513.5 280.5,513.5 282.5,513.5 283.5,514.5 285.5,513.5 286.5,513.5 287.5,512.5 289.5,512.5 290.5,510.5 292.5,511.5 293.5,510.5 295.5,510.5 296.5,510.5 298.5,508.5 299.5,508.5 301.5,505.5 302.5,508.5 303.5,507.5 305.5,506.5 306.5,506.5 308.5,506.5 309.5,504.5 311.5,503.5 312.5,502.5 314.5,502.5 315.5,503.5 317.5,504.5 318.5,502.5 319.5,502.5 321.5,502.5 322.5,504.5 324.5,503.5 325.5,504.5 327.5,504.5 328.5,502.5 330.5,502.5 331.5,500.5 332.5,497.5 334.5,496.5 335.5,497.5 337.5,496.5 338.5,496.5 340.5,499.5 341.5,498.5 343.5,498.5 344.5,500.5 345.5,499.5 347.5,500.5 348.5,501.5 350.5,501.5 351.5,495.5 353.5,498.5 354.5,497.5 356.5,497.5 357.5,497.5 359.5,498.5 360.5,498.5 361.5,497.5 363.5,497.5 364.5,494.5 366.5,496.5 367.5,494.5 369.5,493.5 370.5,494.5 372.5,494.5 373.5,494.5 375.5,497.5 376.5,497.5 377.5,495.5 379.5,496.5 380.5,498.5 382.5,496.5 383.5,495.5 385.5,498.5 386.5,495.5 388.5,496.5 389.5,497.5 390.5,497.5 392.5,497.5 393.5,498.5 395.5,497.5 396.5,497.5 398.5,497.5 399.5,498.5 401.5,496.5 402.5,496.5 403.5,495.5 405.5,496.5 406.5,496.5 408.5,496.5 409.5,495.5 411.5,498.5 412.5,495.5 414.5,497.5 415.5,498.5 417.5,497.5 418.5,496.5 419.5,497.5 421.5,499.5 422.5,499.5 424.5,500.5 425.5,501.5 427.5,498.5 428.5,497.5 430.5,498.5 431.5,497.5 433.5,497.5 434.5,498.5 435.5,500.5 437.5,499.5 438.5,500.5 440.5,498.5 441.5,500.5 443.5,498.5 444.5,500.5 446.5,499.5 447.5,499.5 448.5,498.5 450.5,499.5 451.5,501.5 453.5,500.5 454.5,498.5 456.5,501.5 457.5,500.5 459.5,502.5 460.5,498.5 461.5,500.5 463.5,500.5 464.5,501.5 466.5,500.5 467.5,498.5 469.5,498.5 470.5,499.5 472.5,500.5 473.5,500.5 475.5,500.5 476.5,500.5 477.5,502.5 479.5,503.5 480.5,503.5 482.5,505.5 483.5,504.5 485.5,505.5 486.5,510.5 488.5,506.5 489.5,507.5 491.5,509.5 492.5,508.5 493.5,509.5 495.5,509.5 496.5,508.5 498.5,508.5 499.5,509.5 501.5,511.5 502.5,510.5 504.5,511.5 505.5,511.5 506.5,513.5 508.5,510.5 509.5,510.5 511.5,512.5 512.5,514.5 514.5,511.5 515.5,512.5 517.5,512.5 518.5,513.5 519.5,514.5 521.5,514.5 522.5,516.5 524.5,516.5 525.5,518.5 527.5,518.5 528.5,520.5 530.5,520.5 531.5,521.5 533.5,522.5 534.5,522.5 535.5,523.5 537.5,523.5 538.5,522.5 540.5,522.5 541.5,524.5 543.5,523.5 544.5,523.5 546.5,525.5 547.5,524.5 549.5,521.5 550.5,521.5 551.5,524.5 553.5,523.5 554.5,525.5 556.5,524.5 557.5,524.5"/>
<path class="ax" d="M156.5 493 V560.5 H559"/>
<line class="ax" x1="156" y1="494.5" x2="162" y2="494.5"/>
<line class="ax" x1="156" y1="537.5" x2="162" y2="537.5"/>
<line class="ax" x1="212.5" y1="561" x2="212.5" y2="555"/>
<line class="ax" x1="299.5" y1="561" x2="299.5" y2="555"/>
<line class="ax" x1="386.5" y1="561" x2="386.5" y2="555"/>
<line class="ax" x1="474.5" y1="561" x2="474.5" y2="555"/>
<text class="tk" transform="translate(150.3,505.7) scale(1,1.05)" text-anchor="end">100</text>
<text class="tk" transform="translate(150.3,548.7) scale(1,1.05)" text-anchor="end">50</text>
<text class="tk" transform="translate(211.7,595.6) scale(1,1.05)" text-anchor="middle">2685</text>
<text class="tk" transform="translate(298.7,595.6) scale(1,1.05)" text-anchor="middle">2690</text>
<text class="tk" transform="translate(385.7,595.6) scale(1,1.05)" text-anchor="middle">2695</text>
<text class="tk" transform="translate(473.7,595.6) scale(1,1.05)" text-anchor="middle">2700</text>
<text class="ti" transform="translate(356.0,472.5) scale(1,1.05)" text-anchor="middle">Bin 5</text>
<text transform="translate(250.2,633.0) scale(1,1.05)" text-anchor="start">Wavenumber</text>
<text transform="translate(400.4,633.0) scale(1,1.05)" text-anchor="start">[cm</text>
<text class="sup" transform="translate(438.2,621.7) scale(1,1.05)" text-anchor="start">-</text>
<text class="sup" transform="translate(445.2,622.5) scale(1,1.05)" text-anchor="start">1</text>
<text transform="translate(455.8,633.0) scale(1,1.05)" text-anchor="start">]</text>
<text transform="translate(97.0,528.7) rotate(-90) scale(1,1.05)" text-anchor="middle">ADU</text>
</g>
<g id="p6">
<line class="gr" x1="687" y1="505.5" x2="1087" y2="505.5"/>
<line class="gr" x1="689" y1="524.5" x2="1087" y2="524.5"/>
<line class="gr" x1="686" y1="543.5" x2="1087" y2="543.5"/>
<line class="gr" stroke-dashoffset="1" x1="740.5" y1="560" x2="740.5" y2="494"/>
<line class="gr" stroke-dashoffset="1" x1="827.5" y1="560" x2="827.5" y2="494"/>
<line class="gr" stroke-dashoffset="1" x1="915.5" y1="560" x2="915.5" y2="494"/>
<line class="gr" stroke-dashoffset="1" x1="1002.5" y1="560" x2="1002.5" y2="494"/>
<polyline class="ln" stroke="#00008f" points="685.5,559.5 686.5,559.5 688.5,559.5 689.5,558.5 691.5,557.5 692.5,557.5 694.5,556.5 695.5,556.5 697.5,556.5 698.5,555.5 699.5,555.5 701.5,553.5 702.5,553.5 704.5,552.5 705.5,552.5 707.5,551.5 708.5,550.5 710.5,550.5 711.5,549.5 713.5,549.5 714.5,549.5 715.5,548.5 717.5,548.5 718.5,548.5 720.5,547.5 721.5,547.5 723.5,547.5 724.5,546.5 726.5,545.5 727.5,545.5 729.5,543.5 730.5,544.5 731.5,544.5 733.5,543.5 734.5,542.5 736.5,541.5 737.5,542.5 739.5,540.5 740.5,538.5 742.5,539.5 743.5,539.5 744.5,538.5 746.5,537.5 747.5,536.5 749.5,537.5 750.5,534.5 752.5,534.5 753.5,533.5 755.5,532.5 756.5,532.5 757.5,531.5 759.5,530.5 760.5,530.5 762.5,530.5 763.5,531.5 765.5,528.5 766.5,529.5 768.5,527.5 769.5,526.5 771.5,524.5 772.5,525.5 773.5,524.5 775.5,524.5 776.5,524.5 778.5,522.5 779.5,523.5 781.5,521.5 782.5,521.5 784.5,520.5 785.5,520.5 787.5,521.5 788.5,521.5 789.5,519.5 791.5,520.5 792.5,520.5 794.5,518.5 795.5,517.5 797.5,518.5 798.5,516.5 800.5,515.5 801.5,513.5 802.5,515.5 804.5,513.5 805.5,514.5 807.5,512.5 808.5,511.5 810.5,514.5 811.5,515.5 813.5,513.5 814.5,512.5 815.5,510.5 817.5,511.5 818.5,510.5 820.5,508.5 821.5,510.5 823.5,508.5 824.5,510.5 826.5,509.5 827.5,510.5 829.5,508.5 830.5,507.5 831.5,506.5 833.5,505.5 834.5,507.5 836.5,506.5 837.5,507.5 839.5,505.5 840.5,504.5 842.5,503.5 843.5,504.5 845.5,503.5 846.5,500.5 847.5,501.5 849.5,502.5 850.5,501.5 852.5,502.5 853.5,502.5 855.5,501.5 856.5,500.5 858.5,501.5 859.5,500.5 860.5,502.5 862.5,502.5 863.5,499.5 865.5,499.5 866.5,501.5 868.5,498.5 869.5,499.5 871.5,497.5 872.5,500.5 873.5,497.5 875.5,499.5 876.5,500.5 878.5,499.5 879.5,498.5 881.5,496.5 882.5,497.5 884.5,498.5 885.5,495.5 887.5,496.5 888.5,497.5 889.5,496.5 891.5,498.5 892.5,496.5 894.5,495.5 895.5,495.5 897.5,497.5 898.5,495.5 900.5,496.5 901.5,497.5 903.5,495.5 904.5,495.5 905.5,496.5 907.5,495.5 908.5,495.5 910.5,496.5 911.5,497.5 913.5,495.5 914.5,494.5 916.5,499.5 917.5,496.5 918.5,492.5 920.5,495.5 921.5,492.5 923.5,496.5 924.5,493.5 926.5,494.5 927.5,496.5 929.5,493.5 930.5,494.5 931.5,495.5 933.5,496.5 934.5,496.5 936.5,496.5 937.5,493.5 939.5,495.5 940.5,492.5 942.5,496.5 943.5,495.5 945.5,497.5 946.5,496.5 947.5,495.5 949.5,494.5 950.5,495.5 952.5,496.5 953.5,496.5 955.5,498.5 956.5,498.5 958.5,498.5 959.5,500.5 961.5,498.5 962.5,498.5 963.5,497.5 965.5,501.5 966.5,500.5 968.5,499.5 969.5,499.5 971.5,497.5 972.5,499.5 974.5,499.5 975.5,500.5 976.5,500.5 978.5,496.5 979.5,498.5 981.5,499.5 982.5,499.5 984.5,499.5 985.5,500.5 987.5,498.5 988.5,498.5 989.5,500.5 991.5,497.5 992.5,498.5 994.5,502.5 995.5,501.5 997.5,499.5 998.5,500.5 1000.5,498.5 1001.5,498.5 1003.5,499.5 1004.5,499.5 1005.5,500.5 1007.5,498.5 1008.5,501.5 1010.5,500.5 1011.5,501.5 1013.5,505.5 1014.5,504.5 1016.5,503.5 1017.5,504.5 1019.5,503.5 1020.5,504.5 1021.5,505.5 1023.5,506.5 1024.5,506.5 1026.5,508.5 1027.5,510.5 1029.5,508.5 1030.5,508.5 1032.5,508.5 1033.5,510.5 1034.5,510.5 1036.5,512.5 1037.5,511.5 1039.5,513.5 1040.5,511.5 1042.5,513.5 1043.5,515.5 1045.5,522.5 1046.5,519.5 1047.5,516.5 1049.5,512.5 1050.5,513.5 1052.5,514.5 1053.5,515.5 1055.5,515.5 1056.5,517.5 1058.5,518.5 1059.5,517.5 1061.5,518.5 1062.5,522.5 1063.5,520.5 1065.5,521.5 1066.5,523.5 1068.5,523.5 1069.5,523.5 1071.5,523.5 1072.5,525.5 1074.5,523.5 1075.5,524.5 1077.5,524.5 1078.5,525.5 1079.5,526.5 1081.5,524.5 1082.5,524.5 1084.5,525.5 1085.5,524.5"/>
<polyline class="ln" stroke="#0038ff" points="685.5,559.5 686.5,559.5 688.5,559.5 689.5,558.5 691.5,557.5 692.5,557.5 694.5,556.5 695.5,556.5 697.5,556.5 698.5,555.5 699.5,555.5 701.5,553.5 702.5,553.5 704.5,552.5 705.5,552.5 707.5,551.5 708.5,550.5 710.5,550.5 711.5,549.5 713.5,549.5 714.5,549.5 715.5,549.5 717.5,549.5 718.5,548.5 720.5,547.5 721.5,547.5 723.5,547.5 724.5,546.5 726.5,545.5 727.5,545.5 729.5,543.5 730.5,544.5 731.5,544.5 733.5,543.5 734.5,542.5 736.5,541.5 737.5,541.5 739.5,540.5 740.5,538.5 742.5,538.5 743.5,538.5 744.5,538.5 746.5,537.5 747.5,536.5 749.5,537.5 750.5,534.5 752.5,534.5 753.5,534.5 755.5,532.5 756.5,532.5 757.5,532.5 759.5,530.5 760.5,530.5 762.5,529.5 763.5,531.5 765.5,528.5 766.5,529.5 768.5,527.5 769.5,526.5 771.5,524.5 772.5,525.5 773.5,524.5 775.5,524.5 776.5,524.5 778.5,522.5 779.5,523.5 781.5,521.5 782.5,521.5 784.5,521.5 785.5,520.5 787.5,520.5 788.5,521.5 789.5,519.5 791.5,520.5 792.5,520.5 794.5,518.5 795.5,516.5 797.5,517.5 798.5,516.5 800.5,515.5 801.5,514.5 802.5,515.5 804.5,514.5 805.5,514.5 807.5,512.5 808.5,511.5 810.5,513.5 811.5,515.5 813.5,513.5 814.5,513.5 815.5,510.5 817.5,512.5 818.5,510.5 820.5,509.5 821.5,510.5 823.5,509.5 824.5,510.5 826.5,509.5 827.5,510.5 829.5,508.5 830.5,506.5 831.5,507.5 833.5,504.5 834.5,507.5 836.5,506.5 837.5,506.5 839.5,506.5 840.5,505.5 842.5,503.5 843.5,504.5 845.5,503.5 846.5,500.5 847.5,502.5 849.5,502.5 850.5,501.5 852.5,501.5 853.5,502.5 855.5,501.5 856.5,500.5 858.5,501.5 859.5,500.5 860.5,500.5 862.5,502.5 863.5,501.5 865.5,499.5 866.5,502.5 868.5,498.5 869.5,499.5 871.5,497.5 872.5,499.5 873.5,496.5 875.5,498.5 876.5,500.5 878.5,499.5 879.5,498.5 881.5,496.5 882.5,497.5 884.5,498.5 885.5,495.5 887.5,496.5 888.5,498.5 889.5,496.5 891.5,498.5 892.5,497.5 894.5,494.5 895.5,495.5 897.5,496.5 898.5,495.5 900.5,495.5 901.5,496.5 903.5,495.5 904.5,496.5 905.5,496.5 907.5,495.5 908.5,495.5 910.5,496.5 911.5,497.5 913.5,494.5 914.5,494.5 916.5,499.5 917.5,496.5 918.5,492.5 920.5,494.5 921.5,492.5 923.5,496.5 924.5,493.5 926.5,493.5 927.5,497.5 929.5,493.5 930.5,494.5 931.5,495.5 933.5,496.5 934.5,495.5 936.5,495.5 937.5,493.5 939.5,496.5 940.5,493.5 942.5,496.5 943.5,495.5 945.5,497.5 946.5,495.5 947.5,495.5 949.5,495.5 950.5,495.5 952.5,496.5 953.5,497.5 955.5,498.5 956.5,498.5 958.5,498.5 959.5,500.5 961.5,499.5 962.5,498.5 963.5,497.5 965.5,500.5 966.5,500.5 968.5,498.5 969.5,500.5 971.5,497.5 972.5,499.5 974.5,498.5 975.5,500.5 976.5,500.5 978.5,496.5 979.5,498.5 981.5,499.5 982.5,500.5 984.5,498.5 985.5,501.5 987.5,498.5 988.5,498.5 989.5,500.5 991.5,498.5 992.5,497.5 994.5,502.5 995.5,500.5 997.5,499.5 998.5,501.5 1000.5,498.5 1001.5,498.5 1003.5,499.5 1004.5,499.5 1005.5,500.5 1007.5,498.5 1008.5,501.5 1010.5,500.5 1011.5,501.5 1013.5,505.5 1014.5,504.5 1016.5,502.5 1017.5,503.5 1019.5,504.5 1020.5,503.5 1021.5,505.5 1023.5,507.5 1024.5,506.5 1026.5,509.5 1027.5,510.5 1029.5,508.5 1030.5,508.5 1032.5,508.5 1033.5,511.5 1034.5,510.5 1036.5,512.5 1037.5,511.5 1039.5,513.5 1040.5,511.5 1042.5,513.5 1043.5,515.5 1045.5,521.5 1046.5,520.5 1047.5,516.5 1049.5,512.5 1050.5,513.5 1052.5,513.5 1053.5,515.5 1055.5,515.5 1056.5,517.5 1058.5,518.5 1059.5,517.5 1061.5,518.5 1062.5,521.5 1063.5,521.5 1065.5,521.5 1066.5,523.5 1068.5,523.5 1069.5,523.5 1071.5,523.5 1072.5,525.5 1074.5,524.5 1075.5,524.5 1077.5,524.5 1078.5,525.5 1079.5,526.5 1081.5,525.5 1082.5,524.5 1084.5,525.5 1085.5,524.5"/>
<polyline class="ln" stroke="#74d4ff" points="685.5,559.5 686.5,559.5 688.5,559.5 689.5,558.5 691.5,557.5 692.5,557.5 694.5,556.5 695.5,556.5 697.5,556.5 698.5,555.5 699.5,555.5 701.5,553.5 702.5,554.5 704.5,552.5 705.5,552.5 707.5,551.5 708.5,550.5 710.5,550.5 711.5,549.5 713.5,549.5 714.5,549.5 715.5,549.5 717.5,549.5 718.5,548.5 720.5,547.5 721.5,547.5 723.5,547.5 724.5,546.5 726.5,545.5 727.5,545.5 729.5,543.5 730.5,544.5 731.5,544.5 733.5,542.5 734.5,542.5 736.5,541.5 737.5,541.5 739.5,540.5 740.5,538.5 742.5,539.5 743.5,539.5 744.5,538.5 746.5,537.5 747.5,536.5 749.5,537.5 750.5,534.5 752.5,534.5 753.5,533.5 755.5,532.5 756.5,532.5 757.5,531.5 759.5,530.5 760.5,530.5 762.5,530.5 763.5,531.5 765.5,528.5 766.5,529.5 768.5,527.5 769.5,526.5 771.5,525.5 772.5,525.5 773.5,524.5 775.5,524.5 776.5,524.5 778.5,522.5 779.5,523.5 781.5,521.5 782.5,521.5 784.5,521.5 785.5,520.5 787.5,521.5 788.5,521.5 789.5,519.5 791.5,520.5 792.5,520.5 794.5,518.5 795.5,517.5 797.5,517.5 798.5,516.5 800.5,515.5 801.5,514.5 802.5,515.5 804.5,514.5 805.5,514.5 807.5,512.5 808.5,512.5 810.5,514.5 811.5,514.5 813.5,513.5 814.5,512.5 815.5,510.5 817.5,511.5 818.5,510.5 820.5,508.5 821.5,510.5 823.5,508.5 824.5,510.5 826.5,509.5 827.5,510.5 829.5,508.5 830.5,507.5 831.5,507.5 833.5,505.5 834.5,507.5 836.5,506.5 837.5,506.5 839.5,505.5 840.5,504.5 842.5,503.5 843.5,504.5 845.5,503.5 846.5,500.5 847.5,502.5 849.5,502.5 850.5,501.5 852.5,501.5 853.5,502.5 855.5,501.5 856.5,500.5 858.5,501.5 859.5,500.5 860.5,501.5 862.5,502.5 863.5,500.5 865.5,498.5 866.5,502.5 868.5,498.5 869.5,499.5 871.5,497.5 872.5,500.5 873.5,496.5 875.5,498.5 876.5,500.5 878.5,499.5 879.5,498.5 881.5,496.5 882.5,497.5 884.5,498.5 885.5,495.5 887.5,495.5 888.5,498.5 889.5,496.5 891.5,498.5 892.5,496.5 894.5,495.5 895.5,496.5 897.5,497.5 898.5,495.5 900.5,495.5 901.5,497.5 903.5,495.5 904.5,495.5 905.5,496.5 907.5,495.5 908.5,495.5 910.5,496.5 911.5,497.5 913.5,494.5 914.5,495.5 916.5,499.5 917.5,496.5 918.5,492.5 920.5,494.5 921.5,492.5 923.5,496.5 924.5,493.5 926.5,494.5 927.5,497.5 929.5,494.5 930.5,494.5 931.5,495.5 933.5,496.5 934.5,496.5 936.5,496.5 937.5,493.5 939.5,496.5 940.5,493.5 942.5,495.5 943.5,496.5 945.5,497.5 946.5,496.5 947.5,495.5 949.5,495.5 950.5,495.5 952.5,496.5 953.5,497.5 955.5,498.5 956.5,498.5 958.5,498.5 959.5,500.5 961.5,498.5 962.5,498.5 963.5,497.5 965.5,501.5 966.5,500.5 968.5,499.5 969.5,499.5 971.5,497.5 972.5,499.5 974.5,499.5 975.5,500.5 976.5,500.5 978.5,497.5 979.5,498.5 981.5,499.5 982.5,500.5 984.5,498.5 985.5,500.5 987.5,498.5 988.5,498.5 989.5,500.5 991.5,497.5 992.5,497.5 994.5,502.5 995.5,501.5 997.5,499.5 998.5,500.5 1000.5,498.5 1001.5,498.5 1003.5,499.5 1004.5,499.5 1005.5,500.5 1007.5,498.5 1008.5,501.5 1010.5,500.5 1011.5,501.5 1013.5,505.5 1014.5,504.5 1016.5,502.5 1017.5,504.5 1019.5,503.5 1020.5,503.5 1021.5,505.5 1023.5,506.5 1024.5,507.5 1026.5,508.5 1027.5,510.5 1029.5,508.5 1030.5,508.5 1032.5,508.5 1033.5,511.5 1034.5,510.5 1036.5,512.5 1037.5,511.5 1039.5,513.5 1040.5,511.5 1042.5,513.5 1043.5,515.5 1045.5,521.5 1046.5,520.5 1047.5,516.5 1049.5,512.5 1050.5,513.5 1052.5,514.5 1053.5,515.5 1055.5,515.5 1056.5,517.5 1058.5,518.5 1059.5,518.5 1061.5,518.5 1062.5,522.5 1063.5,521.5 1065.5,521.5 1066.5,523.5 1068.5,523.5 1069.5,523.5 1071.5,523.5 1072.5,525.5 1074.5,524.5 1075.5,524.5 1077.5,524.5 1078.5,525.5 1079.5,526.5 1081.5,525.5 1082.5,524.5 1084.5,525.5 1085.5,524.5"/>
<polyline class="ln" stroke="#c0f0ca" points="685.5,559.5 686.5,559.5 688.5,559.5 689.5,558.5 691.5,557.5 692.5,557.5 694.5,556.5 695.5,556.5 697.5,556.5 698.5,555.5 699.5,555.5 701.5,553.5 702.5,554.5 704.5,552.5 705.5,551.5 707.5,551.5 708.5,550.5 710.5,550.5 711.5,549.5 713.5,549.5 714.5,549.5 715.5,548.5 717.5,549.5 718.5,548.5 720.5,546.5 721.5,547.5 723.5,547.5 724.5,546.5 726.5,545.5 727.5,545.5 729.5,543.5 730.5,544.5 731.5,544.5 733.5,542.5 734.5,542.5 736.5,541.5 737.5,541.5 739.5,540.5 740.5,538.5 742.5,538.5 743.5,538.5 744.5,538.5 746.5,537.5 747.5,536.5 749.5,537.5 750.5,534.5 752.5,534.5 753.5,533.5 755.5,532.5 756.5,532.5 757.5,531.5 759.5,530.5 760.5,530.5 762.5,530.5 763.5,531.5 765.5,527.5 766.5,529.5 768.5,527.5 769.5,526.5 771.5,524.5 772.5,525.5 773.5,524.5 775.5,524.5 776.5,524.5 778.5,522.5 779.5,523.5 781.5,521.5 782.5,521.5 784.5,521.5 785.5,520.5 787.5,520.5 788.5,521.5 789.5,519.5 791.5,520.5 792.5,520.5 794.5,518.5 795.5,517.5 797.5,517.5 798.5,516.5 800.5,515.5 801.5,514.5 802.5,515.5 804.5,513.5 805.5,514.5 807.5,512.5 808.5,512.5 810.5,514.5 811.5,514.5 813.5,513.5 814.5,512.5 815.5,510.5 817.5,511.5 818.5,510.5 820.5,508.5 821.5,510.5 823.5,508.5 824.5,510.5 826.5,509.5 827.5,510.5 829.5,508.5 830.5,507.5 831.5,507.5 833.5,505.5 834.5,507.5 836.5,505.5 837.5,506.5 839.5,506.5 840.5,504.5 842.5,503.5 843.5,504.5 845.5,503.5 846.5,500.5 847.5,502.5 849.5,502.5 850.5,501.5 852.5,501.5 853.5,502.5 855.5,501.5 856.5,500.5 858.5,501.5 859.5,500.5 860.5,501.5 862.5,502.5 863.5,500.5 865.5,498.5 866.5,502.5 868.5,498.5 869.5,499.5 871.5,497.5 872.5,500.5 873.5,496.5 875.5,498.5 876.5,500.5 878.5,499.5 879.5,498.5 881.5,496.5 882.5,497.5 884.5,498.5 885.5,495.5 887.5,496.5 888.5,498.5 889.5,496.5 891.5,498.5 892.5,496.5 894.5,495.5 895.5,496.5 897.5,497.5 898.5,495.5 900.5,496.5 901.5,497.5 903.5,495.5 904.5,495.5 905.5,496.5 907.5,495.5 908.5,494.5 910.5,496.5 911.5,497.5 913.5,495.5 914.5,495.5 916.5,499.5 917.5,496.5 918.5,492.5 920.5,494.5 921.5,492.5 923.5,496.5 924.5,493.5 926.5,494.5 927.5,497.5 929.5,494.5 930.5,494.5 931.5,495.5 933.5,496.5 934.5,496.5 936.5,496.5 937.5,493.5 939.5,495.5 940.5,493.5 942.5,495.5 943.5,495.5 945.5,497.5 946.5,495.5 947.5,495.5 949.5,495.5 950.5,494.5 952.5,496.5 953.5,496.5 955.5,498.5 956.5,498.5 958.5,498.5 959.5,500.5 961.5,498.5 962.5,498.5 963.5,497.5 965.5,500.5 966.5,500.5 968.5,499.5 969.5,499.5 971.5,497.5 972.5,499.5 974.5,499.5 975.5,500.5 976.5,500.5 978.5,496.5 979.5,498.5 981.5,499.5 982.5,500.5 984.5,498.5 985.5,500.5 987.5,498.5 988.5,498.5 989.5,500.5 991.5,497.5 992.5,497.5 994.5,502.5 995.5,501.5 997.5,499.5 998.5,500.5 1000.5,498.5 1001.5,498.5 1003.5,499.5 1004.5,499.5 1005.5,500.5 1007.5,498.5 1008.5,501.5 1010.5,499.5 1011.5,501.5 1013.5,505.5 1014.5,504.5 1016.5,503.5 1017.5,504.5 1019.5,503.5 1020.5,503.5 1021.5,505.5 1023.5,506.5 1024.5,507.5 1026.5,508.5 1027.5,510.5 1029.5,508.5 1030.5,508.5 1032.5,508.5 1033.5,511.5 1034.5,510.5 1036.5,512.5 1037.5,511.5 1039.5,513.5 1040.5,511.5 1042.5,513.5 1043.5,515.5 1045.5,521.5 1046.5,519.5 1047.5,516.5 1049.5,512.5 1050.5,513.5 1052.5,514.5 1053.5,515.5 1055.5,515.5 1056.5,517.5 1058.5,518.5 1059.5,518.5 1061.5,517.5 1062.5,522.5 1063.5,521.5 1065.5,521.5 1066.5,522.5 1068.5,522.5 1069.5,523.5 1071.5,523.5 1072.5,525.5 1074.5,524.5 1075.5,524.5 1077.5,524.5 1078.5,525.5 1079.5,526.5 1081.5,525.5 1082.5,524.5 1084.5,525.5 1085.5,524.5"/>
<polyline class="ln" stroke="#f0e274" points="685.5,559.5 686.5,559.5 688.5,559.5 689.5,558.5 691.5,557.5 692.5,557.5 694.5,556.5 695.5,556.5 697.5,556.5 698.5,555.5 699.5,555.5 701.5,553.5 702.5,553.5 704.5,552.5 705.5,552.5 707.5,551.5 708.5,550.5 710.5,550.5 711.5,549.5 713.5,549.5 714.5,549.5 715.5,548.5 717.5,549.5 718.5,548.5 720.5,547.5 721.5,547.5 723.5,547.5 724.5,546.5 726.5,545.5 727.5,545.5 729.5,543.5 730.5,544.5 731.5,544.5 733.5,542.5 734.5,542.5 736.5,541.5 737.5,541.5 739.5,540.5 740.5,538.5 742.5,538.5 743.5,539.5 744.5,538.5 746.5,537.5 747.5,536.5 749.5,537.5 750.5,534.5 752.5,534.5 753.5,533.5 755.5,532.5 756.5,532.5 757.5,531.5 759.5,530.5 760.5,530.5 762.5,530.5 763.5,531.5 765.5,527.5 766.5,529.5 768.5,527.5 769.5,526.5 771.5,524.5 772.5,525.5 773.5,524.5 775.5,524.5 776.5,524.5 778.5,522.5 779.5,523.5 781.5,521.5 782.5,521.5 784.5,521.5 785.5,520.5 787.5,520.5 788.5,521.5 789.5,520.5 791.5,520.5 792.5,520.5 794.5,518.5 795.5,517.5 797.5,517.5 798.5,516.5 800.5,515.5 801.5,514.5 802.5,515.5 804.5,514.5 805.5,514.5 807.5,512.5 808.5,512.5 810.5,514.5 811.5,514.5 813.5,513.5 814.5,512.5 815.5,510.5 817.5,511.5 818.5,510.5 820.5,508.5 821.5,510.5 823.5,508.5 824.5,510.5 826.5,508.5 827.5,510.5 829.5,508.5 830.5,507.5 831.5,507.5 833.5,505.5 834.5,507.5 836.5,506.5 837.5,506.5 839.5,506.5 840.5,504.5 842.5,503.5 843.5,504.5 845.5,503.5 846.5,500.5 847.5,502.5 849.5,502.5 850.5,501.5 852.5,501.5 853.5,502.5 855.5,501.5 856.5,500.5 858.5,501.5 859.5,500.5 860.5,501.5 862.5,502.5 863.5,500.5 865.5,498.5 866.5,502.5 868.5,498.5 869.5,499.5 871.5,497.5 872.5,500.5 873.5,496.5 875.5,498.5 876.5,500.5 878.5,499.5 879.5,498.5 881.5,496.5 882.5,497.5 884.5,498.5 885.5,495.5 887.5,496.5 888.5,498.5 889.5,496.5 891.5,498.5 892.5,497.5 894.5,495.5 895.5,495.5 897.5,497.5 898.5,495.5 900.5,495.5 901.5,497.5 903.5,495.5 904.5,495.5 905.5,496.5 907.5,495.5 908.5,494.5 910.5,496.5 911.5,497.5 913.5,495.5 914.5,495.5 916.5,499.5 917.5,496.5 918.5,492.5 920.5,494.5 921.5,492.5 923.5,496.5 924.5,493.5 926.5,494.5 927.5,497.5 929.5,494.5 930.5,494.5 931.5,495.5 933.5,496.5 934.5,496.5 936.5,496.5 937.5,493.5 939.5,495.5 940.5,493.5 942.5,495.5 943.5,496.5 945.5,497.5 946.5,495.5 947.5,495.5 949.5,495.5 950.5,495.5 952.5,496.5 953.5,496.5 955.5,498.5 956.5,498.5 958.5,498.5 959.5,500.5 961.5,498.5 962.5,498.5 963.5,497.5 965.5,500.5 966.5,500.5 968.5,499.5 969.5,499.5 971.5,497.5 972.5,499.5 974.5,499.5 975.5,500.5 976.5,500.5 978.5,497.5 979.5,498.5 981.5,499.5 982.5,500.5 984.5,498.5 985.5,500.5 987.5,499.5 988.5,498.5 989.5,500.5 991.5,497.5 992.5,498.5 994.5,502.5 995.5,500.5 997.5,499.5 998.5,500.5 1000.5,498.5 1001.5,498.5 1003.5,499.5 1004.5,499.5 1005.5,500.5 1007.5,498.5 1008.5,501.5 1010.5,500.5 1011.5,501.5 1013.5,505.5 1014.5,504.5 1016.5,503.5 1017.5,504.5 1019.5,503.5 1020.5,504.5 1021.5,504.5 1023.5,507.5 1024.5,507.5 1026.5,508.5 1027.5,510.5 1029.5,508.5 1030.5,508.5 1032.5,508.5 1033.5,511.5 1034.5,510.5 1036.5,512.5 1037.5,510.5 1039.5,513.5 1040.5,511.5 1042.5,513.5 1043.5,515.5 1045.5,521.5 1046.5,520.5 1047.5,516.5 1049.5,512.5 1050.5,513.5 1052.5,513.5 1053.5,515.5 1055.5,516.5 1056.5,517.5 1058.5,518.5 1059.5,518.5 1061.5,518.5 1062.5,522.5 1063.5,521.5 1065.5,521.5 1066.5,523.5 1068.5,523.5 1069.5,523.5 1071.5,523.5 1072.5,525.5 1074.5,524.5 1075.5,524.5 1077.5,524.5 1078.5,525.5 1079.5,526.5 1081.5,525.5 1082.5,524.5 1084.5,525.5 1085.5,525.5"/>
<polyline class="ln" stroke="#dc7c20" points="685.5,559.5 686.5,559.5 688.5,559.5 689.5,558.5 691.5,557.5 692.5,557.5 694.5,556.5 695.5,556.5 697.5,556.5 698.5,555.5 699.5,555.5 701.5,553.5 702.5,553.5 704.5,552.5 705.5,551.5 707.5,551.5 708.5,551.5 710.5,550.5 711.5,549.5 713.5,549.5 714.5,549.5 715.5,549.5 717.5,548.5 718.5,548.5 720.5,546.5 721.5,547.5 723.5,547.5 724.5,546.5 726.5,545.5 727.5,545.5 729.5,543.5 730.5,544.5 731.5,544.5 733.5,542.5 734.5,542.5 736.5,541.5 737.5,541.5 739.5,540.5 740.5,539.5 742.5,539.5 743.5,538.5 744.5,538.5 746.5,536.5 747.5,536.5 749.5,537.5 750.5,535.5 752.5,534.5 753.5,534.5 755.5,532.5 756.5,532.5 757.5,531.5 759.5,531.5 760.5,530.5 762.5,530.5 763.5,531.5 765.5,528.5 766.5,529.5 768.5,527.5 769.5,526.5 771.5,524.5 772.5,525.5 773.5,524.5 775.5,524.5 776.5,524.5 778.5,522.5 779.5,523.5 781.5,521.5 782.5,521.5 784.5,520.5 785.5,520.5 787.5,521.5 788.5,520.5 789.5,520.5 791.5,520.5 792.5,520.5 794.5,518.5 795.5,516.5 797.5,517.5 798.5,516.5 800.5,515.5 801.5,514.5 802.5,515.5 804.5,514.5 805.5,514.5 807.5,512.5 808.5,512.5 810.5,513.5 811.5,514.5 813.5,513.5 814.5,512.5 815.5,510.5 817.5,511.5 818.5,510.5 820.5,508.5 821.5,510.5 823.5,508.5 824.5,510.5 826.5,508.5 827.5,510.5 829.5,508.5 830.5,507.5 831.5,507.5 833.5,505.5 834.5,507.5 836.5,505.5 837.5,507.5 839.5,505.5 840.5,504.5 842.5,503.5 843.5,504.5 845.5,504.5 846.5,500.5 847.5,501.5 849.5,502.5 850.5,501.5 852.5,501.5 853.5,501.5 855.5,501.5 856.5,500.5 858.5,500.5 859.5,500.5 860.5,500.5 862.5,502.5 863.5,500.5 865.5,498.5 866.5,501.5 868.5,499.5 869.5,499.5 871.5,497.5 872.5,500.5 873.5,496.5 875.5,498.5 876.5,500.5 878.5,499.5 879.5,498.5 881.5,496.5 882.5,497.5 884.5,498.5 885.5,495.5 887.5,496.5 888.5,498.5 889.5,497.5 891.5,498.5 892.5,497.5 894.5,494.5 895.5,496.5 897.5,496.5 898.5,495.5 900.5,496.5 901.5,496.5 903.5,494.5 904.5,495.5 905.5,496.5 907.5,495.5 908.5,495.5 910.5,496.5 911.5,497.5 913.5,494.5 914.5,494.5 916.5,498.5 917.5,497.5 918.5,492.5 920.5,494.5 921.5,493.5 923.5,496.5 924.5,493.5 926.5,494.5 927.5,497.5 929.5,493.5 930.5,495.5 931.5,495.5 933.5,496.5 934.5,496.5 936.5,495.5 937.5,492.5 939.5,495.5 940.5,493.5 942.5,496.5 943.5,496.5 945.5,498.5 946.5,495.5 947.5,495.5 949.5,495.5 950.5,495.5 952.5,495.5 953.5,496.5 955.5,499.5 956.5,498.5 958.5,498.5 959.5,500.5 961.5,498.5 962.5,498.5 963.5,497.5 965.5,500.5 966.5,500.5 968.5,499.5 969.5,498.5 971.5,497.5 972.5,499.5 974.5,498.5 975.5,500.5 976.5,500.5 978.5,497.5 979.5,498.5 981.5,499.5 982.5,500.5 984.5,498.5 985.5,500.5 987.5,498.5 988.5,498.5 989.5,500.5 991.5,497.5 992.5,498.5 994.5,502.5 995.5,501.5 997.5,499.5 998.5,501.5 1000.5,499.5 1001.5,498.5 1003.5,499.5 1004.5,499.5 1005.5,499.5 1007.5,498.5 1008.5,501.5 1010.5,500.5 1011.5,501.5 1013.5,505.5 1014.5,504.5 1016.5,503.5 1017.5,503.5 1019.5,503.5 1020.5,504.5 1021.5,505.5 1023.5,506.5 1024.5,506.5 1026.5,508.5 1027.5,510.5 1029.5,508.5 1030.5,508.5 1032.5,508.5 1033.5,510.5 1034.5,510.5 1036.5,512.5 1037.5,511.5 1039.5,513.5 1040.5,511.5 1042.5,513.5 1043.5,515.5 1045.5,521.5 1046.5,519.5 1047.5,516.5 1049.5,512.5 1050.5,513.5 1052.5,513.5 1053.5,515.5 1055.5,515.5 1056.5,517.5 1058.5,518.5 1059.5,518.5 1061.5,517.5 1062.5,522.5 1063.5,521.5 1065.5,521.5 1066.5,523.5 1068.5,523.5 1069.5,523.5 1071.5,523.5 1072.5,525.5 1074.5,523.5 1075.5,524.5 1077.5,524.5 1078.5,525.5 1079.5,526.5 1081.5,524.5 1082.5,524.5 1084.5,525.5 1085.5,524.5"/>
<path class="ax" d="M684.5 493 V560.5 H1087"/>
<line class="ax" x1="684" y1="505.5" x2="690" y2="505.5"/>
<line class="ax" x1="684" y1="524.5" x2="690" y2="524.5"/>
<line class="ax" x1="684" y1="543.5" x2="690" y2="543.5"/>
<line class="ax" x1="740.5" y1="561" x2="740.5" y2="555"/>
<line class="ax" x1="827.5" y1="561" x2="827.5" y2="555"/>
<line class="ax" x1="915.5" y1="561" x2="915.5" y2="555"/>
<line class="ax" x1="1002.5" y1="561" x2="1002.5" y2="555"/>
<text class="tk" transform="translate(677.1,516.7) scale(1,1.05)" text-anchor="end">80</text>
<text class="tk" transform="translate(677.1,535.7) scale(1,1.05)" text-anchor="end">60</text>
<text class="tk" transform="translate(677.1,554.7) scale(1,1.05)" text-anchor="end">40</text>
<text class="tk" transform="translate(739.7,595.6) scale(1,1.05)" text-anchor="middle">2685</text>
<text class="tk" transform="translate(826.7,595.6) scale(1,1.05)" text-anchor="middle">2690</text>
<text class="tk" transform="translate(913.7,595.6) scale(1,1.05)" text-anchor="middle">2695</text>
<text class="tk" transform="translate(1001.7,595.6) scale(1,1.05)" text-anchor="middle">2700</text>
<text class="ti" transform="translate(884.0,472.5) scale(1,1.05)" text-anchor="middle">Bin 6</text>
<text transform="translate(778.2,633.0) scale(1,1.05)" text-anchor="start">Wavenumber</text>
<text transform="translate(928.4,633.0) scale(1,1.05)" text-anchor="start">[cm</text>
<text class="sup" transform="translate(966.2,621.7) scale(1,1.05)" text-anchor="start">-</text>
<text class="sup" transform="translate(973.2,622.5) scale(1,1.05)" text-anchor="start">1</text>
<text transform="translate(983.8,633.0) scale(1,1.05)" text-anchor="start">]</text>
<text transform="translate(637.1,528.7) rotate(-90) scale(1,1.05)" text-anchor="middle">ADU</text>
</g>
<g id="p7">
<line class="gr" x1="162" y1="692.5" x2="559" y2="692.5"/>
<line class="gr" x1="159" y1="713.5" x2="559" y2="713.5"/>
<line class="gr" x1="161" y1="735.5" x2="559" y2="735.5"/>
<line class="gr" x1="158" y1="756.5" x2="559" y2="756.5"/>
<line class="gr" stroke-dashoffset="1" x1="212.5" y1="757" x2="212.5" y2="691"/>
<line class="gr" stroke-dashoffset="1" x1="299.5" y1="757" x2="299.5" y2="691"/>
<line class="gr" stroke-dashoffset="1" x1="386.5" y1="757" x2="386.5" y2="691"/>
<line class="gr" stroke-dashoffset="1" x1="474.5" y1="757" x2="474.5" y2="691"/>
<polyline class="ln" stroke="#00008f" points="157.5,756.5 158.5,756.5 160.5,755.5 161.5,755.5 163.5,754.5 164.5,753.5 166.5,753.5 167.5,752.5 169.5,752.5 170.5,751.5 171.5,751.5 173.5,751.5 174.5,751.5 176.5,750.5 177.5,750.5 179.5,749.5 180.5,749.5 182.5,748.5 183.5,747.5 185.5,747.5 186.5,747.5 187.5,747.5 189.5,746.5 190.5,746.5 192.5,745.5 193.5,744.5 195.5,741.5 196.5,740.5 198.5,740.5 199.5,740.5 201.5,738.5 202.5,738.5 203.5,740.5 205.5,738.5 206.5,738.5 208.5,736.5 209.5,736.5 211.5,736.5 212.5,735.5 214.5,735.5 215.5,735.5 216.5,734.5 218.5,734.5 219.5,732.5 221.5,732.5 222.5,732.5 224.5,731.5 225.5,730.5 227.5,730.5 228.5,729.5 229.5,729.5 231.5,729.5 232.5,729.5 234.5,727.5 235.5,726.5 237.5,727.5 238.5,726.5 240.5,724.5 241.5,724.5 243.5,724.5 244.5,722.5 245.5,721.5 247.5,720.5 248.5,720.5 250.5,717.5 251.5,718.5 253.5,715.5 254.5,715.5 256.5,715.5 257.5,715.5 259.5,713.5 260.5,714.5 261.5,714.5 263.5,712.5 264.5,712.5 266.5,711.5 267.5,710.5 269.5,713.5 270.5,712.5 272.5,710.5 273.5,711.5 274.5,711.5 276.5,709.5 277.5,709.5 279.5,710.5 280.5,708.5 282.5,707.5 283.5,710.5 285.5,707.5 286.5,707.5 287.5,708.5 289.5,704.5 290.5,704.5 292.5,706.5 293.5,705.5 295.5,705.5 296.5,704.5 298.5,704.5 299.5,704.5 301.5,704.5 302.5,704.5 303.5,704.5 305.5,703.5 306.5,704.5 308.5,701.5 309.5,702.5 311.5,700.5 312.5,703.5 314.5,701.5 315.5,701.5 317.5,700.5 318.5,698.5 319.5,697.5 321.5,699.5 322.5,699.5 324.5,698.5 325.5,701.5 327.5,697.5 328.5,698.5 330.5,697.5 331.5,698.5 332.5,695.5 334.5,698.5 335.5,697.5 337.5,696.5 338.5,697.5 340.5,696.5 341.5,694.5 343.5,694.5 344.5,694.5 345.5,694.5 347.5,695.5 348.5,696.5 350.5,693.5 351.5,693.5 353.5,694.5 354.5,694.5 356.5,693.5 357.5,692.5 359.5,692.5 360.5,692.5 361.5,691.5 363.5,694.5 364.5,690.5 366.5,692.5 367.5,691.5 369.5,691.5 370.5,692.5 372.5,690.5 373.5,691.5 375.5,692.5 376.5,695.5 377.5,691.5 379.5,693.5 380.5,693.5 382.5,691.5 383.5,692.5 385.5,690.5 386.5,691.5 388.5,692.5 389.5,695.5 390.5,691.5 392.5,692.5 393.5,692.5 395.5,691.5 396.5,690.5 398.5,693.5 399.5,691.5 401.5,693.5 402.5,692.5 403.5,693.5 405.5,693.5 406.5,690.5 408.5,691.5 409.5,692.5 411.5,693.5 412.5,690.5 414.5,693.5 415.5,695.5 417.5,693.5 418.5,694.5 419.5,692.5 421.5,694.5 422.5,695.5 424.5,697.5 425.5,694.5 427.5,697.5 428.5,695.5 430.5,696.5 431.5,696.5 433.5,694.5 434.5,695.5 435.5,695.5 437.5,695.5 438.5,695.5 440.5,696.5 441.5,697.5 443.5,698.5 444.5,694.5 446.5,695.5 447.5,696.5 448.5,693.5 450.5,696.5 451.5,698.5 453.5,695.5 454.5,694.5 456.5,696.5 457.5,698.5 459.5,699.5 460.5,697.5 461.5,697.5 463.5,696.5 464.5,698.5 466.5,697.5 467.5,698.5 469.5,700.5 470.5,699.5 472.5,698.5 473.5,700.5 475.5,701.5 476.5,701.5 477.5,699.5 479.5,701.5 480.5,701.5 482.5,701.5 483.5,701.5 485.5,702.5 486.5,702.5 488.5,705.5 489.5,704.5 491.5,703.5 492.5,704.5 493.5,706.5 495.5,705.5 496.5,706.5 498.5,706.5 499.5,706.5 501.5,708.5 502.5,707.5 504.5,708.5 505.5,709.5 506.5,707.5 508.5,708.5 509.5,709.5 511.5,712.5 512.5,710.5 514.5,711.5 515.5,713.5 517.5,711.5 518.5,713.5 519.5,711.5 521.5,713.5 522.5,713.5 524.5,714.5 525.5,715.5 527.5,716.5 528.5,715.5 530.5,716.5 531.5,717.5 533.5,719.5 534.5,719.5 535.5,719.5 537.5,720.5 538.5,722.5 540.5,721.5 541.5,721.5 543.5,720.5 544.5,721.5 546.5,719.5 547.5,720.5 549.5,722.5 550.5,721.5 551.5,723.5 553.5,724.5 554.5,724.5 556.5,724.5 557.5,724.5"/>
<polyline class="ln" stroke="#0038ff" points="157.5,756.5 158.5,756.5 160.5,755.5 161.5,755.5 163.5,754.5 164.5,753.5 166.5,753.5 167.5,752.5 169.5,752.5 170.5,751.5 171.5,751.5 173.5,751.5 174.5,751.5 176.5,750.5 177.5,750.5 179.5,749.5 180.5,749.5 182.5,748.5 183.5,747.5 185.5,747.5 186.5,747.5 187.5,747.5 189.5,746.5 190.5,746.5 192.5,745.5 193.5,744.5 195.5,741.5 196.5,740.5 198.5,740.5 199.5,740.5 201.5,738.5 202.5,738.5 203.5,740.5 205.5,738.5 206.5,738.5 208.5,736.5 209.5,736.5 211.5,736.5 212.5,735.5 214.5,735.5 215.5,735.5 216.5,734.5 218.5,734.5 219.5,732.5 221.5,732.5 222.5,732.5 224.5,731.5 225.5,730.5 227.5,730.5 228.5,729.5 229.5,729.5 231.5,729.5 232.5,729.5 234.5,727.5 235.5,726.5 237.5,727.5 238.5,726.5 240.5,724.5 241.5,724.5 243.5,724.5 244.5,722.5 245.5,721.5 247.5,720.5 248.5,720.5 250.5,717.5 251.5,718.5 253.5,715.5 254.5,715.5 256.5,715.5 257.5,715.5 259.5,713.5 260.5,714.5 261.5,714.5 263.5,712.5 264.5,712.5 266.5,711.5 267.5,710.5 269.5,713.5 270.5,712.5 272.5,710.5 273.5,711.5 274.5,711.5 276.5,709.5 277.5,709.5 279.5,710.5 280.5,708.5 282.5,707.5 283.5,710.5 285.5,707.5 286.5,707.5 287.5,708.5 289.5,704.5 290.5,704.5 292.5,706.5 293.5,705.5 295.5,705.5 296.5,704.5 298.5,704.5 299.5,704.5 301.5,704.5 302.5,704.5 303.5,704.5 305.5,703.5 306.5,704.5 308.5,701.5 309.5,702.5 311.5,700.5 312.5,703.5 314.5,701.5 315.5,701.5 317.5,700.5 318.5,698.5 319.5,697.5 321.5,699.5 322.5,699.5 324.5,698.5 325.5,701.5 327.5,697.5 328.5,698.5 330.5,697.5 331.5,698.5 332.5,695.5 334.5,698.5 335.5,697.5 337.5,696.5 338.5,697.5 340.5,696.5 341.5,694.5 343.5,694.5 344.5,694.5 345.5,694.5 347.5,695.5 348.5,696.5 350.5,693.5 351.5,693.5 353.5,694.5 354.5,694.5 356.5,693.5 357.5,692.5 359.5,692.5 360.5,692.5 361.5,691.5 363.5,694.5 364.5,690.5 366.5,692.5 367.5,691.5 369.5,691.5 370.5,692.5 372.5,690.5 373.5,691.5 375.5,692.5 376.5,695.5 377.5,691.5 379.5,693.5 380.5,693.5 382.5,691.5 383.5,692.5 385.5,690.5 386.5,691.5 388.5,692.5 389.5,695.5 390.5,691.5 392.5,692.5 393.5,692.5 395.5,691.5 396.5,690.5 398.5,693.5 399.5,691.5 401.5,693.5 402.5,692.5 403.5,693.5 405.5,693.5 406.5,690.5 408.5,691.5 409.5,692.5 411.5,693.5 412.5,690.5 414.5,693.5 415.5,695.5 417.5,693.5 418.5,694.5 419.5,692.5 421.5,694.5 422.5,695.5 424.5,697.5 425.5,694.5 427.5,697.5 428.5,695.5 430.5,696.5 431.5,696.5 433.5,694.5 434.5,695.5 435.5,695.5 437.5,695.5 438.5,695.5 440.5,696.5 441.5,697.5 443.5,698.5 444.5,694.5 446.5,695.5 447.5,696.5 448.5,693.5 450.5,696.5 451.5,698.5 453.5,695.5 454.5,694.5 456.5,696.5 457.5,698.5 459.5,699.5 460.5,697.5 461.5,697.5 463.5,696.5 464.5,698.5 466.5,697.5 467.5,698.5 469.5,700.5 470.5,699.5 472.5,698.5 473.5,700.5 475.5,701.5 476.5,701.5 477.5,699.5 479.5,701.5 480.5,701.5 482.5,701.5 483.5,701.5 485.5,702.5 486.5,702.5 488.5,705.5 489.5,704.5 491.5,703.5 492.5,704.5 493.5,706.5 495.5,705.5 496.5,706.5 498.5,706.5 499.5,706.5 501.5,708.5 502.5,707.5 504.5,708.5 505.5,709.5 506.5,707.5 508.5,708.5 509.5,709.5 511.5,712.5 512.5,710.5 514.5,711.5 515.5,713.5 517.5,711.5 518.5,713.5 519.5,711.5 521.5,713.5 522.5,713.5 524.5,714.5 525.5,715.5 527.5,716.5 528.5,715.5 530.5,716.5 531.5,717.5 533.5,719.5 534.5,719.5 535.5,719.5 537.5,720.5 538.5,722.5 540.5,721.5 541.5,721.5 543.5,720.5 544.5,721.5 546.5,719.5 547.5,720.5 549.5,722.5 550.5,721.5 551.5,723.5 553.5,724.5 554.5,724.5 556.5,724.5 557.5,724.5"/>
<polyline class="ln" stroke="#74d4ff" points="157.5,756.5 158.5,756.5 160.5,755.5 161.5,755.5 163.5,754.5 164.5,753.5 166.5,753.5 167.5,752.5 169.5,752.5 170.5,751.5 171.5,751.5 173.5,751.5 174.5,751.5 176.5,750.5 177.5,750.5 179.5,749.5 180.5,749.5 182.5,748.5 183.5,747.5 185.5,747.5 186.5,747.5 187.5,747.5 189.5,746.5 190.5,746.5 192.5,745.5 193.5,744.5 195.5,741.5 196.5,740.5 198.5,740.5 199.5,740.5 201.5,738.5 202.5,738.5 203.5,740.5 205.5,738.5 206.5,738.5 208.5,736.5 209.5,736.5 211.5,736.5 212.5,735.5 214.5,735.5 215.5,735.5 216.5,734.5 218.5,734.5 219.5,732.5 221.5,732.5 222.5,732.5 224.5,731.5 225.5,730.5 227.5,730.5 228.5,729.5 229.5,729.5 231.5,729.5 232.5,729.5 234.5,727.5 235.5,726.5 237.5,727.5 238.5,726.5 240.5,724.5 241.5,724.5 243.5,724.5 244.5,722.5 245.5,721.5 247.5,720.5 248.5,720.5 250.5,717.5 251.5,718.5 253.5,715.5 254.5,715.5 256.5,715.5 257.5,715.5 259.5,713.5 260.5,714.5 261.5,714.5 263.5,712.5 264.5,712.5 266.5,711.5 267.5,710.5 269.5,713.5 270.5,712.5 272.5,710.5 273.5,711.5 274.5,711.5 276.5,709.5 277.5,709.5 279.5,710.5 280.5,708.5 282.5,707.5 283.5,710.5 285.5,707.5 286.5,707.5 287.5,708.5 289.5,704.5 290.5,704.5 292.5,706.5 293.5,705.5 295.5,705.5 296.5,704.5 298.5,704.5 299.5,704.5 301.5,704.5 302.5,704.5 303.5,704.5 305.5,703.5 306.5,704.5 308.5,701.5 309.5,702.5 311.5,700.5 312.5,703.5 314.5,701.5 315.5,701.5 317.5,700.5 318.5,698.5 319.5,697.5 321.5,699.5 322.5,699.5 324.5,698.5 325.5,701.5 327.5,697.5 328.5,698.5 330.5,697.5 331.5,698.5 332.5,695.5 334.5,698.5 335.5,697.5 337.5,696.5 338.5,697.5 340.5,696.5 341.5,694.5 343.5,694.5 344.5,694.5 345.5,694.5 347.5,695.5 348.5,696.5 350.5,693.5 351.5,693.5 353.5,694.5 354.5,694.5 356.5,693.5 357.5,692.5 359.5,692.5 360.5,692.5 361.5,691.5 363.5,694.5 364.5,690.5 366.5,692.5 367.5,691.5 369.5,691.5 370.5,692.5 372.5,690.5 373.5,691.5 375.5,692.5 376.5,695.5 377.5,691.5 379.5,693.5 380.5,693.5 382.5,691.5 383.5,692.5 385.5,690.5 386.5,691.5 388.5,692.5 389.5,695.5 390.5,691.5 392.5,692.5 393.5,692.5 395.5,691.5 396.5,690.5 398.5,693.5 399.5,691.5 401.5,693.5 402.5,692.5 403.5,693.5 405.5,693.5 406.5,690.5 408.5,691.5 409.5,692.5 411.5,693.5 412.5,690.5 414.5,693.5 415.5,695.5 417.5,693.5 418.5,694.5 419.5,692.5 421.5,694.5 422.5,695.5 424.5,697.5 425.5,694.5 427.5,697.5 428.5,695.5 430.5,696.5 431.5,696.5 433.5,694.5 434.5,695.5 435.5,695.5 437.5,695.5 438.5,695.5 440.5,696.5 441.5,697.5 443.5,698.5 444.5,694.5 446.5,695.5 447.5,696.5 448.5,693.5 450.5,696.5 451.5,698.5 453.5,695.5 454.5,694.5 456.5,696.5 457.5,698.5 459.5,699.5 460.5,697.5 461.5,697.5 463.5,696.5 464.5,698.5 466.5,697.5 467.5,698.5 469.5,700.5 470.5,699.5 472.5,698.5 473.5,700.5 475.5,701.5 476.5,701.5 477.5,699.5 479.5,701.5 480.5,701.5 482.5,701.5 483.5,701.5 485.5,702.5 486.5,702.5 488.5,705.5 489.5,704.5 491.5,703.5 492.5,704.5 493.5,706.5 495.5,705.5 496.5,706.5 498.5,706.5 499.5,706.5 501.5,708.5 502.5,707.5 504.5,708.5 505.5,709.5 506.5,707.5 508.5,708.5 509.5,709.5 511.5,712.5 512.5,710.5 514.5,711.5 515.5,713.5 517.5,711.5 518.5,713.5 519.5,711.5 521.5,713.5 522.5,713.5 524.5,714.5 525.5,715.5 527.5,716.5 528.5,715.5 530.5,716.5 531.5,717.5 533.5,719.5 534.5,719.5 535.5,719.5 537.5,720.5 538.5,722.5 540.5,721.5 541.5,721.5 543.5,720.5 544.5,721.5 546.5,719.5 547.5,720.5 549.5,722.5 550.5,721.5 551.5,723.5 553.5,724.5 554.5,724.5 556.5,724.5 557.5,724.5"/>
<polyline class="ln" stroke="#c0f0ca" points="157.5,756.5 158.5,756.5 160.5,755.5 161.5,755.5 163.5,754.5 164.5,753.5 166.5,753.5 167.5,752.5 169.5,752.5 170.5,751.5 171.5,751.5 173.5,751.5 174.5,751.5 176.5,750.5 177.5,750.5 179.5,749.5 180.5,749.5 182.5,748.5 183.5,747.5 185.5,747.5 186.5,747.5 187.5,747.5 189.5,746.5 190.5,746.5 192.5,745.5 193.5,744.5 195.5,741.5 196.5,740.5 198.5,740.5 199.5,740.5 201.5,738.5 202.5,738.5 203.5,740.5 205.5,738.5 206.5,738.5 208.5,736.5 209.5,736.5 211.5,736.5 212.5,735.5 214.5,735.5 215.5,735.5 216.5,734.5 218.5,734.5 219.5,732.5 221.5,732.5 222.5,732.5 224.5,731.5 225.5,730.5 227.5,730.5 228.5,729.5 229.5,729.5 231.5,729.5 232.5,729.5 234.5,727.5 235.5,726.5 237.5,727.5 238.5,726.5 240.5,724.5 241.5,724.5 243.5,724.5 244.5,722.5 245.5,721.5 247.5,720.5 248.5,720.5 250.5,717.5 251.5,718.5 253.5,715.5 254.5,715.5 256.5,715.5 257.5,715.5 259.5,713.5 260.5,714.5 261.5,714.5 263.5,712.5 264.5,712.5 266.5,711.5 267.5,710.5 269.5,713.5 270.5,712.5 272.5,710.5 273.5,711.5 274.5,711.5 276.5,709.5 277.5,709.5 279.5,710.5 280.5,708.5 282.5,707.5 283.5,710.5 285.5,707.5 286.5,707.5 287.5,708.5 289.5,704.5 290.5,704.5 292.5,706.5 293.5,705.5 295.5,705.5 296.5,704.5 298.5,704.5 299.5,704.5 301.5,704.5 302.5,704.5 303.5,704.5 305.5,703.5 306.5,704.5 308.5,701.5 309.5,702.5 311.5,700.5 312.5,703.5 314.5,701.5 315.5,701.5 317.5,700.5 318.5,698.5 319.5,697.5 321.5,699.5 322.5,699.5 324.5,698.5 325.5,701.5 327.5,697.5 328.5,698.5 330.5,697.5 331.5,698.5 332.5,695.5 334.5,698.5 335.5,697.5 337.5,696.5 338.5,697.5 340.5,696.5 341.5,694.5 343.5,694.5 344.5,694.5 345.5,694.5 347.5,695.5 348.5,696.5 350.5,693.5 351.5,693.5 353.5,694.5 354.5,694.5 356.5,693.5 357.5,692.5 359.5,692.5 360.5,692.5 361.5,691.5 363.5,694.5 364.5,690.5 366.5,692.5 367.5,691.5 369.5,691.5 370.5,692.5 372.5,690.5 373.5,691.5 375.5,692.5 376.5,695.5 377.5,691.5 379.5,693.5 380.5,693.5 382.5,691.5 383.5,692.5 385.5,690.5 386.5,691.5 388.5,692.5 389.5,695.5 390.5,691.5 392.5,692.5 393.5,692.5 395.5,691.5 396.5,690.5 398.5,693.5 399.5,691.5 401.5,693.5 402.5,692.5 403.5,693.5 405.5,693.5 406.5,690.5 408.5,691.5 409.5,692.5 411.5,693.5 412.5,690.5 414.5,693.5 415.5,695.5 417.5,693.5 418.5,694.5 419.5,692.5 421.5,694.5 422.5,695.5 424.5,697.5 425.5,694.5 427.5,697.5 428.5,695.5 430.5,696.5 431.5,696.5 433.5,694.5 434.5,695.5 435.5,695.5 437.5,695.5 438.5,695.5 440.5,696.5 441.5,697.5 443.5,698.5 444.5,694.5 446.5,695.5 447.5,696.5 448.5,693.5 450.5,696.5 451.5,698.5 453.5,695.5 454.5,694.5 456.5,696.5 457.5,698.5 459.5,699.5 460.5,697.5 461.5,697.5 463.5,696.5 464.5,698.5 466.5,697.5 467.5,698.5 469.5,700.5 470.5,699.5 472.5,698.5 473.5,700.5 475.5,701.5 476.5,701.5 477.5,699.5 479.5,701.5 480.5,701.5 482.5,701.5 483.5,701.5 485.5,702.5 486.5,702.5 488.5,705.5 489.5,704.5 491.5,703.5 492.5,704.5 493.5,706.5 495.5,705.5 496.5,706.5 498.5,706.5 499.5,706.5 501.5,708.5 502.5,707.5 504.5,708.5 505.5,709.5 506.5,707.5 508.5,708.5 509.5,709.5 511.5,712.5 512.5,710.5 514.5,711.5 515.5,713.5 517.5,711.5 518.5,713.5 519.5,711.5 521.5,713.5 522.5,713.5 524.5,714.5 525.5,715.5 527.5,716.5 528.5,715.5 530.5,716.5 531.5,717.5 533.5,719.5 534.5,719.5 535.5,719.5 537.5,720.5 538.5,722.5 540.5,721.5 541.5,721.5 543.5,720.5 544.5,721.5 546.5,719.5 547.5,720.5 549.5,722.5 550.5,721.5 551.5,723.5 553.5,724.5 554.5,724.5 556.5,724.5 557.5,724.5"/>
<polyline class="ln" stroke="#f0e274" points="157.5,756.5 158.5,756.5 160.5,755.5 161.5,755.5 163.5,754.5 164.5,753.5 166.5,753.5 167.5,752.5 169.5,752.5 170.5,751.5 171.5,751.5 173.5,751.5 174.5,751.5 176.5,750.5 177.5,750.5 179.5,749.5 180.5,749.5 182.5,748.5 183.5,747.5 185.5,747.5 186.5,747.5 187.5,747.5 189.5,746.5 190.5,746.5 192.5,745.5 193.5,744.5 195.5,741.5 196.5,740.5 198.5,740.5 199.5,740.5 201.5,738.5 202.5,738.5 203.5,740.5 205.5,738.5 206.5,738.5 208.5,736.5 209.5,736.5 211.5,736.5 212.5,735.5 214.5,735.5 215.5,735.5 216.5,734.5 218.5,734.5 219.5,732.5 221.5,732.5 222.5,732.5 224.5,731.5 225.5,730.5 227.5,730.5 228.5,729.5 229.5,729.5 231.5,729.5 232.5,729.5 234.5,727.5 235.5,726.5 237.5,727.5 238.5,726.5 240.5,724.5 241.5,724.5 243.5,724.5 244.5,722.5 245.5,721.5 247.5,720.5 248.5,720.5 250.5,717.5 251.5,718.5 253.5,715.5 254.5,715.5 256.5,715.5 257.5,715.5 259.5,713.5 260.5,714.5 261.5,714.5 263.5,712.5 264.5,712.5 266.5,711.5 267.5,710.5 269.5,713.5 270.5,712.5 272.5,710.5 273.5,711.5 274.5,711.5 276.5,709.5 277.5,709.5 279.5,710.5 280.5,708.5 282.5,707.5 283.5,710.5 285.5,707.5 286.5,707.5 287.5,708.5 289.5,704.5 290.5,704.5 292.5,706.5 293.5,705.5 295.5,705.5 296.5,704.5 298.5,704.5 299.5,704.5 301.5,704.5 302.5,704.5 303.5,704.5 305.5,703.5 306.5,704.5 308.5,701.5 309.5,702.5 311.5,700.5 312.5,703.5 314.5,701.5 315.5,701.5 317.5,700.5 318.5,698.5 319.5,697.5 321.5,699.5 322.5,699.5 324.5,698.5 325.5,701.5 327.5,697.5 328.5,698.5 330.5,697.5 331.5,698.5 332.5,695.5 334.5,698.5 335.5,697.5 337.5,696.5 338.5,697.5 340.5,696.5 341.5,694.5 343.5,694.5 344.5,694.5 345.5,694.5 347.5,695.5 348.5,696.5 350.5,693.5 351.5,693.5 353.5,694.5 354.5,694.5 356.5,693.5 357.5,692.5 359.5,692.5 360.5,692.5 361.5,691.5 363.5,694.5 364.5,690.5 366.5,692.5 367.5,691.5 369.5,691.5 370.5,692.5 372.5,690.5 373.5,691.5 375.5,692.5 376.5,695.5 377.5,691.5 379.5,693.5 380.5,693.5 382.5,691.5 383.5,692.5 385.5,690.5 386.5,691.5 388.5,692.5 389.5,695.5 390.5,691.5 392.5,692.5 393.5,692.5 395.5,691.5 396.5,690.5 398.5,693.5 399.5,691.5 401.5,693.5 402.5,692.5 403.5,693.5 405.5,693.5 406.5,690.5 408.5,691.5 409.5,692.5 411.5,693.5 412.5,690.5 414.5,693.5 415.5,695.5 417.5,693.5 418.5,694.5 419.5,692.5 421.5,694.5 422.5,695.5 424.5,697.5 425.5,694.5 427.5,697.5 428.5,695.5 430.5,696.5 431.5,696.5 433.5,694.5 434.5,695.5 435.5,695.5 437.5,695.5 438.5,695.5 440.5,696.5 441.5,697.5 443.5,698.5 444.5,694.5 446.5,695.5 447.5,696.5 448.5,693.5 450.5,696.5 451.5,698.5 453.5,695.5 454.5,694.5 456.5,696.5 457.5,698.5 459.5,699.5 460.5,697.5 461.5,697.5 463.5,696.5 464.5,698.5 466.5,697.5 467.5,698.5 469.5,700.5 470.5,699.5 472.5,698.5 473.5,700.5 475.5,701.5 476.5,701.5 477.5,699.5 479.5,701.5 480.5,701.5 482.5,701.5 483.5,701.5 485.5,702.5 486.5,702.5 488.5,705.5 489.5,704.5 491.5,703.5 492.5,704.5 493.5,706.5 495.5,705.5 496.5,706.5 498.5,706.5 499.5,706.5 501.5,708.5 502.5,707.5 504.5,708.5 505.5,709.5 506.5,707.5 508.5,708.5 509.5,709.5 511.5,712.5 512.5,710.5 514.5,711.5 515.5,713.5 517.5,711.5 518.5,713.5 519.5,711.5 521.5,713.5 522.5,713.5 524.5,714.5 525.5,715.5 527.5,716.5 528.5,715.5 530.5,716.5 531.5,717.5 533.5,719.5 534.5,719.5 535.5,719.5 537.5,720.5 538.5,722.5 540.5,721.5 541.5,721.5 543.5,720.5 544.5,721.5 546.5,719.5 547.5,720.5 549.5,722.5 550.5,721.5 551.5,723.5 553.5,724.5 554.5,724.5 556.5,724.5 557.5,724.5"/>
<polyline class="ln" stroke="#dc7c20" points="157.5,756.5 158.5,756.5 160.5,755.5 161.5,755.5 163.5,754.5 164.5,753.5 166.5,753.5 167.5,752.5 169.5,752.5 170.5,751.5 171.5,751.5 173.5,751.5 174.5,751.5 176.5,750.5 177.5,750.5 179.5,749.5 180.5,749.5 182.5,748.5 183.5,747.5 185.5,747.5 186.5,747.5 187.5,747.5 189.5,746.5 190.5,746.5 192.5,745.5 193.5,744.5 195.5,741.5 196.5,740.5 198.5,740.5 199.5,740.5 201.5,738.5 202.5,738.5 203.5,740.5 205.5,738.5 206.5,738.5 208.5,736.5 209.5,736.5 211.5,736.5 212.5,735.5 214.5,735.5 215.5,735.5 216.5,734.5 218.5,734.5 219.5,732.5 221.5,732.5 222.5,732.5 224.5,731.5 225.5,730.5 227.5,730.5 228.5,729.5 229.5,729.5 231.5,729.5 232.5,729.5 234.5,727.5 235.5,726.5 237.5,727.5 238.5,726.5 240.5,724.5 241.5,724.5 243.5,724.5 244.5,722.5 245.5,721.5 247.5,720.5 248.5,720.5 250.5,717.5 251.5,718.5 253.5,715.5 254.5,715.5 256.5,715.5 257.5,715.5 259.5,713.5 260.5,714.5 261.5,714.5 263.5,712.5 264.5,712.5 266.5,711.5 267.5,710.5 269.5,713.5 270.5,712.5 272.5,710.5 273.5,711.5 274.5,711.5 276.5,709.5 277.5,709.5 279.5,710.5 280.5,708.5 282.5,707.5 283.5,710.5 285.5,707.5 286.5,707.5 287.5,708.5 289.5,704.5 290.5,704.5 292.5,706.5 293.5,705.5 295.5,705.5 296.5,704.5 298.5,704.5 299.5,704.5 301.5,704.5 302.5,704.5 303.5,704.5 305.5,703.5 306.5,704.5 308.5,701.5 309.5,702.5 311.5,700.5 312.5,703.5 314.5,701.5 315.5,701.5 317.5,700.5 318.5,698.5 319.5,697.5 321.5,699.5 322.5,699.5 324.5,698.5 325.5,701.5 327.5,697.5 328.5,698.5 330.5,697.5 331.5,698.5 332.5,695.5 334.5,698.5 335.5,697.5 337.5,696.5 338.5,697.5 340.5,696.5 341.5,694.5 343.5,694.5 344.5,694.5 345.5,694.5 347.5,695.5 348.5,696.5 350.5,693.5 351.5,693.5 353.5,694.5 354.5,694.5 356.5,693.5 357.5,692.5 359.5,692.5 360.5,692.5 361.5,691.5 363.5,694.5 364.5,690.5 366.5,692.5 367.5,691.5 369.5,691.5 370.5,692.5 372.5,690.5 373.5,691.5 375.5,692.5 376.5,695.5 377.5,691.5 379.5,693.5 380.5,693.5 382.5,691.5 383.5,692.5 385.5,690.5 386.5,691.5 388.5,692.5 389.5,695.5 390.5,691.5 392.5,692.5 393.5,692.5 395.5,691.5 396.5,690.5 398.5,693.5 399.5,691.5 401.5,693.5 402.5,692.5 403.5,693.5 405.5,693.5 406.5,690.5 408.5,691.5 409.5,692.5 411.5,693.5 412.5,690.5 414.5,693.5 415.5,695.5 417.5,693.5 418.5,694.5 419.5,692.5 421.5,694.5 422.5,695.5 424.5,697.5 425.5,694.5 427.5,697.5 428.5,695.5 430.5,696.5 431.5,696.5 433.5,694.5 434.5,695.5 435.5,695.5 437.5,695.5 438.5,695.5 440.5,696.5 441.5,697.5 443.5,698.5 444.5,694.5 446.5,695.5 447.5,696.5 448.5,693.5 450.5,696.5 451.5,698.5 453.5,695.5 454.5,694.5 456.5,696.5 457.5,698.5 459.5,699.5 460.5,697.5 461.5,697.5 463.5,696.5 464.5,698.5 466.5,697.5 467.5,698.5 469.5,700.5 470.5,699.5 472.5,698.5 473.5,700.5 475.5,701.5 476.5,701.5 477.5,699.5 479.5,701.5 480.5,701.5 482.5,701.5 483.5,701.5 485.5,702.5 486.5,702.5 488.5,705.5 489.5,704.5 491.5,703.5 492.5,704.5 493.5,706.5 495.5,705.5 496.5,706.5 498.5,706.5 499.5,706.5 501.5,708.5 502.5,707.5 504.5,708.5 505.5,709.5 506.5,707.5 508.5,708.5 509.5,709.5 511.5,712.5 512.5,710.5 514.5,711.5 515.5,713.5 517.5,711.5 518.5,713.5 519.5,711.5 521.5,713.5 522.5,713.5 524.5,714.5 525.5,715.5 527.5,716.5 528.5,715.5 530.5,716.5 531.5,717.5 533.5,719.5 534.5,719.5 535.5,719.5 537.5,720.5 538.5,722.5 540.5,721.5 541.5,721.5 543.5,720.5 544.5,721.5 546.5,719.5 547.5,720.5 549.5,722.5 550.5,721.5 551.5,723.5 553.5,724.5 554.5,724.5 556.5,724.5 557.5,724.5"/>
<path class="ax" d="M156.5 690 V757.5 H559"/>
<line class="ax" x1="156" y1="692.5" x2="162" y2="692.5"/>
<line class="ax" x1="156" y1="713.5" x2="162" y2="713.5"/>
<line class="ax" x1="156" y1="735.5" x2="162" y2="735.5"/>
<line class="ax" x1="156" y1="756.5" x2="162" y2="756.5"/>
<line class="ax" x1="212.5" y1="758" x2="212.5" y2="752"/>
<line class="ax" x1="299.5" y1="758" x2="299.5" y2="752"/>
<line class="ax" x1="386.5" y1="758" x2="386.5" y2="752"/>
<line class="ax" x1="474.5" y1="758" x2="474.5" y2="752"/>
<text class="tk" transform="translate(149.6,703.7) scale(1,1.05)" text-anchor="end">80</text>
<text class="tk" transform="translate(149.6,724.7) scale(1,1.05)" text-anchor="end">60</text>
<text class="tk" transform="translate(149.6,746.7) scale(1,1.05)" text-anchor="end">40</text>
<text class="tk" transform="translate(149.6,767.7) scale(1,1.05)" text-anchor="end">20</text>
<text class="tk" transform="translate(211.7,792.6) scale(1,1.05)" text-anchor="middle">2685</text>
<text class="tk" transform="translate(298.7,792.6) scale(1,1.05)" text-anchor="middle">2690</text>
<text class="tk" transform="translate(385.7,792.6) scale(1,1.05)" text-anchor="middle">2695</text>
<text class="tk" transform="translate(473.7,792.6) scale(1,1.05)" text-anchor="middle">2700</text>
<text class="ti" transform="translate(356.0,669.5) scale(1,1.05)" text-anchor="middle">Bin 7</text>
<text transform="translate(250.2,830.0) scale(1,1.05)" text-anchor="start">Wavenumber</text>
<text transform="translate(400.4,830.0) scale(1,1.05)" text-anchor="start">[cm</text>
<text class="sup" transform="translate(438.2,818.7) scale(1,1.05)" text-anchor="start">-</text>
<text class="sup" transform="translate(445.2,819.5) scale(1,1.05)" text-anchor="start">1</text>
<text transform="translate(455.8,830.0) scale(1,1.05)" text-anchor="start">]</text>
<text transform="translate(109.4,725.7) rotate(-90) scale(1,1.05)" text-anchor="middle">ADU</text>
</g>
<g id="p8">
<line class="gr" x1="687" y1="703.5" x2="1087" y2="703.5"/>
<line class="gr" x1="689" y1="727.5" x2="1087" y2="727.5"/>
<line class="gr" x1="686" y1="751.5" x2="1087" y2="751.5"/>
<line class="gr" stroke-dashoffset="1" x1="740.5" y1="757" x2="740.5" y2="691"/>
<line class="gr" stroke-dashoffset="1" x1="827.5" y1="757" x2="827.5" y2="691"/>
<line class="gr" stroke-dashoffset="1" x1="915.5" y1="757" x2="915.5" y2="691"/>
<line class="gr" stroke-dashoffset="1" x1="1002.5" y1="757" x2="1002.5" y2="691"/>
<polyline class="ln" stroke="#00008f" points="685.5,756.5 686.5,755.5 688.5,755.5 689.5,756.5 691.5,754.5 692.5,754.5 694.5,753.5 695.5,754.5 697.5,752.5 698.5,752.5 699.5,753.5 701.5,752.5 702.5,751.5 704.5,749.5 705.5,749.5 707.5,750.5 708.5,749.5 710.5,747.5 711.5,749.5 713.5,747.5 714.5,746.5 715.5,746.5 717.5,745.5 718.5,745.5 720.5,745.5 721.5,744.5 723.5,743.5 724.5,744.5 726.5,742.5 727.5,740.5 729.5,740.5 730.5,740.5 731.5,740.5 733.5,739.5 734.5,738.5 736.5,739.5 737.5,739.5 739.5,737.5 740.5,736.5 742.5,736.5 743.5,736.5 744.5,735.5 746.5,734.5 747.5,733.5 749.5,731.5 750.5,732.5 752.5,733.5 753.5,731.5 755.5,729.5 756.5,729.5 757.5,730.5 759.5,728.5 760.5,725.5 762.5,726.5 763.5,725.5 765.5,724.5 766.5,723.5 768.5,722.5 769.5,725.5 771.5,722.5 772.5,721.5 773.5,719.5 775.5,719.5 776.5,719.5 778.5,718.5 779.5,718.5 781.5,719.5 782.5,718.5 784.5,716.5 785.5,714.5 787.5,714.5 788.5,712.5 789.5,711.5 791.5,712.5 792.5,712.5 794.5,713.5 795.5,708.5 797.5,712.5 798.5,710.5 800.5,709.5 801.5,709.5 802.5,711.5 804.5,709.5 805.5,709.5 807.5,707.5 808.5,709.5 810.5,708.5 811.5,707.5 813.5,707.5 814.5,706.5 815.5,705.5 817.5,708.5 818.5,707.5 820.5,706.5 821.5,704.5 823.5,706.5 824.5,705.5 826.5,704.5 827.5,703.5 829.5,706.5 830.5,705.5 831.5,702.5 833.5,701.5 834.5,702.5 836.5,702.5 837.5,702.5 839.5,699.5 840.5,700.5 842.5,701.5 843.5,703.5 845.5,702.5 846.5,702.5 847.5,700.5 849.5,703.5 850.5,703.5 852.5,703.5 853.5,704.5 855.5,701.5 856.5,701.5 858.5,702.5 859.5,701.5 860.5,702.5 862.5,699.5 863.5,697.5 865.5,698.5 866.5,697.5 868.5,695.5 869.5,695.5 871.5,694.5 872.5,695.5 873.5,694.5 875.5,697.5 876.5,696.5 878.5,697.5 879.5,698.5 881.5,693.5 882.5,697.5 884.5,696.5 885.5,696.5 887.5,694.5 888.5,699.5 889.5,698.5 891.5,695.5 892.5,693.5 894.5,697.5 895.5,698.5 897.5,694.5 898.5,696.5 900.5,697.5 901.5,696.5 903.5,694.5 904.5,698.5 905.5,695.5 907.5,694.5 908.5,693.5 910.5,692.5 911.5,696.5 913.5,694.5 914.5,693.5 916.5,694.5 917.5,697.5 918.5,698.5 920.5,697.5 921.5,699.5 923.5,698.5 924.5,700.5 926.5,701.5 927.5,699.5 929.5,698.5 930.5,702.5 931.5,698.5 933.5,700.5 934.5,701.5 936.5,699.5 937.5,698.5 939.5,694.5 940.5,697.5 942.5,699.5 943.5,700.5 945.5,695.5 946.5,700.5 947.5,697.5 949.5,696.5 950.5,697.5 952.5,695.5 953.5,699.5 955.5,702.5 956.5,698.5 958.5,699.5 959.5,699.5 961.5,702.5 962.5,702.5 963.5,705.5 965.5,701.5 966.5,704.5 968.5,703.5 969.5,703.5 971.5,703.5 972.5,704.5 974.5,702.5 975.5,704.5 976.5,704.5 978.5,702.5 979.5,704.5 981.5,705.5 982.5,704.5 984.5,703.5 985.5,704.5 987.5,706.5 988.5,705.5 989.5,704.5 991.5,706.5 992.5,704.5 994.5,709.5 995.5,705.5 997.5,708.5 998.5,706.5 1000.5,706.5 1001.5,708.5 1003.5,709.5 1004.5,706.5 1005.5,708.5 1007.5,708.5 1008.5,708.5 1010.5,708.5 1011.5,709.5 1013.5,709.5 1014.5,710.5 1016.5,710.5 1017.5,711.5 1019.5,711.5 1020.5,714.5 1021.5,712.5 1023.5,715.5 1024.5,712.5 1026.5,712.5 1027.5,713.5 1029.5,714.5 1030.5,714.5 1032.5,714.5 1033.5,715.5 1034.5,716.5 1036.5,714.5 1037.5,715.5 1039.5,716.5 1040.5,718.5 1042.5,717.5 1043.5,718.5 1045.5,720.5 1046.5,719.5 1047.5,718.5 1049.5,720.5 1050.5,721.5 1052.5,724.5 1053.5,723.5 1055.5,722.5 1056.5,722.5 1058.5,723.5 1059.5,722.5 1061.5,725.5 1062.5,724.5 1063.5,724.5 1065.5,724.5 1066.5,723.5 1068.5,725.5 1069.5,726.5 1071.5,725.5 1072.5,726.5 1074.5,725.5 1075.5,725.5 1077.5,726.5 1078.5,728.5 1079.5,729.5 1081.5,728.5 1082.5,727.5 1084.5,727.5 1085.5,727.5"/>
<polyline class="ln" stroke="#0038ff" points="685.5,756.5 686.5,755.5 688.5,755.5 689.5,756.5 691.5,754.5 692.5,754.5 694.5,753.5 695.5,754.5 697.5,752.5 698.5,752.5 699.5,753.5 701.5,752.5 702.5,750.5 704.5,749.5 705.5,749.5 707.5,750.5 708.5,749.5 710.5,747.5 711.5,749.5 713.5,748.5 714.5,747.5 715.5,746.5 717.5,745.5 718.5,744.5 720.5,745.5 721.5,744.5 723.5,743.5 724.5,743.5 726.5,742.5 727.5,740.5 729.5,740.5 730.5,739.5 731.5,740.5 733.5,739.5 734.5,738.5 736.5,739.5 737.5,739.5 739.5,737.5 740.5,736.5 742.5,735.5 743.5,735.5 744.5,735.5 746.5,734.5 747.5,732.5 749.5,731.5 750.5,732.5 752.5,733.5 753.5,730.5 755.5,729.5 756.5,729.5 757.5,730.5 759.5,727.5 760.5,724.5 762.5,725.5 763.5,725.5 765.5,724.5 766.5,722.5 768.5,721.5 769.5,724.5 771.5,722.5 772.5,720.5 773.5,718.5 775.5,718.5 776.5,719.5 778.5,717.5 779.5,718.5 781.5,718.5 782.5,717.5 784.5,715.5 785.5,713.5 787.5,713.5 788.5,710.5 789.5,711.5 791.5,711.5 792.5,712.5 794.5,712.5 795.5,707.5 797.5,711.5 798.5,710.5 800.5,708.5 801.5,707.5 802.5,711.5 804.5,709.5 805.5,708.5 807.5,706.5 808.5,709.5 810.5,707.5 811.5,707.5 813.5,706.5 814.5,706.5 815.5,705.5 817.5,707.5 818.5,706.5 820.5,705.5 821.5,703.5 823.5,705.5 824.5,703.5 826.5,704.5 827.5,703.5 829.5,705.5 830.5,704.5 831.5,701.5 833.5,700.5 834.5,701.5 836.5,700.5 837.5,701.5 839.5,698.5 840.5,700.5 842.5,700.5 843.5,702.5 845.5,702.5 846.5,701.5 847.5,700.5 849.5,702.5 850.5,702.5 852.5,702.5 853.5,703.5 855.5,701.5 856.5,700.5 858.5,701.5 859.5,700.5 860.5,701.5 862.5,699.5 863.5,697.5 865.5,697.5 866.5,696.5 868.5,694.5 869.5,694.5 871.5,693.5 872.5,693.5 873.5,693.5 875.5,696.5 876.5,695.5 878.5,696.5 879.5,697.5 881.5,692.5 882.5,696.5 884.5,695.5 885.5,694.5 887.5,693.5 888.5,698.5 889.5,696.5 891.5,694.5 892.5,693.5 894.5,696.5 895.5,697.5 897.5,694.5 898.5,696.5 900.5,696.5 901.5,695.5 903.5,694.5 904.5,698.5 905.5,695.5 907.5,694.5 908.5,693.5 910.5,692.5 911.5,695.5 913.5,694.5 914.5,693.5 916.5,692.5 917.5,696.5 918.5,696.5 920.5,697.5 921.5,697.5 923.5,697.5 924.5,700.5 926.5,700.5 927.5,697.5 929.5,697.5 930.5,701.5 931.5,698.5 933.5,699.5 934.5,700.5 936.5,698.5 937.5,697.5 939.5,694.5 940.5,696.5 942.5,697.5 943.5,700.5 945.5,694.5 946.5,699.5 947.5,696.5 949.5,695.5 950.5,697.5 952.5,695.5 953.5,698.5 955.5,700.5 956.5,697.5 958.5,699.5 959.5,698.5 961.5,701.5 962.5,701.5 963.5,703.5 965.5,700.5 966.5,703.5 968.5,701.5 969.5,702.5 971.5,703.5 972.5,704.5 974.5,702.5 975.5,705.5 976.5,703.5 978.5,701.5 979.5,703.5 981.5,705.5 982.5,703.5 984.5,704.5 985.5,704.5 987.5,705.5 988.5,705.5 989.5,703.5 991.5,706.5 992.5,703.5 994.5,709.5 995.5,705.5 997.5,707.5 998.5,705.5 1000.5,705.5 1001.5,708.5 1003.5,707.5 1004.5,705.5 1005.5,707.5 1007.5,708.5 1008.5,707.5 1010.5,708.5 1011.5,708.5 1013.5,708.5 1014.5,710.5 1016.5,710.5 1017.5,710.5 1019.5,710.5 1020.5,712.5 1021.5,711.5 1023.5,714.5 1024.5,712.5 1026.5,712.5 1027.5,713.5 1029.5,713.5 1030.5,713.5 1032.5,714.5 1033.5,714.5 1034.5,716.5 1036.5,714.5 1037.5,715.5 1039.5,715.5 1040.5,718.5 1042.5,717.5 1043.5,718.5 1045.5,719.5 1046.5,718.5 1047.5,717.5 1049.5,720.5 1050.5,720.5 1052.5,722.5 1053.5,723.5 1055.5,722.5 1056.5,722.5 1058.5,723.5 1059.5,722.5 1061.5,724.5 1062.5,723.5 1063.5,724.5 1065.5,723.5 1066.5,723.5 1068.5,725.5 1069.5,725.5 1071.5,724.5 1072.5,725.5 1074.5,724.5 1075.5,725.5 1077.5,726.5 1078.5,727.5 1079.5,728.5 1081.5,728.5 1082.5,727.5 1084.5,726.5 1085.5,727.5"/>
<polyline class="ln" stroke="#74d4ff" points="685.5,756.5 686.5,755.5 688.5,755.5 689.5,756.5 691.5,754.5 692.5,754.5 694.5,753.5 695.5,754.5 697.5,752.5 698.5,752.5 699.5,753.5 701.5,751.5 702.5,751.5 704.5,749.5 705.5,749.5 707.5,749.5 708.5,749.5 710.5,747.5 711.5,749.5 713.5,747.5 714.5,746.5 715.5,746.5 717.5,745.5 718.5,744.5 720.5,745.5 721.5,744.5 723.5,743.5 724.5,743.5 726.5,742.5 727.5,740.5 729.5,740.5 730.5,739.5 731.5,740.5 733.5,739.5 734.5,737.5 736.5,738.5 737.5,739.5 739.5,737.5 740.5,735.5 742.5,735.5 743.5,735.5 744.5,734.5 746.5,734.5 747.5,732.5 749.5,731.5 750.5,731.5 752.5,733.5 753.5,730.5 755.5,729.5 756.5,729.5 757.5,730.5 759.5,727.5 760.5,724.5 762.5,725.5 763.5,725.5 765.5,724.5 766.5,722.5 768.5,722.5 769.5,724.5 771.5,721.5 772.5,720.5 773.5,718.5 775.5,718.5 776.5,719.5 778.5,717.5 779.5,717.5 781.5,717.5 782.5,717.5 784.5,714.5 785.5,712.5 787.5,713.5 788.5,711.5 789.5,711.5 791.5,711.5 792.5,711.5 794.5,711.5 795.5,707.5 797.5,711.5 798.5,709.5 800.5,708.5 801.5,707.5 802.5,710.5 804.5,707.5 805.5,708.5 807.5,706.5 808.5,708.5 810.5,706.5 811.5,706.5 813.5,706.5 814.5,705.5 815.5,704.5 817.5,706.5 818.5,705.5 820.5,704.5 821.5,702.5 823.5,705.5 824.5,702.5 826.5,703.5 827.5,702.5 829.5,705.5 830.5,703.5 831.5,700.5 833.5,700.5 834.5,700.5 836.5,699.5 837.5,701.5 839.5,698.5 840.5,698.5 842.5,699.5 843.5,701.5 845.5,701.5 846.5,700.5 847.5,699.5 849.5,701.5 850.5,702.5 852.5,702.5 853.5,703.5 855.5,699.5 856.5,700.5 858.5,701.5 859.5,699.5 860.5,700.5 862.5,699.5 863.5,696.5 865.5,697.5 866.5,695.5 868.5,694.5 869.5,693.5 871.5,693.5 872.5,693.5 873.5,693.5 875.5,695.5 876.5,694.5 878.5,695.5 879.5,698.5 881.5,692.5 882.5,695.5 884.5,694.5 885.5,694.5 887.5,693.5 888.5,697.5 889.5,696.5 891.5,693.5 892.5,692.5 894.5,696.5 895.5,696.5 897.5,692.5 898.5,695.5 900.5,696.5 901.5,694.5 903.5,693.5 904.5,697.5 905.5,694.5 907.5,693.5 908.5,692.5 910.5,692.5 911.5,694.5 913.5,693.5 914.5,692.5 916.5,691.5 917.5,695.5 918.5,696.5 920.5,696.5 921.5,696.5 923.5,697.5 924.5,698.5 926.5,699.5 927.5,697.5 929.5,696.5 930.5,700.5 931.5,697.5 933.5,699.5 934.5,701.5 936.5,698.5 937.5,697.5 939.5,694.5 940.5,695.5 942.5,697.5 943.5,699.5 945.5,694.5 946.5,699.5 947.5,696.5 949.5,694.5 950.5,697.5 952.5,694.5 953.5,697.5 955.5,701.5 956.5,697.5 958.5,698.5 959.5,698.5 961.5,700.5 962.5,701.5 963.5,704.5 965.5,699.5 966.5,703.5 968.5,700.5 969.5,702.5 971.5,702.5 972.5,703.5 974.5,701.5 975.5,703.5 976.5,702.5 978.5,700.5 979.5,703.5 981.5,704.5 982.5,703.5 984.5,702.5 985.5,703.5 987.5,704.5 988.5,705.5 989.5,702.5 991.5,705.5 992.5,703.5 994.5,708.5 995.5,704.5 997.5,707.5 998.5,704.5 1000.5,705.5 1001.5,707.5 1003.5,707.5 1004.5,705.5 1005.5,707.5 1007.5,708.5 1008.5,708.5 1010.5,707.5 1011.5,707.5 1013.5,708.5 1014.5,709.5 1016.5,709.5 1017.5,709.5 1019.5,710.5 1020.5,712.5 1021.5,710.5 1023.5,713.5 1024.5,711.5 1026.5,711.5 1027.5,712.5 1029.5,713.5 1030.5,713.5 1032.5,713.5 1033.5,714.5 1034.5,715.5 1036.5,713.5 1037.5,714.5 1039.5,715.5 1040.5,717.5 1042.5,716.5 1043.5,717.5 1045.5,718.5 1046.5,717.5 1047.5,717.5 1049.5,719.5 1050.5,720.5 1052.5,722.5 1053.5,722.5 1055.5,721.5 1056.5,722.5 1058.5,721.5 1059.5,722.5 1061.5,724.5 1062.5,723.5 1063.5,723.5 1065.5,723.5 1066.5,722.5 1068.5,724.5 1069.5,725.5 1071.5,724.5 1072.5,724.5 1074.5,724.5 1075.5,724.5 1077.5,724.5 1078.5,726.5 1079.5,728.5 1081.5,728.5 1082.5,726.5 1084.5,725.5 1085.5,727.5"/>
<polyline class="ln" stroke="#c0f0ca" points="685.5,756.5 686.5,755.5 688.5,755.5 689.5,756.5 691.5,753.5 692.5,754.5 694.5,753.5 695.5,754.5 697.5,752.5 698.5,752.5 699.5,753.5 701.5,752.5 702.5,750.5 704.5,749.5 705.5,749.5 707.5,749.5 708.5,749.5 710.5,747.5 711.5,748.5 713.5,747.5 714.5,746.5 715.5,746.5 717.5,745.5 718.5,744.5 720.5,744.5 721.5,743.5 723.5,743.5 724.5,743.5 726.5,742.5 727.5,740.5 729.5,740.5 730.5,739.5 731.5,739.5 733.5,739.5 734.5,737.5 736.5,738.5 737.5,738.5 739.5,736.5 740.5,735.5 742.5,735.5 743.5,735.5 744.5,735.5 746.5,733.5 747.5,731.5 749.5,730.5 750.5,731.5 752.5,732.5 753.5,730.5 755.5,728.5 756.5,729.5 757.5,729.5 759.5,726.5 760.5,723.5 762.5,724.5 763.5,724.5 765.5,723.5 766.5,722.5 768.5,721.5 769.5,724.5 771.5,721.5 772.5,719.5 773.5,718.5 775.5,717.5 776.5,717.5 778.5,716.5 779.5,716.5 781.5,717.5 782.5,716.5 784.5,714.5 785.5,711.5 787.5,712.5 788.5,710.5 789.5,710.5 791.5,710.5 792.5,710.5 794.5,711.5 795.5,707.5 797.5,710.5 798.5,708.5 800.5,707.5 801.5,706.5 802.5,710.5 804.5,707.5 805.5,707.5 807.5,704.5 808.5,707.5 810.5,706.5 811.5,706.5 813.5,705.5 814.5,704.5 815.5,703.5 817.5,707.5 818.5,704.5 820.5,704.5 821.5,702.5 823.5,705.5 824.5,702.5 826.5,702.5 827.5,702.5 829.5,704.5 830.5,703.5 831.5,700.5 833.5,700.5 834.5,699.5 836.5,700.5 837.5,700.5 839.5,698.5 840.5,699.5 842.5,698.5 843.5,701.5 845.5,700.5 846.5,700.5 847.5,698.5 849.5,701.5 850.5,701.5 852.5,701.5 853.5,702.5 855.5,699.5 856.5,699.5 858.5,699.5 859.5,698.5 860.5,700.5 862.5,697.5 863.5,695.5 865.5,696.5 866.5,695.5 868.5,693.5 869.5,692.5 871.5,691.5 872.5,692.5 873.5,692.5 875.5,695.5 876.5,694.5 878.5,694.5 879.5,696.5 881.5,691.5 882.5,695.5 884.5,694.5 885.5,693.5 887.5,692.5 888.5,696.5 889.5,695.5 891.5,692.5 892.5,691.5 894.5,696.5 895.5,696.5 897.5,692.5 898.5,694.5 900.5,695.5 901.5,694.5 903.5,693.5 904.5,696.5 905.5,693.5 907.5,693.5 908.5,691.5 910.5,691.5 911.5,692.5 913.5,692.5 914.5,691.5 916.5,690.5 917.5,694.5 918.5,695.5 920.5,695.5 921.5,695.5 923.5,696.5 924.5,698.5 926.5,699.5 927.5,697.5 929.5,696.5 930.5,700.5 931.5,697.5 933.5,697.5 934.5,700.5 936.5,696.5 937.5,696.5 939.5,692.5 940.5,695.5 942.5,696.5 943.5,698.5 945.5,694.5 946.5,698.5 947.5,694.5 949.5,694.5 950.5,695.5 952.5,693.5 953.5,697.5 955.5,699.5 956.5,696.5 958.5,698.5 959.5,697.5 961.5,700.5 962.5,700.5 963.5,703.5 965.5,699.5 966.5,702.5 968.5,700.5 969.5,701.5 971.5,701.5 972.5,703.5 974.5,700.5 975.5,703.5 976.5,702.5 978.5,699.5 979.5,701.5 981.5,703.5 982.5,702.5 984.5,702.5 985.5,703.5 987.5,703.5 988.5,704.5 989.5,702.5 991.5,705.5 992.5,703.5 994.5,708.5 995.5,703.5 997.5,706.5 998.5,704.5 1000.5,704.5 1001.5,706.5 1003.5,706.5 1004.5,704.5 1005.5,706.5 1007.5,707.5 1008.5,707.5 1010.5,706.5 1011.5,707.5 1013.5,707.5 1014.5,709.5 1016.5,709.5 1017.5,708.5 1019.5,709.5 1020.5,711.5 1021.5,710.5 1023.5,713.5 1024.5,710.5 1026.5,710.5 1027.5,712.5 1029.5,712.5 1030.5,712.5 1032.5,713.5 1033.5,713.5 1034.5,714.5 1036.5,713.5 1037.5,714.5 1039.5,714.5 1040.5,717.5 1042.5,716.5 1043.5,716.5 1045.5,719.5 1046.5,718.5 1047.5,717.5 1049.5,718.5 1050.5,719.5 1052.5,723.5 1053.5,722.5 1055.5,721.5 1056.5,721.5 1058.5,721.5 1059.5,721.5 1061.5,724.5 1062.5,722.5 1063.5,723.5 1065.5,722.5 1066.5,722.5 1068.5,724.5 1069.5,725.5 1071.5,724.5 1072.5,724.5 1074.5,723.5 1075.5,724.5 1077.5,725.5 1078.5,726.5 1079.5,728.5 1081.5,727.5 1082.5,726.5 1084.5,726.5 1085.5,726.5"/>
<polyline class="ln" stroke="#f0e274" points="685.5,756.5 686.5,755.5 688.5,755.5 689.5,756.5 691.5,754.5 692.5,754.5 694.5,753.5 695.5,754.5 697.5,752.5 698.5,752.5 699.5,752.5 701.5,751.5 702.5,750.5 704.5,748.5 705.5,749.5 707.5,749.5 708.5,749.5 710.5,747.5 711.5,748.5 713.5,747.5 714.5,746.5 715.5,746.5 717.5,745.5 718.5,744.5 720.5,744.5 721.5,743.5 723.5,743.5 724.5,743.5 726.5,742.5 727.5,739.5 729.5,740.5 730.5,738.5 731.5,739.5 733.5,739.5 734.5,737.5 736.5,737.5 737.5,738.5 739.5,736.5 740.5,735.5 742.5,734.5 743.5,734.5 744.5,734.5 746.5,733.5 747.5,731.5 749.5,730.5 750.5,731.5 752.5,732.5 753.5,729.5 755.5,728.5 756.5,728.5 757.5,729.5 759.5,726.5 760.5,723.5 762.5,724.5 763.5,724.5 765.5,722.5 766.5,721.5 768.5,721.5 769.5,723.5 771.5,721.5 772.5,719.5 773.5,717.5 775.5,717.5 776.5,717.5 778.5,716.5 779.5,716.5 781.5,717.5 782.5,716.5 784.5,714.5 785.5,711.5 787.5,711.5 788.5,710.5 789.5,710.5 791.5,709.5 792.5,710.5 794.5,710.5 795.5,706.5 797.5,709.5 798.5,708.5 800.5,706.5 801.5,705.5 802.5,709.5 804.5,706.5 805.5,706.5 807.5,704.5 808.5,707.5 810.5,706.5 811.5,705.5 813.5,705.5 814.5,703.5 815.5,702.5 817.5,706.5 818.5,704.5 820.5,703.5 821.5,702.5 823.5,703.5 824.5,701.5 826.5,701.5 827.5,701.5 829.5,704.5 830.5,702.5 831.5,700.5 833.5,698.5 834.5,700.5 836.5,698.5 837.5,699.5 839.5,697.5 840.5,698.5 842.5,698.5 843.5,700.5 845.5,700.5 846.5,699.5 847.5,697.5 849.5,700.5 850.5,700.5 852.5,700.5 853.5,701.5 855.5,699.5 856.5,698.5 858.5,700.5 859.5,698.5 860.5,699.5 862.5,697.5 863.5,694.5 865.5,695.5 866.5,694.5 868.5,692.5 869.5,692.5 871.5,691.5 872.5,691.5 873.5,691.5 875.5,693.5 876.5,693.5 878.5,694.5 879.5,695.5 881.5,691.5 882.5,694.5 884.5,693.5 885.5,692.5 887.5,691.5 888.5,696.5 889.5,694.5 891.5,692.5 892.5,691.5 894.5,695.5 895.5,695.5 897.5,691.5 898.5,694.5 900.5,693.5 901.5,693.5 903.5,691.5 904.5,696.5 905.5,692.5 907.5,692.5 908.5,690.5 910.5,689.5 911.5,692.5 913.5,691.5 914.5,690.5 916.5,690.5 917.5,693.5 918.5,694.5 920.5,695.5 921.5,695.5 923.5,696.5 924.5,697.5 926.5,698.5 927.5,695.5 929.5,695.5 930.5,699.5 931.5,696.5 933.5,698.5 934.5,699.5 936.5,696.5 937.5,695.5 939.5,692.5 940.5,694.5 942.5,695.5 943.5,697.5 945.5,693.5 946.5,697.5 947.5,694.5 949.5,693.5 950.5,695.5 952.5,693.5 953.5,696.5 955.5,699.5 956.5,695.5 958.5,697.5 959.5,696.5 961.5,699.5 962.5,699.5 963.5,702.5 965.5,698.5 966.5,701.5 968.5,699.5 969.5,701.5 971.5,701.5 972.5,702.5 974.5,699.5 975.5,702.5 976.5,701.5 978.5,698.5 979.5,700.5 981.5,703.5 982.5,701.5 984.5,701.5 985.5,701.5 987.5,702.5 988.5,703.5 989.5,702.5 991.5,704.5 992.5,702.5 994.5,707.5 995.5,703.5 997.5,707.5 998.5,703.5 1000.5,704.5 1001.5,706.5 1003.5,706.5 1004.5,703.5 1005.5,705.5 1007.5,706.5 1008.5,706.5 1010.5,706.5 1011.5,706.5 1013.5,707.5 1014.5,708.5 1016.5,708.5 1017.5,708.5 1019.5,708.5 1020.5,710.5 1021.5,708.5 1023.5,712.5 1024.5,710.5 1026.5,709.5 1027.5,711.5 1029.5,711.5 1030.5,712.5 1032.5,712.5 1033.5,713.5 1034.5,714.5 1036.5,712.5 1037.5,713.5 1039.5,713.5 1040.5,716.5 1042.5,716.5 1043.5,716.5 1045.5,718.5 1046.5,717.5 1047.5,716.5 1049.5,718.5 1050.5,719.5 1052.5,722.5 1053.5,721.5 1055.5,720.5 1056.5,721.5 1058.5,721.5 1059.5,720.5 1061.5,723.5 1062.5,722.5 1063.5,723.5 1065.5,722.5 1066.5,722.5 1068.5,724.5 1069.5,724.5 1071.5,723.5 1072.5,724.5 1074.5,723.5 1075.5,724.5 1077.5,724.5 1078.5,726.5 1079.5,727.5 1081.5,727.5 1082.5,726.5 1084.5,725.5 1085.5,726.5"/>
<polyline class="ln" stroke="#dc7c20" points="685.5,756.5 686.5,755.5 688.5,755.5 689.5,756.5 691.5,753.5 692.5,754.5 694.5,753.5 695.5,754.5 697.5,752.5 698.5,752.5 699.5,753.5 701.5,751.5 702.5,750.5 704.5,749.5 705.5,749.5 707.5,749.5 708.5,749.5 710.5,747.5 711.5,748.5 713.5,747.5 714.5,746.5 715.5,746.5 717.5,745.5 718.5,744.5 720.5,744.5 721.5,743.5 723.5,742.5 724.5,743.5 726.5,741.5 727.5,739.5 729.5,739.5 730.5,739.5 731.5,739.5 733.5,739.5 734.5,737.5 736.5,738.5 737.5,738.5 739.5,736.5 740.5,735.5 742.5,734.5 743.5,734.5 744.5,734.5 746.5,733.5 747.5,731.5 749.5,730.5 750.5,731.5 752.5,732.5 753.5,730.5 755.5,728.5 756.5,728.5 757.5,729.5 759.5,726.5 760.5,723.5 762.5,724.5 763.5,723.5 765.5,723.5 766.5,721.5 768.5,720.5 769.5,723.5 771.5,720.5 772.5,719.5 773.5,717.5 775.5,716.5 776.5,717.5 778.5,715.5 779.5,715.5 781.5,716.5 782.5,716.5 784.5,713.5 785.5,710.5 787.5,711.5 788.5,709.5 789.5,709.5 791.5,709.5 792.5,710.5 794.5,710.5 795.5,705.5 797.5,709.5 798.5,707.5 800.5,705.5 801.5,705.5 802.5,709.5 804.5,706.5 805.5,706.5 807.5,704.5 808.5,706.5 810.5,705.5 811.5,704.5 813.5,704.5 814.5,703.5 815.5,703.5 817.5,705.5 818.5,703.5 820.5,702.5 821.5,701.5 823.5,703.5 824.5,702.5 826.5,701.5 827.5,700.5 829.5,703.5 830.5,702.5 831.5,699.5 833.5,698.5 834.5,698.5 836.5,698.5 837.5,698.5 839.5,696.5 840.5,697.5 842.5,697.5 843.5,700.5 845.5,699.5 846.5,698.5 847.5,697.5 849.5,699.5 850.5,700.5 852.5,700.5 853.5,700.5 855.5,698.5 856.5,698.5 858.5,699.5 859.5,697.5 860.5,698.5 862.5,697.5 863.5,693.5 865.5,695.5 866.5,693.5 868.5,691.5 869.5,691.5 871.5,690.5 872.5,690.5 873.5,691.5 875.5,694.5 876.5,691.5 878.5,693.5 879.5,694.5 881.5,689.5 882.5,693.5 884.5,692.5 885.5,692.5 887.5,691.5 888.5,694.5 889.5,693.5 891.5,691.5 892.5,690.5 894.5,693.5 895.5,694.5 897.5,690.5 898.5,692.5 900.5,693.5 901.5,693.5 903.5,691.5 904.5,695.5 905.5,691.5 907.5,691.5 908.5,690.5 910.5,689.5 911.5,691.5 913.5,691.5 914.5,689.5 916.5,689.5 917.5,692.5 918.5,694.5 920.5,694.5 921.5,694.5 923.5,694.5 924.5,697.5 926.5,697.5 927.5,695.5 929.5,694.5 930.5,698.5 931.5,696.5 933.5,696.5 934.5,698.5 936.5,695.5 937.5,694.5 939.5,692.5 940.5,694.5 942.5,695.5 943.5,697.5 945.5,692.5 946.5,696.5 947.5,693.5 949.5,692.5 950.5,694.5 952.5,691.5 953.5,696.5 955.5,698.5 956.5,694.5 958.5,696.5 959.5,696.5 961.5,699.5 962.5,699.5 963.5,701.5 965.5,697.5 966.5,701.5 968.5,699.5 969.5,701.5 971.5,699.5 972.5,701.5 974.5,699.5 975.5,701.5 976.5,700.5 978.5,699.5 979.5,700.5 981.5,702.5 982.5,700.5 984.5,700.5 985.5,701.5 987.5,702.5 988.5,702.5 989.5,701.5 991.5,704.5 992.5,701.5 994.5,706.5 995.5,702.5 997.5,705.5 998.5,703.5 1000.5,703.5 1001.5,705.5 1003.5,705.5 1004.5,703.5 1005.5,705.5 1007.5,706.5 1008.5,705.5 1010.5,706.5 1011.5,706.5 1013.5,706.5 1014.5,708.5 1016.5,708.5 1017.5,708.5 1019.5,708.5 1020.5,711.5 1021.5,708.5 1023.5,711.5 1024.5,709.5 1026.5,709.5 1027.5,710.5 1029.5,711.5 1030.5,711.5 1032.5,712.5 1033.5,712.5 1034.5,713.5 1036.5,712.5 1037.5,713.5 1039.5,714.5 1040.5,715.5 1042.5,715.5 1043.5,716.5 1045.5,718.5 1046.5,716.5 1047.5,716.5 1049.5,718.5 1050.5,719.5 1052.5,721.5 1053.5,721.5 1055.5,720.5 1056.5,720.5 1058.5,721.5 1059.5,720.5 1061.5,723.5 1062.5,722.5 1063.5,722.5 1065.5,722.5 1066.5,721.5 1068.5,723.5 1069.5,724.5 1071.5,723.5 1072.5,723.5 1074.5,723.5 1075.5,723.5 1077.5,724.5 1078.5,726.5 1079.5,727.5 1081.5,727.5 1082.5,725.5 1084.5,724.5 1085.5,726.5"/>
<path class="ax" d="M684.5 690 V757.5 H1087"/>
<line class="ax" x1="684" y1="703.5" x2="690" y2="703.5"/>
<line class="ax" x1="684" y1="727.5" x2="690" y2="727.5"/>
<line class="ax" x1="684" y1="751.5" x2="690" y2="751.5"/>
<line class="ax" x1="740.5" y1="758" x2="740.5" y2="752"/>
<line class="ax" x1="827.5" y1="758" x2="827.5" y2="752"/>
<line class="ax" x1="915.5" y1="758" x2="915.5" y2="752"/>
<line class="ax" x1="1002.5" y1="758" x2="1002.5" y2="752"/>
<text class="tk" transform="translate(677.1,714.7) scale(1,1.05)" text-anchor="end">30</text>
<text class="tk" transform="translate(677.1,738.7) scale(1,1.05)" text-anchor="end">20</text>
<text class="tk" transform="translate(677.1,762.7) scale(1,1.05)" text-anchor="end">10</text>
<text class="tk" transform="translate(739.7,792.6) scale(1,1.05)" text-anchor="middle">2685</text>
<text class="tk" transform="translate(826.7,792.6) scale(1,1.05)" text-anchor="middle">2690</text>
<text class="tk" transform="translate(913.7,792.6) scale(1,1.05)" text-anchor="middle">2695</text>
<text class="tk" transform="translate(1001.7,792.6) scale(1,1.05)" text-anchor="middle">2700</text>
<text class="ti" transform="translate(884.0,669.5) scale(1,1.05)" text-anchor="middle">Bin 8</text>
<text transform="translate(778.2,830.0) scale(1,1.05)" text-anchor="start">Wavenumber</text>
<text transform="translate(928.4,830.0) scale(1,1.05)" text-anchor="start">[cm</text>
<text class="sup" transform="translate(966.2,818.7) scale(1,1.05)" text-anchor="start">-</text>
<text class="sup" transform="translate(973.2,819.5) scale(1,1.05)" text-anchor="start">1</text>
<text transform="translate(983.8,830.0) scale(1,1.05)" text-anchor="start">]</text>
<text transform="translate(637.1,725.7) rotate(-90) scale(1,1.05)" text-anchor="middle">ADU</text>
</g>
</svg>
</body></html>
